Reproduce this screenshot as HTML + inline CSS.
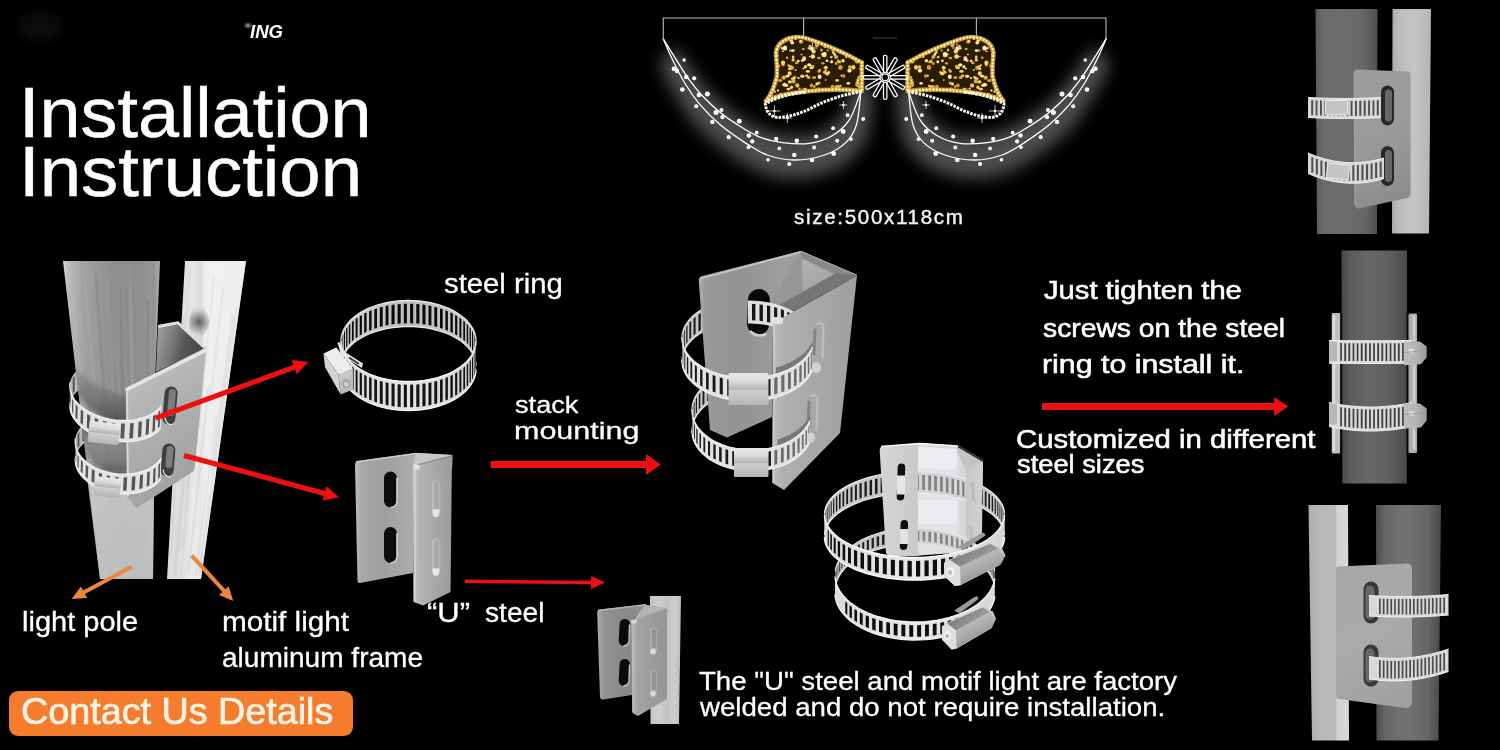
<!DOCTYPE html>
<html lang="en"><head><meta charset="utf-8"><title>Installation Instruction</title>
<style>
html,body{margin:0;padding:0;background:#000;}
#stage{position:relative;width:1500px;height:750px;background:#000;overflow:hidden;font-family:"Liberation Sans",sans-serif;}
#art{position:absolute;left:0;top:0;width:1500px;height:750px;}
.t{position:absolute;white-space:nowrap;transform-origin:0 50%;color:#fff;}
</style></head><body>
<div id="stage">
<svg id="art" width="1500" height="750" viewBox="0 0 1500 750">
<defs><linearGradient id="g1" gradientUnits="userSpaceOnUse" x1="1315" y1="0" x2="1378" y2="0"><stop offset="0" stop-color="#585858"/><stop offset="0.12" stop-color="#6a6a6a"/><stop offset="0.45" stop-color="#6d6d6d"/><stop offset="0.8" stop-color="#666"/><stop offset="1" stop-color="#4c4c4c"/></linearGradient><linearGradient id="g2" gradientUnits="userSpaceOnUse" x1="1392" y1="0" x2="1431" y2="0"><stop offset="0" stop-color="#acacac"/><stop offset="0.2" stop-color="#bebebe"/><stop offset="0.6" stop-color="#c4c4c4"/><stop offset="1" stop-color="#b4b4b4"/></linearGradient><linearGradient id="g3" gradientUnits="userSpaceOnUse" x1="1354" y1="70" x2="1410" y2="205"><stop offset="0" stop-color="#9d9d9d"/><stop offset="0.5" stop-color="#9a9a9a"/><stop offset="1" stop-color="#8a8a8a"/></linearGradient><linearGradient id="g4" gradientUnits="userSpaceOnUse" x1="1342" y1="0" x2="1406.5" y2="0"><stop offset="0" stop-color="#484848"/><stop offset="0.15" stop-color="#5e5e5e"/><stop offset="0.4" stop-color="#676767"/><stop offset="0.75" stop-color="#606060"/><stop offset="1" stop-color="#4a4a4a"/></linearGradient><linearGradient id="g5" gradientUnits="userSpaceOnUse" x1="1404" y1="0" x2="1428" y2="0"><stop offset="0" stop-color="#bebebe"/><stop offset="0.5" stop-color="#b5b5b5"/><stop offset="1" stop-color="#979797"/></linearGradient><linearGradient id="g6" gradientUnits="userSpaceOnUse" x1="1404" y1="0" x2="1428" y2="0"><stop offset="0" stop-color="#bebebe"/><stop offset="0.5" stop-color="#b5b5b5"/><stop offset="1" stop-color="#979797"/></linearGradient><linearGradient id="g7" gradientUnits="userSpaceOnUse" x1="1308" y1="0" x2="1348" y2="0"><stop offset="0" stop-color="#acacac"/><stop offset="0.3" stop-color="#b8b8b8"/><stop offset="0.7" stop-color="#bababa"/><stop offset="0.72" stop-color="#d3d3d3"/><stop offset="1" stop-color="#d7d7d7"/></linearGradient><linearGradient id="g8" gradientUnits="userSpaceOnUse" x1="1376" y1="0" x2="1441" y2="0"><stop offset="0" stop-color="#4c4c4c"/><stop offset="0.15" stop-color="#676767"/><stop offset="0.45" stop-color="#737373"/><stop offset="0.8" stop-color="#666"/><stop offset="1" stop-color="#484848"/></linearGradient><linearGradient id="g9" gradientUnits="userSpaceOnUse" x1="1336" y1="560" x2="1412" y2="705"><stop offset="0" stop-color="#a6a6a6"/><stop offset="0.5" stop-color="#aaaaaa"/><stop offset="1" stop-color="#9f9f9f"/></linearGradient><filter id="blur3" x="-20%" y="-20%" width="140%" height="140%"><feGaussianBlur stdDeviation="2"/></filter><linearGradient id="g10" gradientUnits="userSpaceOnUse" x1="175" y1="0" x2="235" y2="0"><stop offset="0" stop-color="#dcdcdc"/><stop offset="0.3" stop-color="#e6e6e6"/><stop offset="0.42" stop-color="#dadada"/><stop offset="0.5" stop-color="#eeeeee"/><stop offset="1" stop-color="#e8e8e8"/></linearGradient><linearGradient id="g11" gradientUnits="userSpaceOnUse" x1="0" y1="261" x2="0" y2="579"><stop offset="0" stop-color="#f1f1f1"/><stop offset="1" stop-color="#eaeaea"/></linearGradient><radialGradient id="g12" gradientUnits="userSpaceOnUse" cx="199" cy="322" r="15"><stop offset="0" stop-color="#4c4c4c" stop-opacity="0.9"/><stop offset="0.5" stop-color="#777" stop-opacity="0.55"/><stop offset="1" stop-color="#aaa" stop-opacity="0"/></radialGradient><linearGradient id="g13" gradientUnits="userSpaceOnUse" x1="63" y1="0" x2="160" y2="0"><stop offset="0" stop-color="#dadada"/><stop offset="0.05" stop-color="#bebebe"/><stop offset="0.2" stop-color="#a2a2a2"/><stop offset="0.5" stop-color="#909090"/><stop offset="0.8" stop-color="#8d8d8d"/><stop offset="0.95" stop-color="#9b9b9b"/><stop offset="1" stop-color="#acacac"/></linearGradient><linearGradient id="g14" gradientUnits="userSpaceOnUse" x1="0" y1="470" x2="0" y2="579"><stop offset="0" stop-color="#cfcfcf"/><stop offset="1" stop-color="#c9c9c9"/></linearGradient><linearGradient id="g15" gradientUnits="userSpaceOnUse" x1="0" y1="378" x2="0" y2="424"><stop offset="0" stop-color="#868686"/><stop offset="0.5" stop-color="#656565"/><stop offset="1" stop-color="#393939"/></linearGradient><linearGradient id="g16" gradientUnits="userSpaceOnUse" x1="0" y1="425" x2="0" y2="480"><stop offset="0" stop-color="#565656"/><stop offset="0.35" stop-color="#888"/><stop offset="0.65" stop-color="#777"/><stop offset="1" stop-color="#393939"/></linearGradient><linearGradient id="g17" gradientUnits="userSpaceOnUse" x1="158" y1="340" x2="200" y2="350"><stop offset="0" stop-color="#999"/><stop offset="0.35" stop-color="#777777"/><stop offset="0.6" stop-color="#585858"/><stop offset="1" stop-color="#484848"/></linearGradient><linearGradient id="g18" gradientUnits="userSpaceOnUse" x1="126" y1="380" x2="200" y2="480"><stop offset="0" stop-color="#bebebe"/><stop offset="0.4" stop-color="#b0b0b0"/><stop offset="1" stop-color="#a0a0a0"/></linearGradient><linearGradient id="g19" gradientUnits="userSpaceOnUse" x1="0" y1="422.5" x2="0" y2="443.5"><stop offset="0" stop-color="#e8e8e8"/><stop offset="0.25" stop-color="#dcdcdc"/><stop offset="0.5" stop-color="#b5b5b5"/><stop offset="0.55" stop-color="#cfcfcf"/><stop offset="1" stop-color="#b5b5b5"/></linearGradient><linearGradient id="g20" gradientUnits="userSpaceOnUse" x1="0" y1="477.5" x2="0" y2="496.5"><stop offset="0" stop-color="#e8e8e8"/><stop offset="0.25" stop-color="#dcdcdc"/><stop offset="0.5" stop-color="#b5b5b5"/><stop offset="0.55" stop-color="#cfcfcf"/><stop offset="1" stop-color="#b5b5b5"/></linearGradient><linearGradient id="g21" gradientUnits="userSpaceOnUse" x1="341" y1="0" x2="476" y2="0"><stop offset="0" stop-color="#d0d0d0"/><stop offset="0.5" stop-color="#bebebe"/><stop offset="1" stop-color="#cbcbcb"/></linearGradient><linearGradient id="g22" gradientUnits="userSpaceOnUse" x1="341" y1="0" x2="476" y2="0"><stop offset="0" stop-color="#d8d8d8"/><stop offset="0.5" stop-color="#e5e5e5"/><stop offset="1" stop-color="#d3d3d3"/></linearGradient><linearGradient id="g23" gradientUnits="userSpaceOnUse" x1="340" y1="372" x2="350" y2="394"><stop offset="0" stop-color="#cdcdcd"/><stop offset="1" stop-color="#b4b4b4"/></linearGradient><linearGradient id="g24" gradientUnits="userSpaceOnUse" x1="355" y1="0" x2="413" y2="0"><stop offset="0" stop-color="#bebebe"/><stop offset="0.12" stop-color="#a7a7a7"/><stop offset="0.5" stop-color="#9f9f9f"/><stop offset="1" stop-color="#acacac"/></linearGradient><linearGradient id="g25" gradientUnits="userSpaceOnUse" x1="413" y1="0" x2="452" y2="0"><stop offset="0" stop-color="#c5c5c5"/><stop offset="0.18" stop-color="#b4b4b4"/><stop offset="0.6" stop-color="#a6a6a6"/><stop offset="1" stop-color="#9c9c9c"/></linearGradient><linearGradient id="g26" gradientUnits="userSpaceOnUse" x1="699" y1="0" x2="780" y2="0"><stop offset="0" stop-color="#afafaf"/><stop offset="0.08" stop-color="#999999"/><stop offset="0.5" stop-color="#939393"/><stop offset="1" stop-color="#9d9d9d"/></linearGradient><linearGradient id="g27" gradientUnits="userSpaceOnUse" x1="802" y1="258" x2="830" y2="300"><stop offset="0" stop-color="#b2b2b2"/><stop offset="1" stop-color="#9f9f9f"/></linearGradient><linearGradient id="g28" gradientUnits="userSpaceOnUse" x1="773" y1="0" x2="857" y2="0"><stop offset="0" stop-color="#bcbcbc"/><stop offset="0.15" stop-color="#afafaf"/><stop offset="0.6" stop-color="#a6a6a6"/><stop offset="1" stop-color="#9e9e9e"/></linearGradient><linearGradient id="g29" gradientUnits="userSpaceOnUse" x1="0" y1="373" x2="0" y2="405"><stop offset="0" stop-color="#e8e8e8"/><stop offset="0.25" stop-color="#dcdcdc"/><stop offset="0.5" stop-color="#b5b5b5"/><stop offset="0.55" stop-color="#cfcfcf"/><stop offset="1" stop-color="#b5b5b5"/></linearGradient><linearGradient id="g30" gradientUnits="userSpaceOnUse" x1="0" y1="448" x2="0" y2="477"><stop offset="0" stop-color="#e8e8e8"/><stop offset="0.25" stop-color="#dcdcdc"/><stop offset="0.5" stop-color="#b5b5b5"/><stop offset="0.55" stop-color="#cfcfcf"/><stop offset="1" stop-color="#b5b5b5"/></linearGradient><linearGradient id="g31" gradientUnits="userSpaceOnUse" x1="825" y1="0" x2="1005" y2="0"><stop offset="0" stop-color="#cdcdcd"/><stop offset="0.5" stop-color="#bebebe"/><stop offset="1" stop-color="#c7c7c7"/></linearGradient><linearGradient id="g32" gradientUnits="userSpaceOnUse" x1="825" y1="0" x2="1005" y2="0"><stop offset="0" stop-color="#dadada"/><stop offset="0.5" stop-color="#e8e8e8"/><stop offset="1" stop-color="#d5d5d5"/></linearGradient><linearGradient id="g33" gradientUnits="userSpaceOnUse" x1="878" y1="0" x2="984" y2="0"><stop offset="0" stop-color="#cecece"/><stop offset="0.35" stop-color="#c9c9c9"/><stop offset="0.4" stop-color="#dcdcdc"/><stop offset="0.75" stop-color="#d6d6d6"/><stop offset="0.8" stop-color="#c3c3c3"/><stop offset="1" stop-color="#cccccc"/></linearGradient><linearGradient id="g34" gradientUnits="userSpaceOnUse" x1="880" y1="0" x2="918" y2="0"><stop offset="0" stop-color="#d5d5d5"/><stop offset="1" stop-color="#c9c9c9"/></linearGradient><linearGradient id="g35" gradientUnits="userSpaceOnUse" x1="965" y1="0" x2="984" y2="0"><stop offset="0" stop-color="#c7c7c7"/><stop offset="1" stop-color="#d2d2d2"/></linearGradient><linearGradient id="g36" gradientUnits="userSpaceOnUse" x1="960" y1="548" x2="975" y2="566"><stop offset="0" stop-color="#787878"/><stop offset="1" stop-color="#9b9b9b"/></linearGradient><linearGradient id="g37" gradientUnits="userSpaceOnUse" x1="975" y1="556" x2="985" y2="578"><stop offset="0" stop-color="#bcbcbc"/><stop offset="0.6" stop-color="#a8a8a8"/><stop offset="1" stop-color="#888888"/></linearGradient><linearGradient id="g38" gradientUnits="userSpaceOnUse" x1="650" y1="0" x2="681" y2="0"><stop offset="0" stop-color="#c6c6c6"/><stop offset="0.3" stop-color="#cfcfcf"/><stop offset="0.55" stop-color="#c3c3c3"/><stop offset="0.8" stop-color="#cdcdcd"/><stop offset="1" stop-color="#bababa"/></linearGradient><linearGradient id="g39" gradientUnits="userSpaceOnUse" x1="597" y1="0" x2="646" y2="0"><stop offset="0" stop-color="#acacac"/><stop offset="0.15" stop-color="#929292"/><stop offset="0.6" stop-color="#888888"/><stop offset="1" stop-color="#939393"/></linearGradient><linearGradient id="g40" gradientUnits="userSpaceOnUse" x1="631" y1="0" x2="667" y2="0"><stop offset="0" stop-color="#bababa"/><stop offset="0.2" stop-color="#a2a2a2"/><stop offset="1" stop-color="#959595"/></linearGradient><filter id="blur7" x="-30%" y="-30%" width="160%" height="160%"><feGaussianBlur stdDeviation="8"/></filter><filter id="blur05" x="-10%" y="-10%" width="120%" height="120%"><feGaussianBlur stdDeviation="0.6"/></filter><filter id="blur2" x="-30%" y="-30%" width="160%" height="160%"><feGaussianBlur stdDeviation="1.2"/></filter><radialGradient id="g41" gradientUnits="userSpaceOnUse" cx="0" cy="0" r="1"><stop offset="0" stop-color="#0e0e0e" stop-opacity="1"/><stop offset="0.5" stop-color="#0b0b0b" stop-opacity="0.8"/><stop offset="1" stop-color="#000" stop-opacity="0"/></radialGradient></defs>
<polygon points="1315.5,9.0 1377.5,9.0 1377.0,234.0 1317.0,234.0" fill="url(#g1)" /><polygon points="1392.5,9.0 1431.0,9.0 1429.0,233.5 1392.0,233.5" fill="url(#g2)" /><path d="M1357 69.5 L1407 71.5 Q1410.5 71.5 1410.5 75 L1410.5 194 Q1410.5 197 1407 198 L1359 208.5 Q1355 209 1355 205 L1354 73 Q1354 69.5 1357 69.5Z" fill="url(#g3)"/><path d="M1355 205 L1354 73" stroke="#a5a39f" stroke-width="1.2" fill="none"/><rect x="1381.0" y="85.5" width="13.0" height="40.0" rx="6.5" fill="#2a2826"  /><rect x="1385.0" y="89.5" width="7.0" height="32.0" rx="3.5" fill="#6a6866"  /><rect x="1381.0" y="146.0" width="13.0" height="40.0" rx="6.5" fill="#2a2826"  /><rect x="1385.0" y="150.0" width="7.0" height="32.0" rx="3.5" fill="#6a6866"  /><polygon points="1308.0,97.5 1311.0,97.7 1314.1,97.8 1317.1,97.9 1320.2,98.1 1323.2,98.2 1326.2,98.2 1329.3,98.3 1332.3,98.4 1335.4,98.4 1338.4,98.5 1341.5,98.5 1344.5,98.5 1347.5,98.5 1350.6,98.5 1353.6,98.4 1356.7,98.4 1359.7,98.3 1362.8,98.2 1365.8,98.2 1368.8,98.1 1371.9,97.9 1374.9,97.8 1378.0,97.7 1381.0,97.5 1381.0,117.5 1378.0,117.7 1374.9,117.8 1371.9,117.9 1368.8,118.1 1365.8,118.2 1362.8,118.2 1359.7,118.3 1356.7,118.4 1353.6,118.4 1350.6,118.5 1347.5,118.5 1344.5,118.5 1341.5,118.5 1338.4,118.5 1335.4,118.4 1332.3,118.4 1329.3,118.3 1326.2,118.2 1323.2,118.2 1320.2,118.1 1317.1,117.9 1314.1,117.8 1311.0,117.7 1308.0,117.5" fill="#d6d6d6" /><path d="M1311.2 100.2L1313.2 100.2L1313.2 115.2L1311.2 115.2ZM1315.6 100.4L1317.5 100.4L1317.5 115.4L1315.6 115.4ZM1320.0 100.6L1321.9 100.6L1321.9 115.6L1320.0 115.6ZM1324.3 100.7L1326.3 100.7L1326.3 115.7L1324.3 115.7ZM1328.7 100.8L1330.7 100.8L1330.7 115.8L1328.7 115.8ZM1333.1 100.9L1335.0 100.9L1335.0 115.9L1333.1 115.9ZM1337.5 101.0L1339.4 101.0L1339.4 116.0L1337.5 116.0ZM1341.8 101.0L1343.8 101.0L1343.8 116.0L1341.8 116.0ZM1346.2 101.0L1348.2 101.0L1348.2 116.0L1346.2 116.0ZM1350.6 101.0L1352.5 101.0L1352.5 116.0L1350.6 116.0ZM1355.0 100.9L1356.9 100.9L1356.9 115.9L1355.0 115.9ZM1359.3 100.8L1361.3 100.8L1361.3 115.8L1359.3 115.8ZM1363.7 100.7L1365.7 100.7L1365.7 115.7L1363.7 115.7ZM1368.1 100.5L1370.0 100.5L1370.0 115.5L1368.1 115.5ZM1372.5 100.4L1374.4 100.4L1374.4 115.4L1372.5 115.4ZM1376.8 100.2L1378.8 100.2L1378.8 115.2L1376.8 115.2Z" fill="#505050"/><polyline points="1308.0,97.5 1311.0,97.7 1314.1,97.8 1317.1,97.9 1320.2,98.1 1323.2,98.2 1326.2,98.2 1329.3,98.3 1332.3,98.4 1335.4,98.4 1338.4,98.5 1341.5,98.5 1344.5,98.5 1347.5,98.5 1350.6,98.5 1353.6,98.4 1356.7,98.4 1359.7,98.3 1362.8,98.2 1365.8,98.2 1368.8,98.1 1371.9,97.9 1374.9,97.8 1378.0,97.7 1381.0,97.5" fill="none" stroke="#f4f4f4" stroke-width="1"/><polyline points="1308.0,117.5 1311.0,117.7 1314.1,117.8 1317.1,117.9 1320.2,118.1 1323.2,118.2 1326.2,118.2 1329.3,118.3 1332.3,118.4 1335.4,118.4 1338.4,118.5 1341.5,118.5 1344.5,118.5 1347.5,118.5 1350.6,118.5 1353.6,118.4 1356.7,118.4 1359.7,118.3 1362.8,118.2 1365.8,118.2 1368.8,118.1 1371.9,117.9 1374.9,117.8 1378.0,117.7 1381.0,117.5" fill="none" stroke="#f4f4f4" stroke-width="1"/><rect x="1325.5" y="100.5" width="22.0" height="14.5" rx="1" fill="#c4c4c4" stroke="#efefef" stroke-width="1"/><polygon points="1308.0,153.0 1311.2,154.3 1314.3,155.6 1317.5,156.7 1320.7,157.7 1323.8,158.7 1327.0,159.5 1330.2,160.2 1333.3,160.9 1336.5,161.4 1339.7,161.9 1342.8,162.2 1346.0,162.5 1349.2,162.7 1352.3,162.7 1355.5,162.7 1358.7,162.6 1361.8,162.3 1365.0,162.0 1368.2,161.6 1371.3,161.1 1374.5,160.4 1377.7,159.7 1380.8,158.9 1384.0,158.0 1384.0,178.5 1380.8,179.4 1377.7,180.2 1374.5,180.9 1371.3,181.6 1368.2,182.1 1365.0,182.5 1361.8,182.8 1358.7,183.1 1355.5,183.2 1352.3,183.2 1349.2,183.2 1346.0,183.0 1342.8,182.7 1339.7,182.4 1336.5,181.9 1333.3,181.4 1330.2,180.7 1327.0,180.0 1323.8,179.2 1320.7,178.2 1317.5,177.2 1314.3,176.1 1311.2,174.8 1308.0,173.5" fill="#d6d6d6" /><path d="M1311.3 157.3L1313.3 157.3L1313.3 172.8L1311.3 172.8ZM1315.8 159.0L1317.9 159.0L1317.9 174.5L1315.8 174.5ZM1320.4 160.4L1322.4 160.4L1322.4 175.9L1320.4 175.9ZM1324.9 161.7L1327.0 161.7L1327.0 177.2L1324.9 177.2ZM1329.5 162.8L1331.6 162.8L1331.6 178.3L1329.5 178.3ZM1334.1 163.7L1336.1 163.7L1336.1 179.2L1334.1 179.2ZM1338.6 164.4L1340.7 164.4L1340.7 179.9L1338.6 179.9ZM1343.2 164.9L1345.2 164.9L1345.2 180.4L1343.2 180.4ZM1347.8 165.1L1349.8 165.1L1349.8 180.6L1347.8 180.6ZM1352.3 165.2L1354.4 165.2L1354.4 180.7L1352.3 180.7ZM1356.9 165.1L1358.9 165.1L1358.9 180.6L1356.9 180.6ZM1361.4 164.8L1363.5 164.8L1363.5 180.3L1361.4 180.3ZM1366.0 164.2L1368.1 164.2L1368.1 179.7L1366.0 179.7ZM1370.6 163.5L1372.6 163.5L1372.6 179.0L1370.6 179.0ZM1375.1 162.6L1377.2 162.6L1377.2 178.1L1375.1 178.1ZM1379.7 161.4L1381.7 161.4L1381.7 176.9L1379.7 176.9Z" fill="#505050"/><polyline points="1308.0,153.0 1311.2,154.3 1314.3,155.6 1317.5,156.7 1320.7,157.7 1323.8,158.7 1327.0,159.5 1330.2,160.2 1333.3,160.9 1336.5,161.4 1339.7,161.9 1342.8,162.2 1346.0,162.5 1349.2,162.7 1352.3,162.7 1355.5,162.7 1358.7,162.6 1361.8,162.3 1365.0,162.0 1368.2,161.6 1371.3,161.1 1374.5,160.4 1377.7,159.7 1380.8,158.9 1384.0,158.0" fill="none" stroke="#f4f4f4" stroke-width="1"/><polyline points="1308.0,173.5 1311.2,174.8 1314.3,176.1 1317.5,177.2 1320.7,178.2 1323.8,179.2 1327.0,180.0 1330.2,180.7 1333.3,181.4 1336.5,181.9 1339.7,182.4 1342.8,182.7 1346.0,183.0 1349.2,183.2 1352.3,183.2 1355.5,183.2 1358.7,183.1 1361.8,182.8 1365.0,182.5 1368.2,182.1 1371.3,181.6 1374.5,180.9 1377.7,180.2 1380.8,179.4 1384.0,178.5" fill="none" stroke="#f4f4f4" stroke-width="1"/><rect x="1327.0" y="164.0" width="22.0" height="15.0" rx="1" fill="#c4c4c4" stroke="#efefef" stroke-width="1" transform="rotate(5 1338 171)"/><polygon points="1341.5,250.5 1407.0,250.5 1406.8,483.5 1342.3,483.5" fill="url(#g4)" /><rect x="1331.7" y="313.0" width="8.6" height="140.5" rx="1.5" fill="#bdbdbd" /><rect x="1332.6" y="315.0" width="2.6" height="136.0" rx="1" fill="#dcdcdc" /><rect x="1340.3" y="313.0" width="2.0" height="140.5" rx="0" fill="#0c0c0c" /><rect x="1406.5" y="313.5" width="2.0" height="139.5" rx="0" fill="#0c0c0c" /><rect x="1408.5" y="313.5" width="8.6" height="139.5" rx="1.5" fill="#ababab" /><rect x="1412.5" y="315.0" width="3.0" height="135.0" rx="1" fill="#cbcbcb" /><polygon points="1329.0,340.5 1332.5,340.5 1335.9,340.6 1339.4,340.6 1342.8,340.7 1346.3,340.7 1349.8,340.7 1353.2,340.7 1356.7,340.8 1360.1,340.8 1363.6,340.8 1367.0,340.8 1370.5,340.8 1374.0,340.8 1377.4,340.8 1380.9,340.8 1384.3,340.8 1387.8,340.7 1391.2,340.7 1394.7,340.7 1398.2,340.7 1401.6,340.6 1405.1,340.6 1408.5,340.5 1412.0,340.5 1412.0,363.2 1408.5,363.2 1405.1,363.3 1401.6,363.3 1398.2,363.4 1394.7,363.4 1391.2,363.4 1387.8,363.4 1384.3,363.5 1380.9,363.5 1377.4,363.5 1374.0,363.5 1370.5,363.5 1367.0,363.5 1363.6,363.5 1360.1,363.5 1356.7,363.5 1353.2,363.4 1349.8,363.4 1346.3,363.4 1342.8,363.4 1339.4,363.3 1335.9,363.3 1332.5,363.2 1329.0,363.2" fill="#dadada" /><path d="M1340.2 343.1L1341.9 343.1L1341.9 360.8L1340.2 360.8ZM1344.3 343.2L1346.1 343.2L1346.1 360.9L1344.3 360.9ZM1348.4 343.2L1350.2 343.2L1350.2 360.9L1348.4 360.9ZM1352.6 343.2L1354.3 343.2L1354.3 360.9L1352.6 360.9ZM1356.7 343.3L1358.4 343.3L1358.4 361.0L1356.7 361.0ZM1360.8 343.3L1362.6 343.3L1362.6 361.0L1360.8 361.0ZM1364.9 343.3L1366.7 343.3L1366.7 361.0L1364.9 361.0ZM1369.1 343.3L1370.8 343.3L1370.8 361.0L1369.1 361.0ZM1373.2 343.3L1374.9 343.3L1374.9 361.0L1373.2 361.0ZM1377.3 343.3L1379.1 343.3L1379.1 361.0L1377.3 361.0ZM1381.4 343.3L1383.2 343.3L1383.2 361.0L1381.4 361.0ZM1385.6 343.3L1387.3 343.3L1387.3 361.0L1385.6 361.0ZM1389.7 343.2L1391.4 343.2L1391.4 360.9L1389.7 360.9ZM1393.8 343.2L1395.6 343.2L1395.6 360.9L1393.8 360.9ZM1397.9 343.2L1399.7 343.2L1399.7 360.9L1397.9 360.9ZM1402.1 343.1L1403.8 343.1L1403.8 360.8L1402.1 360.8Z" fill="#3c3c3c"/><polyline points="1329.0,340.5 1332.5,340.5 1335.9,340.6 1339.4,340.6 1342.8,340.7 1346.3,340.7 1349.8,340.7 1353.2,340.7 1356.7,340.8 1360.1,340.8 1363.6,340.8 1367.0,340.8 1370.5,340.8 1374.0,340.8 1377.4,340.8 1380.9,340.8 1384.3,340.8 1387.8,340.7 1391.2,340.7 1394.7,340.7 1398.2,340.7 1401.6,340.6 1405.1,340.6 1408.5,340.5 1412.0,340.5" fill="none" stroke="#f4f4f4" stroke-width="1"/><polyline points="1329.0,363.2 1332.5,363.2 1335.9,363.3 1339.4,363.3 1342.8,363.4 1346.3,363.4 1349.8,363.4 1353.2,363.4 1356.7,363.5 1360.1,363.5 1363.6,363.5 1367.0,363.5 1370.5,363.5 1374.0,363.5 1377.4,363.5 1380.9,363.5 1384.3,363.5 1387.8,363.4 1391.2,363.4 1394.7,363.4 1398.2,363.4 1401.6,363.3 1405.1,363.3 1408.5,363.2 1412.0,363.2" fill="none" stroke="#f4f4f4" stroke-width="1"/><path d="M1404.3 341.5 L1420 341.5 L1426.7 346.5 L1426.7 357.2 L1421 364.2 L1404.3 365.2Z" fill="url(#g5)"/><ellipse cx="1411.5" cy="350.9" rx="3.2" ry="2.2" fill="#e2e2e2"/><path d="M1404.5 352.5 L1426.5 350.5" stroke="#9a9a9a" stroke-width="1" fill="none"/><rect x="1329.0" y="341.5" width="8.0" height="19.7" rx="1" fill="#b8b8b8" /><polygon points="1329.0,402.5 1332.5,403.2 1335.9,403.9 1339.4,404.5 1342.8,405.0 1346.3,405.5 1349.8,405.9 1353.2,406.2 1356.7,406.5 1360.1,406.7 1363.6,406.9 1367.0,407.0 1370.5,407.0 1374.0,407.0 1377.4,406.9 1380.9,406.7 1384.3,406.5 1387.8,406.2 1391.2,405.9 1394.7,405.5 1398.2,405.0 1401.6,404.5 1405.1,403.9 1408.5,403.2 1412.0,402.5 1412.0,426.5 1408.5,427.2 1405.1,427.9 1401.6,428.5 1398.2,429.0 1394.7,429.5 1391.2,429.9 1387.8,430.2 1384.3,430.5 1380.9,430.7 1377.4,430.9 1374.0,431.0 1370.5,431.0 1367.0,431.0 1363.6,430.9 1360.1,430.7 1356.7,430.5 1353.2,430.2 1349.8,429.9 1346.3,429.5 1342.8,429.0 1339.4,428.5 1335.9,427.9 1332.5,427.2 1329.0,426.5" fill="#dadada" /><path d="M1340.2 407.2L1341.9 407.2L1341.9 426.2L1340.2 426.2ZM1344.3 407.8L1346.1 407.8L1346.1 426.8L1344.3 426.8ZM1348.4 408.3L1350.2 408.3L1350.2 427.3L1348.4 427.3ZM1352.6 408.7L1354.3 408.7L1354.3 427.7L1352.6 427.7ZM1356.7 409.1L1358.4 409.1L1358.4 428.1L1356.7 428.1ZM1360.8 409.3L1362.6 409.3L1362.6 428.3L1360.8 428.3ZM1364.9 409.4L1366.7 409.4L1366.7 428.4L1364.9 428.4ZM1369.1 409.5L1370.8 409.5L1370.8 428.5L1369.1 428.5ZM1373.2 409.5L1374.9 409.5L1374.9 428.5L1373.2 428.5ZM1377.3 409.3L1379.1 409.3L1379.1 428.3L1377.3 428.3ZM1381.4 409.1L1383.2 409.1L1383.2 428.1L1381.4 428.1ZM1385.6 408.8L1387.3 408.8L1387.3 427.8L1385.6 427.8ZM1389.7 408.4L1391.4 408.4L1391.4 427.4L1389.7 427.4ZM1393.8 408.0L1395.6 408.0L1395.6 427.0L1393.8 427.0ZM1397.9 407.4L1399.7 407.4L1399.7 426.4L1397.9 426.4ZM1402.1 406.8L1403.8 406.8L1403.8 425.8L1402.1 425.8Z" fill="#3c3c3c"/><polyline points="1329.0,402.5 1332.5,403.2 1335.9,403.9 1339.4,404.5 1342.8,405.0 1346.3,405.5 1349.8,405.9 1353.2,406.2 1356.7,406.5 1360.1,406.7 1363.6,406.9 1367.0,407.0 1370.5,407.0 1374.0,407.0 1377.4,406.9 1380.9,406.7 1384.3,406.5 1387.8,406.2 1391.2,405.9 1394.7,405.5 1398.2,405.0 1401.6,404.5 1405.1,403.9 1408.5,403.2 1412.0,402.5" fill="none" stroke="#f4f4f4" stroke-width="1"/><polyline points="1329.0,426.5 1332.5,427.2 1335.9,427.9 1339.4,428.5 1342.8,429.0 1346.3,429.5 1349.8,429.9 1353.2,430.2 1356.7,430.5 1360.1,430.7 1363.6,430.9 1367.0,431.0 1370.5,431.0 1374.0,431.0 1377.4,430.9 1380.9,430.7 1384.3,430.5 1387.8,430.2 1391.2,429.9 1394.7,429.5 1398.2,429.0 1401.6,428.5 1405.1,427.9 1408.5,427.2 1412.0,426.5" fill="none" stroke="#f4f4f4" stroke-width="1"/><path d="M1404.3 403.5 L1420 403.5 L1426.7 408.5 L1426.7 420.5 L1421 427.5 L1404.3 428.5Z" fill="url(#g6)"/><ellipse cx="1411.5" cy="413.5" rx="3.2" ry="2.2" fill="#e2e2e2"/><path d="M1404.5 414.5 L1426.5 412.5" stroke="#9a9a9a" stroke-width="1" fill="none"/><rect x="1329.0" y="403.5" width="8.0" height="21.0" rx="1" fill="#b8b8b8" /><polygon points="1308.5,505.0 1348.0,505.0 1349.0,740.5 1312.0,740.5" fill="url(#g7)" /><polygon points="1376.0,505.0 1441.0,505.0 1438.5,740.5 1376.5,740.5" fill="url(#g8)" /><path d="M1338 566.5 L1407 563.5 Q1412 563.5 1412 568 L1412 701 Q1412 709 1405 708 L1339 699 Q1336 698.5 1336 696 L1336 569 Q1336 566.5 1338 566.5Z" fill="url(#g9)"/><rect x="1363.5" y="581.5" width="15.0" height="42.0" rx="7.5" fill="#3a3836"  /><rect x="1365.5" y="585.5" width="9.0" height="34.0" rx="4.5" fill="#6a6866"  /><rect x="1363.5" y="644.5" width="15.0" height="42.0" rx="7.5" fill="#3a3836"  /><rect x="1365.5" y="648.5" width="9.0" height="34.0" rx="4.5" fill="#6a6866"  /><polygon points="1369.0,595.5 1372.3,595.7 1375.6,595.9 1378.9,596.0 1382.2,596.2 1385.6,596.3 1388.9,596.4 1392.2,596.4 1395.5,596.5 1398.8,596.5 1402.1,596.5 1405.4,596.5 1408.8,596.5 1412.1,596.4 1415.4,596.4 1418.7,596.3 1422.0,596.2 1425.3,596.0 1428.6,595.9 1431.9,595.7 1435.2,595.5 1438.6,595.3 1441.9,595.0 1445.2,594.8 1448.5,594.5 1448.5,615.0 1445.2,615.3 1441.9,615.5 1438.6,615.8 1435.2,616.0 1431.9,616.2 1428.6,616.4 1425.3,616.5 1422.0,616.7 1418.7,616.8 1415.4,616.9 1412.1,616.9 1408.8,617.0 1405.4,617.0 1402.1,617.0 1398.8,617.0 1395.5,617.0 1392.2,616.9 1388.9,616.9 1385.6,616.8 1382.2,616.7 1378.9,616.5 1375.6,616.4 1372.3,616.2 1369.0,616.0" fill="#d8d8d8" /><path d="M1379.0 598.6L1380.7 598.6L1380.7 614.1L1379.0 614.1ZM1382.8 598.7L1384.5 598.7L1384.5 614.2L1382.8 614.2ZM1386.6 598.8L1388.3 598.8L1388.3 614.3L1386.6 614.3ZM1390.4 598.9L1392.1 598.9L1392.1 614.4L1390.4 614.4ZM1394.2 599.0L1395.8 599.0L1395.8 614.5L1394.2 614.5ZM1397.9 599.0L1399.6 599.0L1399.6 614.5L1397.9 614.5ZM1401.7 599.0L1403.4 599.0L1403.4 614.5L1401.7 614.5ZM1405.5 599.0L1407.2 599.0L1407.2 614.5L1405.5 614.5ZM1409.3 599.0L1411.0 599.0L1411.0 614.5L1409.3 614.5ZM1413.0 598.9L1414.7 598.9L1414.7 614.4L1413.0 614.4ZM1416.8 598.8L1418.5 598.8L1418.5 614.3L1416.8 614.3ZM1420.6 598.7L1422.3 598.7L1422.3 614.2L1420.6 614.2ZM1424.4 598.5L1426.1 598.5L1426.1 614.0L1424.4 614.0ZM1428.2 598.4L1429.8 598.4L1429.8 613.9L1428.2 613.9ZM1431.9 598.1L1433.6 598.1L1433.6 613.6L1431.9 613.6ZM1435.7 597.9L1437.4 597.9L1437.4 613.4L1435.7 613.4ZM1439.5 597.7L1441.2 597.7L1441.2 613.2L1439.5 613.2ZM1443.3 597.4L1445.0 597.4L1445.0 612.9L1443.3 612.9Z" fill="#4a4a4a"/><polyline points="1369.0,595.5 1372.3,595.7 1375.6,595.9 1378.9,596.0 1382.2,596.2 1385.6,596.3 1388.9,596.4 1392.2,596.4 1395.5,596.5 1398.8,596.5 1402.1,596.5 1405.4,596.5 1408.8,596.5 1412.1,596.4 1415.4,596.4 1418.7,596.3 1422.0,596.2 1425.3,596.0 1428.6,595.9 1431.9,595.7 1435.2,595.5 1438.6,595.3 1441.9,595.0 1445.2,594.8 1448.5,594.5" fill="none" stroke="#f4f4f4" stroke-width="1"/><polyline points="1369.0,616.0 1372.3,616.2 1375.6,616.4 1378.9,616.5 1382.2,616.7 1385.6,616.8 1388.9,616.9 1392.2,616.9 1395.5,617.0 1398.8,617.0 1402.1,617.0 1405.4,617.0 1408.8,617.0 1412.1,616.9 1415.4,616.9 1418.7,616.8 1422.0,616.7 1425.3,616.5 1428.6,616.4 1431.9,616.2 1435.2,616.0 1438.6,615.8 1441.9,615.5 1445.2,615.3 1448.5,615.0" fill="none" stroke="#f4f4f4" stroke-width="1"/><polygon points="1369.0,656.5 1372.3,657.0 1375.6,657.4 1378.9,657.8 1382.2,658.0 1385.6,658.2 1388.9,658.4 1392.2,658.4 1395.5,658.4 1398.8,658.4 1402.1,658.2 1405.4,658.0 1408.8,657.8 1412.1,657.4 1415.4,657.0 1418.7,656.5 1422.0,655.9 1425.3,655.3 1428.6,654.6 1431.9,653.9 1435.2,653.0 1438.6,652.1 1441.9,651.2 1445.2,650.1 1448.5,649.0 1448.5,671.5 1445.2,672.6 1441.9,673.7 1438.6,674.6 1435.2,675.5 1431.9,676.4 1428.6,677.1 1425.3,677.8 1422.0,678.4 1418.7,679.0 1415.4,679.5 1412.1,679.9 1408.8,680.2 1405.4,680.5 1402.1,680.7 1398.8,680.9 1395.5,680.9 1392.2,680.9 1388.9,680.9 1385.6,680.7 1382.2,680.5 1378.9,680.2 1375.6,679.9 1372.3,679.5 1369.0,679.0" fill="#d8d8d8" /><path d="M1379.0 660.3L1380.7 660.3L1380.7 677.8L1379.0 677.8ZM1382.8 660.6L1384.5 660.6L1384.5 678.1L1382.8 678.1ZM1386.6 660.8L1388.3 660.8L1388.3 678.3L1386.6 678.3ZM1390.4 660.9L1392.1 660.9L1392.1 678.4L1390.4 678.4ZM1394.2 660.9L1395.8 660.9L1395.8 678.4L1394.2 678.4ZM1397.9 660.9L1399.6 660.9L1399.6 678.4L1397.9 678.4ZM1401.7 660.7L1403.4 660.7L1403.4 678.2L1401.7 678.2ZM1405.5 660.5L1407.2 660.5L1407.2 678.0L1405.5 678.0ZM1409.3 660.1L1411.0 660.1L1411.0 677.6L1409.3 677.6ZM1413.0 659.7L1414.7 659.7L1414.7 677.2L1413.0 677.2ZM1416.8 659.2L1418.5 659.2L1418.5 676.7L1416.8 676.7ZM1420.6 658.5L1422.3 658.5L1422.3 676.0L1420.6 676.0ZM1424.4 657.8L1426.1 657.8L1426.1 675.3L1424.4 675.3ZM1428.2 657.0L1429.8 657.0L1429.8 674.5L1428.2 674.5ZM1431.9 656.2L1433.6 656.2L1433.6 673.7L1431.9 673.7ZM1435.7 655.2L1437.4 655.2L1437.4 672.7L1435.7 672.7ZM1439.5 654.1L1441.2 654.1L1441.2 671.6L1439.5 671.6ZM1443.3 653.0L1445.0 653.0L1445.0 670.5L1443.3 670.5Z" fill="#4a4a4a"/><polyline points="1369.0,656.5 1372.3,657.0 1375.6,657.4 1378.9,657.8 1382.2,658.0 1385.6,658.2 1388.9,658.4 1392.2,658.4 1395.5,658.4 1398.8,658.4 1402.1,658.2 1405.4,658.0 1408.8,657.8 1412.1,657.4 1415.4,657.0 1418.7,656.5 1422.0,655.9 1425.3,655.3 1428.6,654.6 1431.9,653.9 1435.2,653.0 1438.6,652.1 1441.9,651.2 1445.2,650.1 1448.5,649.0" fill="none" stroke="#f4f4f4" stroke-width="1"/><polyline points="1369.0,679.0 1372.3,679.5 1375.6,679.9 1378.9,680.2 1382.2,680.5 1385.6,680.7 1388.9,680.9 1392.2,680.9 1395.5,680.9 1398.8,680.9 1402.1,680.7 1405.4,680.5 1408.8,680.2 1412.1,679.9 1415.4,679.5 1418.7,679.0 1422.0,678.4 1425.3,677.8 1428.6,677.1 1431.9,676.4 1435.2,675.5 1438.6,674.6 1441.9,673.7 1445.2,672.6 1448.5,671.5" fill="none" stroke="#f4f4f4" stroke-width="1"/><polygon points="74.2,399.1 73.3,397.7 72.5,396.2 71.8,394.8 71.2,393.4 70.7,391.9 70.3,390.4 70.0,389.0 69.8,387.5 69.8,386.1 69.8,384.6 70.0,383.2 70.3,381.8 70.6,380.4 71.1,379.0 71.7,377.7 72.4,376.3 73.2,375.0 74.1,373.8 75.1,372.6 76.2,371.4 77.4,370.3 78.7,369.2 80.0,368.1 81.5,367.1 83.0,366.2 84.7,365.3 86.4,364.5 88.1,363.7 90.0,363.0 91.9,362.4 93.8,361.8 95.9,361.3 97.9,360.8 100.0,360.4 102.2,360.1 104.4,359.9 106.6,359.7 108.8,359.6 111.1,359.6 113.4,359.6 113.4,380.6 111.1,380.6 108.8,380.6 106.6,380.7 104.4,380.9 102.2,381.1 100.0,381.4 97.9,381.8 95.9,382.3 93.8,382.8 91.9,383.4 90.0,384.0 88.1,384.7 86.4,385.5 84.7,386.3 83.0,387.2 81.5,388.1 80.0,389.1 78.7,390.2 77.4,391.3 76.2,392.4 75.1,393.6 74.1,394.8 73.2,396.0 72.4,397.3 71.7,398.7 71.1,400.0 70.6,401.4 70.3,402.8 70.0,404.2 69.8,405.6 69.8,407.1 69.8,408.5 70.0,410.0 70.3,411.4 70.7,412.9 71.2,414.4 71.8,415.8 72.5,417.2 73.3,418.7 74.2,420.1" fill="#b9b9b9" /><path d="M73.0 400.1 L71.4 396.9 L71.4 411.9 L73.0 415.1ZM70.2 392.9 L69.8 389.6 L69.8 404.6 L70.2 407.9ZM70.1 385.7 L70.9 382.5 L70.9 397.5 L70.1 400.7ZM72.7 378.8 L74.7 376.0 L74.7 391.0 L72.7 393.8ZM77.8 372.8 L80.9 370.5 L80.9 385.5 L77.8 387.8ZM85.3 368.0 L89.3 366.3 L89.3 381.3 L85.3 383.0ZM94.6 364.6 L99.2 363.6 L99.2 378.6 L94.6 379.6ZM105.2 362.8 L110.2 362.6 L110.2 377.6 L105.2 377.8Z" fill="#555"/><polygon points="79.7,454.8 78.8,453.5 78.0,452.1 77.3,450.7 76.7,449.3 76.2,447.8 75.8,446.4 75.4,444.9 75.2,443.5 75.1,442.0 75.2,440.6 75.3,439.2 75.5,437.7 75.8,436.3 76.2,434.9 76.7,433.6 77.3,432.2 78.0,430.9 78.9,429.6 79.8,428.3 80.8,427.1 81.9,425.9 83.0,424.8 84.3,423.7 85.6,422.7 87.1,421.7 88.6,420.7 90.1,419.8 91.8,419.0 93.5,418.2 95.2,417.5 97.1,416.8 98.9,416.2 100.9,415.7 102.8,415.2 104.8,414.8 106.9,414.5 109.0,414.2 111.1,414.0 113.2,413.9 115.3,413.8 115.3,433.3 113.2,433.4 111.1,433.5 109.0,433.7 106.9,434.0 104.8,434.3 102.8,434.7 100.9,435.2 98.9,435.7 97.1,436.3 95.2,437.0 93.5,437.7 91.8,438.5 90.1,439.3 88.6,440.2 87.1,441.2 85.6,442.2 84.3,443.2 83.0,444.3 81.9,445.4 80.8,446.6 79.8,447.8 78.9,449.1 78.0,450.4 77.3,451.7 76.7,453.1 76.2,454.4 75.8,455.8 75.5,457.2 75.3,458.7 75.2,460.1 75.1,461.5 75.2,463.0 75.4,464.4 75.8,465.9 76.2,467.3 76.7,468.8 77.3,470.2 78.0,471.6 78.8,473.0 79.7,474.3" fill="#b9b9b9" /><path d="M78.5 456.0 L76.9 452.8 L76.9 466.3 L78.5 469.5ZM75.6 448.8 L75.2 445.6 L75.2 459.1 L75.6 462.3ZM75.3 441.6 L76.0 438.5 L76.0 452.0 L75.3 455.1ZM77.6 434.7 L79.4 431.8 L79.4 445.3 L77.6 448.2ZM82.3 428.5 L85.1 426.0 L85.1 439.5 L82.3 442.0ZM89.1 423.4 L92.8 421.5 L92.8 435.0 L89.1 436.9ZM97.8 419.6 L102.1 418.4 L102.1 431.9 L97.8 433.1ZM107.7 417.4 L112.4 416.9 L112.4 430.4 L107.7 430.9Z" fill="#555"/><polygon points="185.0,261.0 246.0,261.0 201.0,579.0 167.0,579.0" fill="url(#g10)" /><polygon points="210.0,261.0 246.0,261.0 201.0,579.0 186.0,579.0" fill="url(#g11)" opacity="0.75"/><g fill="none" stroke-linecap="round"><path d="M208.7 387.6L188.4 572.5" stroke="#000" stroke-width="2.4" opacity="0.05"/><path d="M179.7 411.1L171.1 552.7" stroke="#000" stroke-width="1.7" opacity="0.02"/><path d="M205.4 347.9L188.6 520.4" stroke="#fff" stroke-width="1.2" opacity="0.02"/><path d="M193.1 383.0L184.1 493.8" stroke="#000" stroke-width="2.8" opacity="0.02"/><path d="M222.1 262.3L190.7 549.6" stroke="#fff" stroke-width="0.9" opacity="0.02"/><path d="M236.5 307.7L199.8 571.2" stroke="#000" stroke-width="2.7" opacity="0.04"/><path d="M190.5 371.1L175.2 574.3" stroke="#000" stroke-width="2.9" opacity="0.03"/><path d="M205.6 285.0L196.1 392.7" stroke="#fff" stroke-width="1.0" opacity="0.04"/><path d="M184.2 315.4L175.6 462.2" stroke="#000" stroke-width="2.2" opacity="0.03"/><path d="M195.7 373.3L187.1 474.4" stroke="#000" stroke-width="1.8" opacity="0.02"/><path d="M229.3 264.9L197.2 531.7" stroke="#fff" stroke-width="2.6" opacity="0.04"/><path d="M186.0 290.6L169.4 569.4" stroke="#fff" stroke-width="0.7" opacity="0.04"/><path d="M232.5 316.4L211.7 470.4" stroke="#000" stroke-width="2.9" opacity="0.04"/><path d="M184.8 388.0L172.9 564.6" stroke="#fff" stroke-width="2.4" opacity="0.05"/><path d="M186.0 358.5L172.1 567.8" stroke="#fff" stroke-width="1.4" opacity="0.05"/><path d="M212.9 312.1L199.9 437.2" stroke="#fff" stroke-width="1.3" opacity="0.02"/><path d="M223.3 287.5L211.3 391.8" stroke="#000" stroke-width="3.0" opacity="0.03"/><path d="M201.5 355.8L183.1 555.9" stroke="#fff" stroke-width="1.2" opacity="0.03"/><path d="M190.0 267.2L177.3 468.6" stroke="#000" stroke-width="2.8" opacity="0.02"/><path d="M216.8 361.6L194.2 552.2" stroke="#fff" stroke-width="2.9" opacity="0.03"/><path d="M192.3 308.6L180.0 482.5" stroke="#000" stroke-width="2.6" opacity="0.04"/><path d="M231.8 339.1L204.0 539.0" stroke="#fff" stroke-width="1.7" opacity="0.03"/><path d="M204.6 321.6L181.2 576.1" stroke="#000" stroke-width="1.0" opacity="0.04"/><path d="M214.1 276.1L199.0 427.3" stroke="#000" stroke-width="1.4" opacity="0.05"/><path d="M196.8 384.4L182.4 547.8" stroke="#000" stroke-width="2.5" opacity="0.04"/><path d="M203.8 306.4L187.9 487.1" stroke="#000" stroke-width="2.3" opacity="0.04"/><path d="M195.3 364.7L181.8 528.3" stroke="#fff" stroke-width="2.9" opacity="0.03"/><path d="M195.6 335.1L178.5 550.9" stroke="#000" stroke-width="2.2" opacity="0.04"/><path d="M196.7 378.6L180.9 560.0" stroke="#fff" stroke-width="2.1" opacity="0.04"/><path d="M216.4 416.2L195.7 575.1" stroke="#000" stroke-width="2.3" opacity="0.03"/></g><ellipse cx="199" cy="322" rx="10" ry="15" fill="url(#g12)"/><polygon points="63.0,261.0 160.0,261.0 155.5,370.0 154.0,500.0 153.0,579.0 100.0,579.0" fill="url(#g13)" /><g fill="none" stroke-linecap="round"><path d="M114.9 408.0L121.7 537.8" stroke="#000" stroke-width="1.9" opacity="0.04"/><path d="M91.4 361.5L108.2 552.8" stroke="#fff" stroke-width="1.8" opacity="0.03"/><path d="M85.1 371.6L95.0 471.0" stroke="#000" stroke-width="2.5" opacity="0.06"/><path d="M126.2 286.9L128.8 384.6" stroke="#000" stroke-width="2.1" opacity="0.02"/><path d="M83.7 266.8L100.6 462.0" stroke="#fff" stroke-width="1.2" opacity="0.05"/><path d="M116.7 341.0L125.1 530.0" stroke="#fff" stroke-width="2.1" opacity="0.03"/><path d="M154.6 394.8L151.8 552.2" stroke="#fff" stroke-width="3.0" opacity="0.03"/><path d="M101.2 383.1L111.2 518.0" stroke="#000" stroke-width="0.8" opacity="0.04"/><path d="M153.3 262.1L151.5 403.3" stroke="#000" stroke-width="2.6" opacity="0.04"/><path d="M155.1 273.5L151.7 500.3" stroke="#000" stroke-width="1.6" opacity="0.03"/><path d="M89.1 414.3L103.8 561.3" stroke="#fff" stroke-width="1.4" opacity="0.03"/><path d="M87.5 387.9L98.5 499.7" stroke="#000" stroke-width="0.7" opacity="0.04"/><path d="M85.1 282.7L104.5 506.6" stroke="#fff" stroke-width="2.4" opacity="0.04"/><path d="M98.2 415.4L110.7 564.7" stroke="#fff" stroke-width="1.2" opacity="0.06"/><path d="M96.5 397.0L109.1 547.1" stroke="#fff" stroke-width="1.5" opacity="0.06"/><path d="M95.6 384.1L106.2 511.5" stroke="#fff" stroke-width="1.2" opacity="0.02"/><path d="M77.9 300.4L98.3 505.1" stroke="#fff" stroke-width="2.0" opacity="0.04"/><path d="M152.2 352.8L149.6 560.6" stroke="#fff" stroke-width="1.8" opacity="0.03"/><path d="M148.5 301.4L147.7 430.7" stroke="#000" stroke-width="2.6" opacity="0.06"/><path d="M95.8 401.4L108.2 545.6" stroke="#fff" stroke-width="2.9" opacity="0.02"/><path d="M73.4 299.7L97.2 523.8" stroke="#fff" stroke-width="2.9" opacity="0.05"/><path d="M121.2 289.7L129.3 523.9" stroke="#fff" stroke-width="1.3" opacity="0.03"/><path d="M120.7 359.1L125.8 488.6" stroke="#000" stroke-width="2.6" opacity="0.03"/><path d="M75.1 332.4L86.4 436.3" stroke="#fff" stroke-width="1.2" opacity="0.03"/><path d="M120.2 319.2L129.2 560.1" stroke="#000" stroke-width="0.9" opacity="0.05"/><path d="M129.4 284.2L131.7 386.0" stroke="#fff" stroke-width="2.0" opacity="0.06"/><path d="M129.9 265.4L134.7 498.7" stroke="#fff" stroke-width="2.9" opacity="0.05"/><path d="M95.8 273.9L110.5 483.0" stroke="#000" stroke-width="3.0" opacity="0.06"/><path d="M135.1 387.3L138.1 569.9" stroke="#fff" stroke-width="2.3" opacity="0.05"/><path d="M147.7 327.9L146.6 545.5" stroke="#000" stroke-width="2.7" opacity="0.04"/><path d="M125.7 354.1L131.0 527.5" stroke="#fff" stroke-width="1.5" opacity="0.05"/><path d="M154.5 377.1L152.2 513.1" stroke="#000" stroke-width="2.7" opacity="0.04"/><path d="M106.8 275.2L120.4 526.1" stroke="#fff" stroke-width="2.6" opacity="0.04"/><path d="M115.2 372.3L122.6 522.3" stroke="#000" stroke-width="1.2" opacity="0.06"/><path d="M93.0 309.6L109.6 522.1" stroke="#fff" stroke-width="0.6" opacity="0.03"/><path d="M148.1 331.8L146.8 561.6" stroke="#fff" stroke-width="2.2" opacity="0.05"/><path d="M94.9 389.3L110.4 569.9" stroke="#000" stroke-width="1.6" opacity="0.04"/><path d="M119.9 283.5L126.8 477.5" stroke="#000" stroke-width="1.4" opacity="0.05"/><path d="M131.6 305.7L134.0 430.5" stroke="#fff" stroke-width="2.9" opacity="0.03"/><path d="M93.7 360.9L106.7 516.1" stroke="#fff" stroke-width="1.6" opacity="0.05"/></g><polygon points="86.0,470.0 154.0,470.0 153.0,579.0 100.0,579.0" fill="url(#g14)" opacity="0.8"/><clipPath id="poleclip"><polygon points="63,261 160,261 155.5,370 154,500 153,579 100,579"/></clipPath><g clip-path="url(#poleclip)"><path d="M74 388 Q92 420 128 426 L128 396 Q100 392 72 366Z" fill="url(#g15)" opacity="0.7" filter="url(#blur3)"/><path d="M78 420 L128 436 L128 480 Q100 476 82 448Z" fill="url(#g16)" opacity="0.8" filter="url(#blur3)"/></g><polygon points="158.0,325.0 178.0,321.5 206.0,347.5 190.0,356.0 156.0,372.0" fill="url(#g17)" /><polyline points="158.5,326.5 178,322.8 205,348" fill="none" stroke="#dedede" stroke-width="3" stroke-linejoin="round"/><path d="M127.5 387 Q126 388 126 390 L127.5 497 L136 508 L154 497 L193 471.5 Q194.5 470 194.8 467 L206 351 Q206 347.5 203 349Z" fill="url(#g18)"/><path d="M127 389.5 L205.5 350.5" stroke="#e6e6e6" stroke-width="3.6" fill="none" stroke-linecap="round"/><path d="M127 392 L128 496" stroke="#dad8d5" stroke-width="2" fill="none"/><rect x="163.5" y="386.5" width="13.0" height="38.0" rx="6.5" fill="#3e3e3e" transform="rotate(5 170 405.5)" /><rect x="168.0" y="389.0" width="7.0" height="27.0" rx="3.5" fill="#7c7c7c" transform="rotate(5 171.5 402.5)" /><path d="M165 417.5 Q166 425.5 173 424.5" stroke="#e0e0e0" stroke-width="1.4" fill="none"/><rect x="161.5" y="443.5" width="13.0" height="33.0" rx="6.5" fill="#3e3e3e" transform="rotate(5 168 460)" /><rect x="166.0" y="446.0" width="7.0" height="22.0" rx="3.5" fill="#7c7c7c" transform="rotate(5 169.5 457)" /><path d="M163 469.5 Q164 477.5 171 476.5" stroke="#e0e0e0" stroke-width="1.4" fill="none"/><polygon points="161.4,405.5 160.0,407.4 158.3,409.1 156.4,410.8 154.4,412.3 152.1,413.7 149.7,415.0 147.1,416.2 144.3,417.2 141.4,418.1 138.4,418.9 135.3,419.5 132.1,420.0 128.8,420.3 125.4,420.4 122.1,420.4 118.6,420.3 115.2,420.0 111.8,419.5 108.5,418.9 105.1,418.1 101.9,417.2 98.7,416.1 95.6,415.0 92.6,413.6 89.8,412.2 87.1,410.7 84.5,409.0 82.1,407.3 79.9,405.4 77.9,403.5 76.1,401.5 74.5,399.5 73.2,397.4 72.0,395.2 71.1,393.1 70.4,390.9 70.0,388.7 69.8,386.6 69.8,384.4 70.1,382.3 70.4,401.6 70.1,403.8 69.9,405.9 70.1,408.1 70.4,410.3 71.0,412.5 71.9,414.7 72.9,416.8 74.2,419.0 75.8,421.1 77.5,423.1 79.4,425.1 81.6,427.0 83.9,428.8 86.4,430.6 89.0,432.2 91.8,433.8 94.7,435.2 97.8,436.5 100.9,437.6 104.2,438.6 107.5,439.5 110.8,440.3 114.2,440.9 117.6,441.3 121.0,441.6 124.4,441.7 127.7,441.7 131.0,441.5 134.2,441.1 137.4,440.6 140.4,440.0 143.3,439.2 146.1,438.2 148.8,437.1 151.3,435.9 153.6,434.6 155.7,433.1 157.6,431.5 159.3,429.8 160.8,428.1" fill="#e2e2e2" /><polyline points="161.4,405.5 160.0,407.4 158.3,409.1 156.4,410.8 154.4,412.3 152.1,413.7 149.7,415.0 147.1,416.2 144.3,417.2 141.4,418.1 138.4,418.9 135.3,419.5 132.1,420.0 128.8,420.3 125.4,420.4 122.1,420.4 118.6,420.3 115.2,420.0 111.8,419.5 108.5,418.9 105.1,418.1 101.9,417.2 98.7,416.1 95.6,415.0 92.6,413.6 89.8,412.2 87.1,410.7 84.5,409.0 82.1,407.3 79.9,405.4 77.9,403.5 76.1,401.5 74.5,399.5 73.2,397.4 72.0,395.2 71.1,393.1 70.4,390.9 70.0,388.7 69.8,386.6 69.8,384.4 70.1,382.3" fill="none" stroke="#f6f6f6" stroke-width="1.2"/><polyline points="160.8,428.1 159.3,429.8 157.6,431.5 155.7,433.1 153.6,434.6 151.3,435.9 148.8,437.1 146.1,438.2 143.3,439.2 140.4,440.0 137.4,440.6 134.2,441.1 131.0,441.5 127.7,441.7 124.4,441.7 121.0,441.6 117.6,441.3 114.2,440.9 110.8,440.3 107.5,439.5 104.2,438.6 100.9,437.6 97.8,436.5 94.7,435.2 91.8,433.8 89.0,432.2 86.4,430.6 83.9,428.8 81.6,427.0 79.4,425.1 77.5,423.1 75.8,421.1 74.2,419.0 72.9,416.8 71.9,414.7 71.0,412.5 70.4,410.3 70.1,408.1 69.9,405.9 70.1,403.8 70.4,401.6" fill="none" stroke="#f6f6f6" stroke-width="1.2"/><path d="M160.2 410.2 L158.4 412.1 L157.9 428.2 L159.8 426.2ZM155.4 414.6 L153.0 416.3 L152.4 432.2 L154.9 430.6ZM149.3 418.4 L146.3 419.6 L145.6 435.3 L148.6 434.1ZM141.9 421.2 L138.6 422.0 L137.9 437.4 L141.2 436.6ZM133.7 422.9 L130.1 423.3 L129.3 438.4 L133.0 438.1ZM124.9 423.6 L121.1 423.6 L120.4 438.3 L124.2 438.5ZM115.8 423.2 L112.0 422.7 L111.3 437.2 L115.1 437.8ZM106.8 421.7 L103.1 420.8 L102.5 434.9 L106.2 436.0ZM98.2 419.2 L94.8 417.8 L94.2 431.7 L97.6 433.1ZM90.3 415.7 L87.2 414.0 L86.8 427.6 L89.8 429.4ZM83.4 411.4 L80.8 409.4 L80.4 422.8 L82.9 424.9ZM77.7 406.5 L75.7 404.2 L75.4 417.4 L77.4 419.7ZM73.4 401.1 L72.1 398.7 L72.0 411.7 L73.2 414.1ZM70.8 395.3 L70.2 392.9 L70.2 405.8 L70.7 408.3ZM69.8 389.5 L69.9 387.1 L70.1 400.1 L69.9 402.5Z" fill="#555"/><polygon points="161.3,458.2 159.9,460.0 158.4,461.8 156.6,463.5 154.7,465.1 152.6,466.6 150.3,467.9 147.9,469.2 145.3,470.3 142.6,471.3 139.8,472.1 136.9,472.9 133.9,473.4 130.9,473.8 127.7,474.1 124.6,474.2 121.4,474.2 118.2,474.0 115.0,473.6 111.9,473.1 108.8,472.5 105.7,471.7 102.7,470.8 99.8,469.7 97.0,468.5 94.3,467.2 91.8,465.8 89.4,464.2 87.1,462.6 85.0,460.8 83.1,459.0 81.4,457.1 79.9,455.1 78.6,453.1 77.4,451.0 76.5,448.9 75.9,446.8 75.4,444.7 75.2,442.5 75.2,440.4 75.4,438.3 75.6,456.2 75.3,458.3 75.2,460.5 75.4,462.6 75.8,464.8 76.4,466.9 77.2,469.1 78.3,471.2 79.5,473.2 81.0,475.3 82.6,477.2 84.5,479.1 86.5,480.9 88.7,482.6 91.0,484.3 93.5,485.8 96.2,487.2 98.9,488.5 101.8,489.6 104.7,490.7 107.8,491.6 110.9,492.3 114.0,492.9 117.2,493.4 120.3,493.7 123.5,493.8 126.7,493.8 129.8,493.7 132.9,493.4 135.9,492.9 138.8,492.3 141.7,491.6 144.4,490.7 147.0,489.6 149.5,488.5 151.8,487.2 154.0,485.8 155.9,484.3 157.7,482.6 159.4,480.9 160.8,479.1" fill="#e2e2e2" /><polyline points="161.3,458.2 159.9,460.0 158.4,461.8 156.6,463.5 154.7,465.1 152.6,466.6 150.3,467.9 147.9,469.2 145.3,470.3 142.6,471.3 139.8,472.1 136.9,472.9 133.9,473.4 130.9,473.8 127.7,474.1 124.6,474.2 121.4,474.2 118.2,474.0 115.0,473.6 111.9,473.1 108.8,472.5 105.7,471.7 102.7,470.8 99.8,469.7 97.0,468.5 94.3,467.2 91.8,465.8 89.4,464.2 87.1,462.6 85.0,460.8 83.1,459.0 81.4,457.1 79.9,455.1 78.6,453.1 77.4,451.0 76.5,448.9 75.9,446.8 75.4,444.7 75.2,442.5 75.2,440.4 75.4,438.3" fill="none" stroke="#f6f6f6" stroke-width="1.2"/><polyline points="160.8,479.1 159.4,480.9 157.7,482.6 155.9,484.3 154.0,485.8 151.8,487.2 149.5,488.5 147.0,489.6 144.4,490.7 141.7,491.6 138.8,492.3 135.9,492.9 132.9,493.4 129.8,493.7 126.7,493.8 123.5,493.8 120.3,493.7 117.2,493.4 114.0,492.9 110.9,492.3 107.8,491.6 104.7,490.7 101.8,489.6 98.9,488.5 96.2,487.2 93.5,485.8 91.0,484.3 88.7,482.6 86.5,480.9 84.5,479.1 82.6,477.2 81.0,475.3 79.5,473.2 78.3,471.2 77.2,469.1 76.4,466.9 75.8,464.8 75.4,462.6 75.2,460.5 75.3,458.3 75.6,456.2" fill="none" stroke="#f6f6f6" stroke-width="1.2"/><path d="M160.2 462.8 L158.5 464.8 L158.0 479.3 L159.8 477.3ZM155.7 467.4 L153.4 469.1 L152.9 483.4 L155.2 481.7ZM149.9 471.3 L147.2 472.6 L146.6 486.7 L149.4 485.4ZM143.1 474.3 L140.0 475.2 L139.3 489.1 L142.5 488.2ZM135.5 476.3 L132.1 476.8 L131.3 490.4 L134.8 489.9ZM127.2 477.3 L123.7 477.4 L123.0 490.6 L126.5 490.7ZM118.8 477.2 L115.2 476.8 L114.5 489.8 L118.1 490.3ZM110.3 476.1 L106.9 475.2 L106.2 487.9 L109.7 488.8ZM102.2 473.9 L99.0 472.6 L98.4 485.0 L101.6 486.3ZM94.8 470.7 L91.9 469.1 L91.4 481.3 L94.3 482.9ZM88.3 466.7 L85.8 464.8 L85.5 476.7 L87.8 478.7ZM82.9 462.0 L81.0 459.9 L80.7 471.6 L82.5 473.8ZM78.8 456.8 L77.5 454.5 L77.4 466.1 L78.6 468.4ZM76.2 451.2 L75.6 448.8 L75.6 460.4 L76.1 462.8ZM75.2 445.5 L75.2 443.1 L75.3 454.6 L75.2 457.0Z" fill="#555"/><rect x="88.5" y="422.5" width="31.0" height="21.0" rx="1.5" fill="url(#g19)" transform="rotate(6 104.0 433.0)"/><rect x="94.5" y="477.5" width="26.0" height="19.0" rx="1.5" fill="url(#g20)" transform="rotate(6 107.5 487.0)"/><polygon points="341.0,341.0 341.2,337.8 341.8,334.7 342.9,331.5 344.3,328.5 346.1,325.5 348.4,322.6 350.9,319.8 353.9,317.2 357.2,314.7 360.8,312.4 364.7,310.2 368.8,308.2 373.2,306.5 377.9,304.9 382.7,303.6 387.6,302.5 392.7,301.6 397.9,301.0 403.2,300.6 408.5,300.5 413.8,300.6 419.1,301.0 424.3,301.6 429.4,302.5 434.3,303.6 439.1,304.9 443.8,306.5 448.2,308.2 452.3,310.2 456.2,312.4 459.8,314.7 463.1,317.2 466.1,319.8 468.6,322.6 470.9,325.5 472.7,328.5 474.1,331.5 475.2,334.7 475.8,337.8 476.0,341.0 476.0,366.0 475.8,362.9 475.2,359.8 474.1,356.8 472.7,353.8 470.9,350.9 468.6,348.1 466.1,345.4 463.1,342.8 459.8,340.3 456.2,338.1 452.3,336.0 448.2,334.0 443.8,332.3 439.1,330.8 434.3,329.5 429.4,328.4 424.3,327.6 419.1,327.0 413.8,326.6 408.5,326.5 403.2,326.6 397.9,327.0 392.7,327.6 387.6,328.4 382.7,329.5 377.9,330.8 373.2,332.3 368.8,334.0 364.7,336.0 360.8,338.1 357.2,340.3 353.9,342.8 350.9,345.4 348.4,348.1 346.1,350.9 344.3,353.8 342.9,356.8 341.8,359.8 341.2,362.9 341.0,366.0" fill="url(#g21)" /><polyline points="341.0,341.0 341.2,337.8 341.8,334.7 342.9,331.5 344.3,328.5 346.1,325.5 348.4,322.6 350.9,319.8 353.9,317.2 357.2,314.7 360.8,312.4 364.7,310.2 368.8,308.2 373.2,306.5 377.9,304.9 382.7,303.6 387.6,302.5 392.7,301.6 397.9,301.0 403.2,300.6 408.5,300.5 413.8,300.6 419.1,301.0 424.3,301.6 429.4,302.5 434.3,303.6 439.1,304.9 443.8,306.5 448.2,308.2 452.3,310.2 456.2,312.4 459.8,314.7 463.1,317.2 466.1,319.8 468.6,322.6 470.9,325.5 472.7,328.5 474.1,331.5 475.2,334.7 475.8,337.8 476.0,341.0" fill="none" stroke="#e9e9e9" stroke-width="1.3"/><polyline points="341.0,366.0 341.2,362.9 341.8,359.8 342.9,356.8 344.3,353.8 346.1,350.9 348.4,348.1 350.9,345.4 353.9,342.8 357.2,340.3 360.8,338.1 364.7,336.0 368.8,334.0 373.2,332.3 377.9,330.8 382.7,329.5 387.6,328.4 392.7,327.6 397.9,327.0 403.2,326.6 408.5,326.5 413.8,326.6 419.1,327.0 424.3,327.6 429.4,328.4 434.3,329.5 439.1,330.8 443.8,332.3 448.2,334.0 452.3,336.0 456.2,338.1 459.8,340.3 463.1,342.8 466.1,345.4 468.6,348.1 470.9,350.9 472.7,353.8 474.1,356.8 475.2,359.8 475.8,362.9 476.0,366.0" fill="none" stroke="#e9e9e9" stroke-width="1.3"/><path d="M341.0 343.3 L341.2 341.4 L341.2 360.1 L341.0 361.9ZM341.4 339.5 L341.9 337.7 L341.9 356.4 L341.4 358.2ZM342.5 335.8 L343.2 334.0 L343.2 352.9 L342.5 354.6ZM344.0 332.2 L345.0 330.5 L345.0 349.4 L344.0 351.1ZM346.1 328.7 L347.4 327.0 L347.4 346.0 L346.1 347.7ZM348.8 325.3 L350.3 323.7 L350.3 342.8 L348.8 344.4ZM351.9 322.1 L353.7 320.6 L353.7 339.7 L351.9 341.2ZM355.6 319.1 L357.6 317.6 L357.6 336.9 L355.6 338.3ZM359.7 316.2 L361.9 314.9 L361.9 334.2 L359.7 335.5ZM364.2 313.6 L366.6 312.5 L366.6 331.8 L364.2 333.0ZM369.1 311.3 L371.6 310.3 L371.6 329.7 L369.1 330.7ZM374.3 309.3 L377.0 308.4 L377.0 327.9 L374.3 328.7ZM379.8 307.5 L382.7 306.8 L382.7 326.3 L379.8 327.0ZM385.6 306.1 L388.5 305.5 L388.5 325.1 L385.6 325.6ZM391.5 305.0 L394.6 304.6 L394.6 324.1 L391.5 324.6ZM397.6 304.2 L400.7 304.0 L400.7 323.6 L397.6 323.8ZM403.8 303.8 L406.9 303.7 L406.9 323.3 L403.8 323.4ZM410.1 303.7 L413.2 303.8 L413.2 323.4 L410.1 323.3ZM416.3 304.0 L419.4 304.2 L419.4 323.8 L416.3 323.6ZM422.4 304.6 L425.5 305.0 L425.5 324.6 L422.4 324.2ZM428.5 305.5 L431.4 306.1 L431.4 325.6 L428.5 325.1ZM434.3 306.8 L437.2 307.5 L437.2 327.0 L434.3 326.3ZM440.0 308.4 L442.7 309.3 L442.7 328.7 L440.0 327.9ZM445.4 310.3 L447.9 311.3 L447.9 330.7 L445.4 329.7ZM450.4 312.5 L452.8 313.6 L452.8 333.0 L450.4 331.8ZM455.1 314.9 L457.3 316.2 L457.3 335.5 L455.1 334.2ZM459.4 317.6 L461.4 319.0 L461.4 338.3 L459.4 336.9ZM463.3 320.5 L465.1 322.1 L465.1 341.2 L463.3 339.7ZM466.7 323.7 L468.2 325.3 L468.2 344.4 L466.7 342.8ZM469.6 327.0 L470.9 328.7 L470.9 347.7 L469.6 346.0ZM472.0 330.4 L473.0 332.2 L473.0 351.1 L472.0 349.4ZM473.8 334.0 L474.5 335.8 L474.5 354.7 L473.8 352.9ZM475.1 337.7 L475.6 339.5 L475.6 358.3 L475.1 356.4ZM475.8 341.4 L476.0 343.3 L476.0 361.9 L475.8 360.1Z" fill="#0a0a0a"/><polygon points="476.0,341.0 475.8,344.2 475.2,347.3 474.1,350.5 472.7,353.5 470.9,356.5 468.6,359.4 466.1,362.2 463.1,364.8 459.8,367.3 456.2,369.6 452.3,371.8 448.2,373.8 443.8,375.5 439.1,377.1 434.3,378.4 429.4,379.5 424.3,380.4 419.1,381.0 413.8,381.4 408.5,381.5 403.2,381.4 397.9,381.0 392.7,380.4 387.6,379.5 382.7,378.4 377.9,377.1 373.2,375.5 368.8,373.8 364.7,371.8 360.8,369.6 357.2,367.3 353.9,364.8 350.9,362.2 348.4,359.4 346.1,356.5 344.3,353.5 342.9,350.5 341.8,347.3 341.2,344.2 341.0,341.0 341.0,369.0 341.2,372.3 341.8,375.5 342.9,378.7 344.3,381.8 346.1,384.9 348.4,387.8 350.9,390.7 353.9,393.4 357.2,396.0 360.8,398.3 364.7,400.6 368.8,402.6 373.2,404.4 377.9,406.0 382.7,407.3 387.6,408.5 392.7,409.4 397.9,410.0 403.2,410.4 408.5,410.5 413.8,410.4 419.1,410.0 424.3,409.4 429.4,408.5 434.3,407.3 439.1,406.0 443.8,404.4 448.2,402.6 452.3,400.6 456.2,398.3 459.8,396.0 463.1,393.4 466.1,390.7 468.6,387.8 470.9,384.9 472.7,381.8 474.1,378.7 475.2,375.5 475.8,372.3 476.0,369.0" fill="url(#g22)" /><polyline points="476.0,341.0 475.8,344.2 475.2,347.3 474.1,350.5 472.7,353.5 470.9,356.5 468.6,359.4 466.1,362.2 463.1,364.8 459.8,367.3 456.2,369.6 452.3,371.8 448.2,373.8 443.8,375.5 439.1,377.1 434.3,378.4 429.4,379.5 424.3,380.4 419.1,381.0 413.8,381.4 408.5,381.5 403.2,381.4 397.9,381.0 392.7,380.4 387.6,379.5 382.7,378.4 377.9,377.1 373.2,375.5 368.8,373.8 364.7,371.8 360.8,369.6 357.2,367.3 353.9,364.8 350.9,362.2 348.4,359.4 346.1,356.5 344.3,353.5 342.9,350.5 341.8,347.3 341.2,344.2 341.0,341.0" fill="none" stroke="#f6f6f6" stroke-width="1.4"/><polyline points="476.0,369.0 475.8,372.3 475.2,375.5 474.1,378.7 472.7,381.8 470.9,384.9 468.6,387.8 466.1,390.7 463.1,393.4 459.8,396.0 456.2,398.3 452.3,400.6 448.2,402.6 443.8,404.4 439.1,406.0 434.3,407.3 429.4,408.5 424.3,409.4 419.1,410.0 413.8,410.4 408.5,410.5 403.2,410.4 397.9,410.0 392.7,409.4 387.6,408.5 382.7,407.3 377.9,406.0 373.2,404.4 368.8,402.6 364.7,400.6 360.8,398.3 357.2,396.0 353.9,393.4 350.9,390.7 348.4,387.8 346.1,384.9 344.3,381.8 342.9,378.7 341.8,375.5 341.2,372.3 341.0,369.0" fill="none" stroke="#f6f6f6" stroke-width="1.4"/><path d="M476.0 345.1 L475.8 347.0 L475.8 368.7 L476.0 366.8ZM475.6 348.9 L475.1 350.7 L475.1 372.5 L475.6 370.6ZM474.5 352.6 L473.8 354.4 L473.8 376.2 L474.5 374.4ZM473.0 356.2 L472.0 358.0 L472.0 379.9 L473.0 378.1ZM470.9 359.7 L469.6 361.4 L469.6 383.4 L470.9 381.7ZM468.2 363.1 L466.7 364.7 L466.7 386.8 L468.2 385.2ZM465.1 366.3 L463.3 367.9 L463.3 390.0 L465.1 388.5ZM461.4 369.3 L459.4 370.8 L459.4 393.0 L461.4 391.6ZM457.3 372.2 L455.1 373.5 L455.1 395.8 L457.3 394.5ZM452.8 374.8 L450.4 376.0 L450.4 398.3 L452.8 397.1ZM447.9 377.1 L445.4 378.1 L445.4 400.6 L447.9 399.5ZM442.7 379.1 L440.0 380.0 L440.0 402.5 L442.7 401.6ZM437.2 380.9 L434.3 381.6 L434.3 404.1 L437.2 403.4ZM431.4 382.3 L428.5 382.9 L428.5 405.4 L431.4 404.8ZM425.5 383.4 L422.4 383.8 L422.4 406.4 L425.5 406.0ZM419.4 384.2 L416.3 384.4 L416.3 407.0 L419.4 406.8ZM413.2 384.6 L410.1 384.7 L410.1 407.3 L413.2 407.2ZM406.9 384.7 L403.8 384.6 L403.8 407.2 L406.9 407.3ZM400.7 384.4 L397.6 384.2 L397.6 406.8 L400.7 407.0ZM394.6 383.8 L391.5 383.4 L391.5 406.0 L394.6 406.4ZM388.5 382.9 L385.6 382.3 L385.6 404.8 L388.5 405.4ZM382.7 381.6 L379.8 380.9 L379.8 403.4 L382.7 404.1ZM377.0 380.0 L374.3 379.1 L374.3 401.6 L377.0 402.5ZM371.6 378.1 L369.1 377.1 L369.1 399.5 L371.6 400.6ZM366.6 375.9 L364.2 374.7 L364.2 397.1 L366.6 398.3ZM361.9 373.5 L359.7 372.2 L359.7 394.5 L361.9 395.8ZM357.6 370.8 L355.6 369.3 L355.6 391.6 L357.6 393.0ZM353.7 367.9 L351.9 366.3 L351.9 388.5 L353.7 390.0ZM350.3 364.7 L348.8 363.1 L348.8 385.2 L350.3 386.8ZM347.4 361.4 L346.1 359.7 L346.1 381.7 L347.4 383.4ZM345.0 358.0 L344.0 356.2 L344.0 378.1 L345.0 379.9ZM343.2 354.4 L342.5 352.6 L342.5 374.4 L343.2 376.2ZM341.9 350.7 L341.4 348.9 L341.4 370.6 L341.9 372.5ZM341.2 347.0 L341.0 345.1 L341.0 366.8 L341.2 368.7Z" fill="#141414"/><polygon points="323.5,353.5 336.3,347.6 352.8,368.4 338.5,374.8" fill="#ededed" /><polygon points="323.5,353.5 338.5,374.8 340.6,394.5 325.0,367.0" fill="#d4d4d4" /><polygon points="338.5,374.8 352.8,368.4 353.2,389.5 340.6,394.5" fill="url(#g23)" /><ellipse cx="346" cy="383.6" rx="4.2" ry="4.6" fill="#a9a9a9"/><ellipse cx="346.2" cy="384.2" rx="2.2" ry="2.4" fill="#d2d2d2"/><path d="M337.5 342.5 L339.5 342 L343.5 351 L363 363.5 L362 368 L341 355 Z" fill="#e6e6e6"/><path d="M349 357.5 L359 364" stroke="#333" stroke-width="1.8" fill="none"/><polygon points="414.0,453.0 452.5,455.0 452.0,470.0 412.0,470.0" fill="#c7c7c7" /><path d="M357 461 Q355 462 355 465 L357.5 581 Q358 583.5 360 583 L413 573 L413 466 L416 453 Z" fill="url(#g24)"/><path d="M356 462 L416 453.5 L452 455.8" stroke="#cbcbcb" stroke-width="1.6" fill="none"/><rect x="384.0" y="471.5" width="13.0" height="36.0" rx="6.5" fill="#0c0c0c"  /><path d="M397 477.5 L397 501.5 Q396.5 507.0 390.5 507.5" stroke="#d4d4d4" stroke-width="1.6" fill="none"/><rect x="384.0" y="527.0" width="13.0" height="36.0" rx="6.5" fill="#0c0c0c"  /><path d="M397 533 L397 557 Q396.5 562.5 390.5 563" stroke="#d4d4d4" stroke-width="1.6" fill="none"/><path d="M413 468 L416 465 L452 455.5 L450.5 592 L423 605.5 L413.5 602 Z" fill="url(#g25)"/><path d="M414.5 468 L415 601" stroke="#cfcfcf" stroke-width="2.4" fill="none"/><path d="M417 465 L452 455.8" stroke="#858585" stroke-width="1.2" fill="none"/><rect x="413.0" y="464.5" width="7.0" height="5.0" rx="1.5" fill="#e1e1e1" /><rect x="431.8" y="479.5" width="8.5" height="38.0" rx="4.2" fill="#bcbcbc"  /><rect x="434.3" y="480.5" width="5.0" height="29.0" rx="2.5" fill="#a9a9a9"  /><path d="M432.5 509.5 L439.5 509.5 Q439 517.0 435.5 517.0 Q432.5 516.5 432.5 509.5Z" fill="#e9e9e9"/><rect x="431.8" y="538.5" width="8.5" height="38.0" rx="4.2" fill="#bcbcbc"  /><rect x="434.3" y="539.5" width="5.0" height="29.0" rx="2.5" fill="#a9a9a9"  /><path d="M432.5 568.5 L439.5 568.5 Q439 576.0 435.5 576.0 Q432.5 575.5 432.5 568.5Z" fill="#e9e9e9"/><polygon points="682.0,339.4 682.0,338.3 682.0,337.2 682.1,336.2 682.2,335.1 682.3,334.0 682.5,332.9 682.8,331.8 683.1,330.8 683.4,329.7 683.8,328.7 684.3,327.6 684.8,326.6 685.3,325.5 685.9,324.5 686.5,323.5 687.2,322.5 687.9,321.5 688.6,320.5 689.4,319.6 690.3,318.6 691.2,317.7 692.1,316.7 693.1,315.8 694.1,314.9 695.1,314.1 696.2,313.2 697.3,312.4 698.5,311.5 699.7,310.7 700.9,310.0 702.2,309.2 703.5,308.5 704.8,307.7 706.2,307.0 707.6,306.4 709.0,305.7 710.5,305.1 712.0,304.5 713.5,303.9 715.0,303.4 715.0,326.4 713.5,326.9 712.0,327.5 710.5,328.1 709.0,328.7 707.6,329.4 706.2,330.0 704.8,330.7 703.5,331.5 702.2,332.2 700.9,333.0 699.7,333.7 698.5,334.5 697.3,335.4 696.2,336.2 695.1,337.1 694.1,337.9 693.1,338.8 692.1,339.7 691.2,340.7 690.3,341.6 689.4,342.6 688.6,343.5 687.9,344.5 687.2,345.5 686.5,346.5 685.9,347.5 685.3,348.5 684.8,349.6 684.3,350.6 683.8,351.7 683.4,352.7 683.1,353.8 682.8,354.8 682.5,355.9 682.3,357.0 682.2,358.1 682.1,359.2 682.0,360.2 682.0,361.3 682.0,362.4" fill="#c6c6c6" /><polyline points="682.0,339.4 682.0,338.3 682.0,337.2 682.1,336.2 682.2,335.1 682.3,334.0 682.5,332.9 682.8,331.8 683.1,330.8 683.4,329.7 683.8,328.7 684.3,327.6 684.8,326.6 685.3,325.5 685.9,324.5 686.5,323.5 687.2,322.5 687.9,321.5 688.6,320.5 689.4,319.6 690.3,318.6 691.2,317.7 692.1,316.7 693.1,315.8 694.1,314.9 695.1,314.1 696.2,313.2 697.3,312.4 698.5,311.5 699.7,310.7 700.9,310.0 702.2,309.2 703.5,308.5 704.8,307.7 706.2,307.0 707.6,306.4 709.0,305.7 710.5,305.1 712.0,304.5 713.5,303.9 715.0,303.4" fill="none" stroke="#e5e5e5" stroke-width="1.2"/><polyline points="682.0,362.4 682.0,361.3 682.0,360.2 682.1,359.2 682.2,358.1 682.3,357.0 682.5,355.9 682.8,354.8 683.1,353.8 683.4,352.7 683.8,351.7 684.3,350.6 684.8,349.6 685.3,348.5 685.9,347.5 686.5,346.5 687.2,345.5 687.9,344.5 688.6,343.5 689.4,342.6 690.3,341.6 691.2,340.7 692.1,339.7 693.1,338.8 694.1,337.9 695.1,337.1 696.2,336.2 697.3,335.4 698.5,334.5 699.7,333.7 700.9,333.0 702.2,332.2 703.5,331.5 704.8,330.7 706.2,330.0 707.6,329.4 709.0,328.7 710.5,328.1 712.0,327.5 713.5,326.9 715.0,326.4" fill="none" stroke="#e5e5e5" stroke-width="1.2"/><path d="M682.0 341.1 L682.1 338.9 L682.1 355.9 L682.0 358.1ZM682.5 336.3 L683.0 334.1 L683.0 351.1 L682.5 353.3ZM683.9 331.5 L684.8 329.5 L684.8 346.5 L683.9 348.5ZM686.2 327.0 L687.5 324.9 L687.5 341.9 L686.2 344.0ZM689.4 322.6 L691.2 320.7 L691.2 337.7 L689.4 339.6ZM693.5 318.4 L695.6 316.7 L695.6 333.7 L693.5 335.4ZM698.4 314.6 L700.8 313.0 L700.8 330.0 L698.4 331.6ZM703.9 311.2 L706.7 309.8 L706.7 326.8 L703.9 328.2ZM710.1 308.2 L713.1 307.0 L713.1 324.0 L710.1 325.2Z" fill="#1b1b1b"/><polygon points="692.0,411.4 692.0,410.3 692.0,409.2 692.1,408.2 692.2,407.1 692.3,406.0 692.5,404.9 692.7,403.8 693.0,402.8 693.3,401.7 693.7,400.7 694.1,399.6 694.5,398.6 695.0,397.5 695.5,396.5 696.1,395.5 696.7,394.5 697.3,393.5 698.0,392.5 698.8,391.6 699.5,390.6 700.3,389.7 701.2,388.7 702.1,387.8 703.0,386.9 703.9,386.1 704.9,385.2 705.9,384.4 707.0,383.5 708.1,382.7 709.2,382.0 710.4,381.2 711.5,380.5 712.8,379.7 714.0,379.0 715.3,378.4 716.6,377.7 717.9,377.1 719.2,376.5 720.6,375.9 722.0,375.4 722.0,396.4 720.6,396.9 719.2,397.5 717.9,398.1 716.6,398.7 715.3,399.4 714.0,400.0 712.8,400.7 711.5,401.5 710.4,402.2 709.2,403.0 708.1,403.7 707.0,404.5 705.9,405.4 704.9,406.2 703.9,407.1 703.0,407.9 702.1,408.8 701.2,409.7 700.3,410.7 699.5,411.6 698.8,412.6 698.0,413.5 697.3,414.5 696.7,415.5 696.1,416.5 695.5,417.5 695.0,418.5 694.5,419.6 694.1,420.6 693.7,421.7 693.3,422.7 693.0,423.8 692.7,424.8 692.5,425.9 692.3,427.0 692.2,428.1 692.1,429.2 692.0,430.2 692.0,431.3 692.0,432.4" fill="#c6c6c6" /><polyline points="692.0,411.4 692.0,410.3 692.0,409.2 692.1,408.2 692.2,407.1 692.3,406.0 692.5,404.9 692.7,403.8 693.0,402.8 693.3,401.7 693.7,400.7 694.1,399.6 694.5,398.6 695.0,397.5 695.5,396.5 696.1,395.5 696.7,394.5 697.3,393.5 698.0,392.5 698.8,391.6 699.5,390.6 700.3,389.7 701.2,388.7 702.1,387.8 703.0,386.9 703.9,386.1 704.9,385.2 705.9,384.4 707.0,383.5 708.1,382.7 709.2,382.0 710.4,381.2 711.5,380.5 712.8,379.7 714.0,379.0 715.3,378.4 716.6,377.7 717.9,377.1 719.2,376.5 720.6,375.9 722.0,375.4" fill="none" stroke="#e5e5e5" stroke-width="1.2"/><polyline points="692.0,432.4 692.0,431.3 692.0,430.2 692.1,429.2 692.2,428.1 692.3,427.0 692.5,425.9 692.7,424.8 693.0,423.8 693.3,422.7 693.7,421.7 694.1,420.6 694.5,419.6 695.0,418.5 695.5,417.5 696.1,416.5 696.7,415.5 697.3,414.5 698.0,413.5 698.8,412.6 699.5,411.6 700.3,410.7 701.2,409.7 702.1,408.8 703.0,407.9 703.9,407.1 704.9,406.2 705.9,405.4 707.0,404.5 708.1,403.7 709.2,403.0 710.4,402.2 711.5,401.5 712.8,400.7 714.0,400.0 715.3,399.4 716.6,398.7 717.9,398.1 719.2,397.5 720.6,396.9 722.0,396.4" fill="none" stroke="#e5e5e5" stroke-width="1.2"/><path d="M692.0 413.1 L692.1 410.9 L692.1 425.9 L692.0 428.1ZM692.4 408.3 L692.9 406.1 L692.9 421.1 L692.4 423.3ZM693.7 403.5 L694.6 401.5 L694.6 416.5 L693.7 418.5ZM695.8 399.0 L697.0 396.9 L697.0 411.9 L695.8 414.0ZM698.8 394.6 L700.3 392.7 L700.3 407.7 L698.8 409.6ZM702.5 390.4 L704.4 388.7 L704.4 403.7 L702.5 405.4ZM706.9 386.6 L709.1 385.0 L709.1 400.0 L706.9 401.6ZM711.9 383.2 L714.4 381.8 L714.4 396.8 L711.9 398.2ZM717.6 380.2 L720.3 379.0 L720.3 394.0 L717.6 395.2Z" fill="#1b1b1b"/><path d="M702 276 Q698.5 277.5 698.8 281 L710 430 L727 437.5 L772 417 L773 322 L801 251 Z" fill="url(#g26)"/><path d="M700.5 278.5 L801 252" stroke="#c0c0c0" stroke-width="2" fill="none"/><polygon points="801.0,251.0 857.0,275.0 773.0,322.5 773.0,300.0" fill="#979797" /><polygon points="802.0,258.0 839.0,274.0 803.0,300.0" fill="url(#g27)" /><polygon points="801.0,251.0 857.0,275.0 848.0,280.5 802.0,258.5" fill="#898989" /><polygon points="857.0,275.0 773.0,322.5 769.0,311.0 836.0,273.0" fill="#767676" /><path d="M801 251.3 L857 275.2" stroke="#acacac" stroke-width="1" fill="none"/><clipPath id="cbslot"><path d="M748 290 L805 262 L805 340 L748 340Z"/></clipPath><rect x="747.5" y="289.0" width="22.0" height="46.0" rx="11.0" fill="#090909" transform="rotate(2 758.5 312)" /><g clip-path="url(#cbslot)"><polygon points="742.2,301.2 743.8,301.1 745.3,301.0 746.8,301.0 748.3,301.0 749.9,301.0 751.4,301.1 752.9,301.1 754.4,301.2 756.0,301.3 757.5,301.4 759.0,301.6 760.5,301.7 762.0,301.9 763.5,302.1 764.9,302.3 766.4,302.6 767.9,302.9 769.3,303.1 770.8,303.5 772.2,303.8 773.6,304.1 775.0,304.5 776.4,304.9 777.8,305.3 779.1,305.7 780.4,306.2 781.8,306.6 783.1,307.1 784.4,307.6 785.6,308.1 786.9,308.7 788.1,309.2 789.3,309.8 790.5,310.4 791.6,311.0 792.8,311.6 793.9,312.2 795.0,312.9 796.0,313.6 797.0,314.2 797.0,336.2 796.0,335.6 795.0,334.9 793.9,334.2 792.8,333.6 791.6,333.0 790.5,332.4 789.3,331.8 788.1,331.2 786.9,330.7 785.6,330.1 784.4,329.6 783.1,329.1 781.8,328.6 780.4,328.2 779.1,327.7 777.8,327.3 776.4,326.9 775.0,326.5 773.6,326.1 772.2,325.8 770.8,325.5 769.3,325.1 767.9,324.9 766.4,324.6 764.9,324.3 763.5,324.1 762.0,323.9 760.5,323.7 759.0,323.6 757.5,323.4 756.0,323.3 754.4,323.2 752.9,323.1 751.4,323.1 749.9,323.0 748.3,323.0 746.8,323.0 745.3,323.0 743.8,323.1 742.2,323.2" fill="#dfdfdf" /><polyline points="742.2,301.2 743.8,301.1 745.3,301.0 746.8,301.0 748.3,301.0 749.9,301.0 751.4,301.1 752.9,301.1 754.4,301.2 756.0,301.3 757.5,301.4 759.0,301.6 760.5,301.7 762.0,301.9 763.5,302.1 764.9,302.3 766.4,302.6 767.9,302.9 769.3,303.1 770.8,303.5 772.2,303.8 773.6,304.1 775.0,304.5 776.4,304.9 777.8,305.3 779.1,305.7 780.4,306.2 781.8,306.6 783.1,307.1 784.4,307.6 785.6,308.1 786.9,308.7 788.1,309.2 789.3,309.8 790.5,310.4 791.6,311.0 792.8,311.6 793.9,312.2 795.0,312.9 796.0,313.6 797.0,314.2" fill="none" stroke="#ececec" stroke-width="1"/><polyline points="742.2,323.2 743.8,323.1 745.3,323.0 746.8,323.0 748.3,323.0 749.9,323.0 751.4,323.1 752.9,323.1 754.4,323.2 756.0,323.3 757.5,323.4 759.0,323.6 760.5,323.7 762.0,323.9 763.5,324.1 764.9,324.3 766.4,324.6 767.9,324.9 769.3,325.1 770.8,325.5 772.2,325.8 773.6,326.1 775.0,326.5 776.4,326.9 777.8,327.3 779.1,327.7 780.4,328.2 781.8,328.6 783.1,329.1 784.4,329.6 785.6,330.1 786.9,330.7 788.1,331.2 789.3,331.8 790.5,332.4 791.6,333.0 792.8,333.6 793.9,334.2 795.0,334.9 796.0,335.6 797.0,336.2" fill="none" stroke="#ececec" stroke-width="1"/><path d="M744.3 303.9 L747.8 303.8 L747.8 320.2 L744.3 320.3ZM752.0 303.9 L755.4 304.1 L755.4 320.5 L752.0 320.3ZM759.5 304.4 L762.9 304.8 L762.9 321.2 L759.5 320.8ZM767.0 305.5 L770.2 306.1 L770.2 322.5 L767.0 321.9ZM774.1 307.1 L777.2 307.9 L777.2 324.3 L774.1 323.5ZM780.9 309.1 L783.9 310.2 L783.9 326.6 L780.9 325.5ZM787.3 311.7 L790.0 313.0 L790.0 329.4 L787.3 328.1ZM793.2 314.6 L795.6 316.1 L795.6 332.5 L793.2 331.0Z" fill="#151515"/></g><path d="M750 331 Q757 338 766 334" stroke="#cfcfcf" stroke-width="2.5" fill="none"/><path d="M773 323 L857 275.5 L840 433 L784 490 L772.5 483 Z" fill="url(#g28)"/><path d="M774 324 L773.5 483" stroke="#cacaca" stroke-width="2.2" fill="none"/><rect x="772.0" y="317.0" width="11.0" height="7.0" rx="2.5" fill="#e2e2e2" /><path d="M817 324 Q822 321 823.5 327 L822.5 358" stroke="#bcbcbc" stroke-width="2.4" fill="none" stroke-linecap="round"/><path d="M815 330 L814 354" stroke="#858585" stroke-width="3" fill="none" stroke-linecap="round"/><path d="M811 396 Q816 393 817.5 399 L816.5 430" stroke="#bcbcbc" stroke-width="2.4" fill="none" stroke-linecap="round"/><path d="M809 402 L808 426" stroke="#858585" stroke-width="3" fill="none" stroke-linecap="round"/><polygon points="812.8,341.4 812.4,342.2 811.9,343.1 811.5,343.9 811.0,344.7 810.5,345.6 809.9,346.4 809.3,347.2 808.7,348.0 808.1,348.8 807.4,349.6 806.7,350.4 806.0,351.2 805.2,351.9 804.4,352.7 803.6,353.4 802.8,354.2 801.9,354.9 801.0,355.6 800.1,356.3 799.2,357.0 798.2,357.6 797.2,358.3 796.2,358.9 795.2,359.6 794.1,360.2 793.0,360.8 791.9,361.4 790.8,362.0 789.7,362.5 788.5,363.1 787.3,363.6 786.1,364.1 784.9,364.6 783.6,365.1 782.4,365.5 781.1,366.0 779.8,366.4 778.5,366.8 777.2,367.2 775.8,367.5 775.8,379.5 777.2,379.2 778.5,378.8 779.8,378.4 781.1,378.0 782.4,377.5 783.6,377.1 784.9,376.6 786.1,376.1 787.3,375.6 788.5,375.1 789.7,374.5 790.8,374.0 791.9,373.4 793.0,372.8 794.1,372.2 795.2,371.6 796.2,370.9 797.2,370.3 798.2,369.6 799.2,369.0 800.1,368.3 801.0,367.6 801.9,366.9 802.8,366.2 803.6,365.4 804.4,364.7 805.2,363.9 806.0,363.2 806.7,362.4 807.4,361.6 808.1,360.8 808.7,360.0 809.3,359.2 809.9,358.4 810.5,357.6 811.0,356.7 811.5,355.9 811.9,355.1 812.4,354.2 812.8,353.4" fill="#787878" /><polygon points="810.4,414.7 810.0,415.5 809.6,416.3 809.1,417.1 808.7,417.9 808.2,418.7 807.7,419.5 807.1,420.3 806.6,421.0 806.0,421.8 805.3,422.5 804.7,423.3 804.0,424.0 803.4,424.7 802.7,425.5 801.9,426.2 801.2,426.8 800.4,427.5 799.6,428.2 798.8,428.9 797.9,429.5 797.1,430.1 796.2,430.8 795.3,431.4 794.4,432.0 793.4,432.5 792.5,433.1 791.5,433.7 790.5,434.2 789.5,434.7 788.5,435.3 787.4,435.8 786.4,436.2 785.3,436.7 784.2,437.2 783.1,437.6 782.0,438.0 780.9,438.4 779.7,438.8 778.6,439.2 777.4,439.5 777.4,451.5 778.6,451.2 779.7,450.8 780.9,450.4 782.0,450.0 783.1,449.6 784.2,449.2 785.3,448.7 786.4,448.2 787.4,447.8 788.5,447.3 789.5,446.7 790.5,446.2 791.5,445.7 792.5,445.1 793.4,444.5 794.4,444.0 795.3,443.4 796.2,442.8 797.1,442.1 797.9,441.5 798.8,440.9 799.6,440.2 800.4,439.5 801.2,438.8 801.9,438.2 802.7,437.5 803.4,436.7 804.0,436.0 804.7,435.3 805.3,434.5 806.0,433.8 806.6,433.0 807.1,432.3 807.7,431.5 808.2,430.7 808.7,429.9 809.1,429.1 809.6,428.3 810.0,427.5 810.4,426.7" fill="#787878" /><polygon points="812.3,347.0 811.9,347.9 811.5,348.9 811.1,349.8 810.6,350.7 810.0,351.6 809.5,352.5 808.9,353.4 808.2,354.3 807.6,355.2 806.9,356.1 806.1,356.9 805.4,357.8 804.6,358.6 803.7,359.4 802.8,360.3 801.9,361.1 801.0,361.8 800.0,362.6 799.0,363.4 798.0,364.1 796.9,364.8 795.9,365.5 794.7,366.2 793.6,366.9 792.4,367.6 791.2,368.2 790.0,368.8 788.8,369.5 787.5,370.0 786.2,370.6 784.9,371.2 783.6,371.7 782.2,372.2 780.8,372.7 779.4,373.2 778.0,373.6 776.6,374.1 775.1,374.5 773.7,374.9 772.2,375.2 772.2,398.2 773.7,397.9 775.1,397.5 776.6,397.1 778.0,396.6 779.4,396.2 780.8,395.7 782.2,395.2 783.6,394.7 784.9,394.2 786.2,393.6 787.5,393.0 788.8,392.5 790.0,391.8 791.2,391.2 792.4,390.6 793.6,389.9 794.7,389.2 795.9,388.5 796.9,387.8 798.0,387.1 799.0,386.4 800.0,385.6 801.0,384.8 801.9,384.1 802.8,383.3 803.7,382.4 804.6,381.6 805.4,380.8 806.1,379.9 806.9,379.1 807.6,378.2 808.2,377.3 808.9,376.4 809.5,375.5 810.0,374.6 810.6,373.7 811.1,372.8 811.5,371.9 811.9,370.9 812.3,370.0" fill="#dfdfdf" /><polyline points="812.3,347.0 811.9,347.9 811.5,348.9 811.1,349.8 810.6,350.7 810.0,351.6 809.5,352.5 808.9,353.4 808.2,354.3 807.6,355.2 806.9,356.1 806.1,356.9 805.4,357.8 804.6,358.6 803.7,359.4 802.8,360.3 801.9,361.1 801.0,361.8 800.0,362.6 799.0,363.4 798.0,364.1 796.9,364.8 795.9,365.5 794.7,366.2 793.6,366.9 792.4,367.6 791.2,368.2 790.0,368.8 788.8,369.5 787.5,370.0 786.2,370.6 784.9,371.2 783.6,371.7 782.2,372.2 780.8,372.7 779.4,373.2 778.0,373.6 776.6,374.1 775.1,374.5 773.7,374.9 772.2,375.2" fill="none" stroke="#f2f2f2" stroke-width="1.3"/><polyline points="812.3,370.0 811.9,370.9 811.5,371.9 811.1,372.8 810.6,373.7 810.0,374.6 809.5,375.5 808.9,376.4 808.2,377.3 807.6,378.2 806.9,379.1 806.1,379.9 805.4,380.8 804.6,381.6 803.7,382.4 802.8,383.3 801.9,384.1 801.0,384.8 800.0,385.6 799.0,386.4 798.0,387.1 796.9,387.8 795.9,388.5 794.7,389.2 793.6,389.9 792.4,390.6 791.2,391.2 790.0,391.8 788.8,392.5 787.5,393.0 786.2,393.6 784.9,394.2 783.6,394.7 782.2,395.2 780.8,395.7 779.4,396.2 778.0,396.6 776.6,397.1 775.1,397.5 773.7,397.9 772.2,398.2" fill="none" stroke="#f2f2f2" stroke-width="1.3"/><path d="M811.8 351.5 L810.8 353.6 L810.8 370.2 L811.8 368.1ZM809.3 356.1 L807.8 358.1 L807.8 374.7 L809.3 372.7ZM805.8 360.5 L804.0 362.3 L804.0 378.9 L805.8 377.1ZM801.6 364.6 L799.4 366.3 L799.4 382.9 L801.6 381.2ZM796.5 368.3 L794.0 369.9 L794.0 386.5 L796.5 384.9ZM790.8 371.7 L788.0 373.0 L788.0 389.6 L790.8 388.3ZM784.4 374.6 L781.3 375.7 L781.3 392.3 L784.4 391.2ZM777.5 377.0 L774.2 377.9 L774.2 394.5 L777.5 393.6Z" fill="#6a6a6a"/><polygon points="772.7,375.1 769.7,375.8 766.6,376.4 763.4,376.9 760.3,377.3 757.0,377.6 753.8,377.8 750.6,378.0 747.3,378.0 744.1,377.9 740.8,377.8 737.6,377.5 734.4,377.1 731.2,376.7 728.1,376.1 725.0,375.5 722.0,374.8 719.0,373.9 716.2,373.0 713.3,372.0 710.6,371.0 708.0,369.8 705.4,368.6 703.0,367.3 700.7,365.9 698.5,364.4 696.4,362.9 694.4,361.4 692.6,359.7 690.9,358.0 689.3,356.3 687.9,354.5 686.6,352.7 685.5,350.9 684.5,349.0 683.7,347.1 683.1,345.2 682.6,343.2 682.2,341.2 682.0,339.3 682.0,337.3 682.0,360.3 682.0,362.3 682.2,364.2 682.6,366.2 683.1,368.2 683.7,370.1 684.5,372.0 685.5,373.9 686.6,375.7 687.9,377.5 689.3,379.3 690.9,381.0 692.6,382.7 694.4,384.4 696.4,385.9 698.5,387.4 700.7,388.9 703.0,390.3 705.4,391.6 708.0,392.8 710.6,394.0 713.3,395.0 716.2,396.0 719.0,396.9 722.0,397.8 725.0,398.5 728.1,399.1 731.2,399.7 734.4,400.1 737.6,400.5 740.8,400.8 744.1,400.9 747.3,401.0 750.6,401.0 753.8,400.8 757.0,400.6 760.3,400.3 763.4,399.9 766.6,399.4 769.7,398.8 772.7,398.1" fill="#e3e3e3" /><polyline points="772.7,375.1 769.7,375.8 766.6,376.4 763.4,376.9 760.3,377.3 757.0,377.6 753.8,377.8 750.6,378.0 747.3,378.0 744.1,377.9 740.8,377.8 737.6,377.5 734.4,377.1 731.2,376.7 728.1,376.1 725.0,375.5 722.0,374.8 719.0,373.9 716.2,373.0 713.3,372.0 710.6,371.0 708.0,369.8 705.4,368.6 703.0,367.3 700.7,365.9 698.5,364.4 696.4,362.9 694.4,361.4 692.6,359.7 690.9,358.0 689.3,356.3 687.9,354.5 686.6,352.7 685.5,350.9 684.5,349.0 683.7,347.1 683.1,345.2 682.6,343.2 682.2,341.2 682.0,339.3 682.0,337.3" fill="none" stroke="#f2f2f2" stroke-width="1.3"/><polyline points="772.7,398.1 769.7,398.8 766.6,399.4 763.4,399.9 760.3,400.3 757.0,400.6 753.8,400.8 750.6,401.0 747.3,401.0 744.1,400.9 740.8,400.8 737.6,400.5 734.4,400.1 731.2,399.7 728.1,399.1 725.0,398.5 722.0,397.8 719.0,396.9 716.2,396.0 713.3,395.0 710.6,394.0 708.0,392.8 705.4,391.6 703.0,390.3 700.7,388.9 698.5,387.4 696.4,385.9 694.4,384.4 692.6,382.7 690.9,381.0 689.3,379.3 687.9,377.5 686.6,375.7 685.5,373.9 684.5,372.0 683.7,370.1 683.1,368.2 682.6,366.2 682.2,364.2 682.0,362.3 682.0,360.3" fill="none" stroke="#f2f2f2" stroke-width="1.3"/><path d="M770.5 378.8 L767.3 379.5 L767.3 396.1 L770.5 395.4ZM762.7 380.2 L759.4 380.6 L759.4 397.2 L762.7 396.8ZM754.7 381.0 L751.3 381.2 L751.3 397.8 L754.7 397.6ZM746.6 381.2 L743.2 381.1 L743.2 397.7 L746.6 397.8ZM738.5 380.8 L735.1 380.4 L735.1 397.0 L738.5 397.4ZM730.5 379.8 L727.2 379.2 L727.2 395.8 L730.5 396.4ZM722.8 378.2 L719.7 377.3 L719.7 393.9 L722.8 394.8ZM715.5 376.0 L712.6 375.0 L712.6 391.6 L715.5 392.6ZM708.7 373.3 L706.0 372.1 L706.0 388.7 L708.7 389.9ZM702.5 370.2 L700.1 368.7 L700.1 385.3 L702.5 386.8ZM696.9 366.5 L694.9 364.9 L694.9 381.5 L696.9 383.1ZM692.2 362.6 L690.4 360.8 L690.4 377.4 L692.2 379.2ZM688.3 358.2 L686.9 356.3 L686.9 372.9 L688.3 374.8ZM685.3 353.7 L684.3 351.7 L684.3 368.3 L685.3 370.3ZM683.2 348.9 L682.7 346.8 L682.7 363.4 L683.2 365.5ZM682.2 344.0 L682.0 341.9 L682.0 358.5 L682.2 360.6Z" fill="#1b1b1b"/><polygon points="810.0,420.4 809.6,421.3 809.1,422.2 808.7,423.1 808.2,424.0 807.7,424.9 807.1,425.8 806.5,426.7 805.9,427.5 805.3,428.4 804.6,429.2 803.9,430.1 803.2,430.9 802.4,431.7 801.6,432.5 800.8,433.3 799.9,434.1 799.0,434.8 798.1,435.6 797.2,436.3 796.2,437.0 795.3,437.7 794.2,438.4 793.2,439.1 792.1,439.7 791.1,440.4 790.0,441.0 788.8,441.6 787.7,442.2 786.5,442.7 785.3,443.3 784.1,443.8 782.9,444.3 781.7,444.8 780.4,445.2 779.1,445.7 777.8,446.1 776.5,446.5 775.2,446.9 773.9,447.2 772.5,447.6 772.5,468.6 773.9,468.2 775.2,467.9 776.5,467.5 777.8,467.1 779.1,466.7 780.4,466.2 781.7,465.8 782.9,465.3 784.1,464.8 785.3,464.3 786.5,463.7 787.7,463.2 788.8,462.6 790.0,462.0 791.1,461.4 792.1,460.7 793.2,460.1 794.2,459.4 795.3,458.7 796.2,458.0 797.2,457.3 798.1,456.6 799.0,455.8 799.9,455.1 800.8,454.3 801.6,453.5 802.4,452.7 803.2,451.9 803.9,451.1 804.6,450.2 805.3,449.4 805.9,448.5 806.5,447.7 807.1,446.8 807.7,445.9 808.2,445.0 808.7,444.1 809.1,443.2 809.6,442.3 810.0,441.4" fill="#dfdfdf" /><polyline points="810.0,420.4 809.6,421.3 809.1,422.2 808.7,423.1 808.2,424.0 807.7,424.9 807.1,425.8 806.5,426.7 805.9,427.5 805.3,428.4 804.6,429.2 803.9,430.1 803.2,430.9 802.4,431.7 801.6,432.5 800.8,433.3 799.9,434.1 799.0,434.8 798.1,435.6 797.2,436.3 796.2,437.0 795.3,437.7 794.2,438.4 793.2,439.1 792.1,439.7 791.1,440.4 790.0,441.0 788.8,441.6 787.7,442.2 786.5,442.7 785.3,443.3 784.1,443.8 782.9,444.3 781.7,444.8 780.4,445.2 779.1,445.7 777.8,446.1 776.5,446.5 775.2,446.9 773.9,447.2 772.5,447.6" fill="none" stroke="#f2f2f2" stroke-width="1.3"/><polyline points="810.0,441.4 809.6,442.3 809.1,443.2 808.7,444.1 808.2,445.0 807.7,445.9 807.1,446.8 806.5,447.7 805.9,448.5 805.3,449.4 804.6,450.2 803.9,451.1 803.2,451.9 802.4,452.7 801.6,453.5 800.8,454.3 799.9,455.1 799.0,455.8 798.1,456.6 797.2,457.3 796.2,458.0 795.3,458.7 794.2,459.4 793.2,460.1 792.1,460.7 791.1,461.4 790.0,462.0 788.8,462.6 787.7,463.2 786.5,463.7 785.3,464.3 784.1,464.8 782.9,465.3 781.7,465.8 780.4,466.2 779.1,466.7 777.8,467.1 776.5,467.5 775.2,467.9 773.9,468.2 772.5,468.6" fill="none" stroke="#f2f2f2" stroke-width="1.3"/><path d="M809.4 424.8 L808.4 426.9 L808.4 441.5 L809.4 439.4ZM806.9 429.3 L805.5 431.3 L805.5 445.9 L806.9 443.9ZM803.6 433.6 L801.9 435.4 L801.9 450.0 L803.6 448.2ZM799.6 437.6 L797.5 439.2 L797.5 453.8 L799.6 452.2ZM794.9 441.2 L792.5 442.7 L792.5 457.3 L794.9 455.8ZM789.5 444.4 L787.0 445.7 L787.0 460.3 L789.5 459.0ZM783.7 447.2 L780.9 448.3 L780.9 462.9 L783.7 461.8ZM777.3 449.5 L774.4 450.3 L774.4 464.9 L777.3 464.1Z" fill="#6a6a6a"/><polygon points="773.0,447.5 770.3,448.1 767.5,448.7 764.6,449.1 761.7,449.5 758.9,449.7 756.0,449.9 753.0,450.0 750.1,450.0 747.2,449.9 744.3,449.7 741.4,449.4 738.6,449.0 735.7,448.5 732.9,447.9 730.2,447.3 727.5,446.5 724.9,445.7 722.3,444.8 719.8,443.7 717.4,442.7 715.0,441.5 712.8,440.3 710.6,439.0 708.5,437.6 706.6,436.1 704.7,434.6 703.0,433.1 701.4,431.5 699.9,429.8 698.5,428.1 697.2,426.3 696.1,424.5 695.1,422.7 694.2,420.8 693.5,419.0 692.9,417.0 692.5,415.1 692.2,413.2 692.0,411.2 692.0,409.3 692.0,430.3 692.0,432.2 692.2,434.2 692.5,436.1 692.9,438.0 693.5,440.0 694.2,441.8 695.1,443.7 696.1,445.5 697.2,447.3 698.5,449.1 699.9,450.8 701.4,452.5 703.0,454.1 704.7,455.6 706.6,457.1 708.5,458.6 710.6,460.0 712.8,461.3 715.0,462.5 717.4,463.7 719.8,464.7 722.3,465.8 724.9,466.7 727.5,467.5 730.2,468.3 732.9,468.9 735.7,469.5 738.6,470.0 741.4,470.4 744.3,470.7 747.2,470.9 750.1,471.0 753.0,471.0 756.0,470.9 758.9,470.7 761.7,470.5 764.6,470.1 767.5,469.7 770.3,469.1 773.0,468.5" fill="#e3e3e3" /><polyline points="773.0,447.5 770.3,448.1 767.5,448.7 764.6,449.1 761.7,449.5 758.9,449.7 756.0,449.9 753.0,450.0 750.1,450.0 747.2,449.9 744.3,449.7 741.4,449.4 738.6,449.0 735.7,448.5 732.9,447.9 730.2,447.3 727.5,446.5 724.9,445.7 722.3,444.8 719.8,443.7 717.4,442.7 715.0,441.5 712.8,440.3 710.6,439.0 708.5,437.6 706.6,436.1 704.7,434.6 703.0,433.1 701.4,431.5 699.9,429.8 698.5,428.1 697.2,426.3 696.1,424.5 695.1,422.7 694.2,420.8 693.5,419.0 692.9,417.0 692.5,415.1 692.2,413.2 692.0,411.2 692.0,409.3" fill="none" stroke="#f2f2f2" stroke-width="1.3"/><polyline points="773.0,468.5 770.3,469.1 767.5,469.7 764.6,470.1 761.7,470.5 758.9,470.7 756.0,470.9 753.0,471.0 750.1,471.0 747.2,470.9 744.3,470.7 741.4,470.4 738.6,470.0 735.7,469.5 732.9,468.9 730.2,468.3 727.5,467.5 724.9,466.7 722.3,465.8 719.8,464.7 717.4,463.7 715.0,462.5 712.8,461.3 710.6,460.0 708.5,458.6 706.6,457.1 704.7,455.6 703.0,454.1 701.4,452.5 699.9,450.8 698.5,449.1 697.2,447.3 696.1,445.5 695.1,443.7 694.2,441.8 693.5,440.0 692.9,438.0 692.5,436.1 692.2,434.2 692.0,432.2 692.0,430.3" fill="none" stroke="#f2f2f2" stroke-width="1.3"/><path d="M771.0 451.1 L768.1 451.7 L768.1 466.3 L771.0 465.7ZM764.0 452.4 L761.0 452.8 L761.0 467.4 L764.0 467.0ZM756.8 453.1 L753.7 453.2 L753.7 467.8 L756.8 467.7ZM749.5 453.2 L746.4 453.0 L746.4 467.6 L749.5 467.8ZM742.2 452.7 L739.2 452.3 L739.2 466.9 L742.2 467.3ZM735.1 451.6 L732.2 451.0 L732.2 465.6 L735.1 466.2ZM728.2 449.9 L725.5 449.1 L725.5 463.7 L728.2 464.5ZM721.7 447.7 L719.1 446.7 L719.1 461.3 L721.7 462.3ZM715.7 445.0 L713.3 443.8 L713.3 458.4 L715.7 459.6ZM710.1 441.9 L708.0 440.4 L708.0 455.0 L710.1 456.5ZM705.2 438.3 L703.4 436.6 L703.4 451.2 L705.2 452.9ZM701.0 434.3 L699.5 432.5 L699.5 447.1 L701.0 448.9ZM697.6 430.0 L696.3 428.1 L696.3 442.7 L697.6 444.6ZM694.9 425.5 L694.0 423.5 L694.0 438.1 L694.9 440.1ZM693.1 420.8 L692.6 418.8 L692.6 433.4 L693.1 435.4ZM692.1 416.0 L692.0 413.9 L692.0 428.5 L692.1 430.6Z" fill="#1b1b1b"/><ellipse cx="816.5" cy="367.5" rx="4.5" ry="5.5" fill="#d3d3d3"/><ellipse cx="811" cy="437.5" rx="4" ry="5" fill="#d3d3d3"/><rect x="728.5" y="373.0" width="40.0" height="32.0" rx="1.5" fill="url(#g29)" /><rect x="734.0" y="448.0" width="34.5" height="29.0" rx="1.5" fill="url(#g30)" /><path d="M881 446 L920 443 L958 446 L983 461 L982 535 L960 548 L957 553 L889 557 L886 553 Z" fill="url(#g33)"/><polygon points="918.0,447.0 957.0,449.0 957.0,545.0 918.0,545.0" fill="#dcdfe3" /><polygon points="918.0,447.0 957.0,449.0 956.0,470.0 918.0,468.0" fill="#f1f2f4" /><polygon points="918.0,500.0 957.0,500.0 957.0,524.0 918.0,524.0" fill="#eceef1" /><polygon points="835.3,570.9 836.0,567.4 837.2,564.0 838.8,560.7 840.8,557.4 843.3,554.2 846.1,551.1 849.3,548.2 852.8,545.4 856.7,542.8 861.0,540.3 865.5,538.1 870.3,536.0 875.3,534.2 880.6,532.6 886.0,531.2 891.6,530.1 897.3,529.2 903.2,528.5 909.1,528.1 915.0,528.0 920.9,528.1 926.8,528.5 932.7,529.2 938.4,530.1 944.0,531.2 949.4,532.6 954.7,534.2 959.7,536.0 964.5,538.1 969.0,540.3 973.3,542.8 977.2,545.4 980.7,548.2 983.9,551.1 986.7,554.2 989.2,557.4 991.2,560.7 992.8,564.0 994.0,567.4 994.7,570.9 994.7,586.9 994.0,583.4 992.8,580.0 991.2,576.7 989.2,573.4 986.7,570.2 983.9,567.1 980.7,564.2 977.2,561.4 973.3,558.8 969.0,556.3 964.5,554.1 959.7,552.0 954.7,550.2 949.4,548.6 944.0,547.2 938.4,546.1 932.7,545.2 926.8,544.5 920.9,544.1 915.0,544.0 909.1,544.1 903.2,544.5 897.3,545.2 891.6,546.1 886.0,547.2 880.6,548.6 875.3,550.2 870.3,552.0 865.5,554.1 861.0,556.3 856.7,558.8 852.8,561.4 849.3,564.2 846.1,567.1 843.3,570.2 840.8,573.4 838.8,576.7 837.2,580.0 836.0,583.4 835.3,586.9" fill="url(#g31)" /><polyline points="835.3,570.9 836.0,567.4 837.2,564.0 838.8,560.7 840.8,557.4 843.3,554.2 846.1,551.1 849.3,548.2 852.8,545.4 856.7,542.8 861.0,540.3 865.5,538.1 870.3,536.0 875.3,534.2 880.6,532.6 886.0,531.2 891.6,530.1 897.3,529.2 903.2,528.5 909.1,528.1 915.0,528.0 920.9,528.1 926.8,528.5 932.7,529.2 938.4,530.1 944.0,531.2 949.4,532.6 954.7,534.2 959.7,536.0 964.5,538.1 969.0,540.3 973.3,542.8 977.2,545.4 980.7,548.2 983.9,551.1 986.7,554.2 989.2,557.4 991.2,560.7 992.8,564.0 994.0,567.4 994.7,570.9" fill="none" stroke="#e6e6e6" stroke-width="1.2"/><polyline points="835.3,586.9 836.0,583.4 837.2,580.0 838.8,576.7 840.8,573.4 843.3,570.2 846.1,567.1 849.3,564.2 852.8,561.4 856.7,558.8 861.0,556.3 865.5,554.1 870.3,552.0 875.3,550.2 880.6,548.6 886.0,547.2 891.6,546.1 897.3,545.2 903.2,544.5 909.1,544.1 915.0,544.0 920.9,544.1 926.8,544.5 932.7,545.2 938.4,546.1 944.0,547.2 949.4,548.6 954.7,550.2 959.7,552.0 964.5,554.1 969.0,556.3 973.3,558.8 977.2,561.4 980.7,564.2 983.9,567.1 986.7,570.2 989.2,573.4 991.2,576.7 992.8,580.0 994.0,583.4 994.7,586.9" fill="none" stroke="#e6e6e6" stroke-width="1.2"/><path d="M835.5 572.9 L835.8 571.4 L835.8 581.4 L835.5 582.9ZM836.3 569.5 L836.8 568.0 L836.8 578.0 L836.3 579.5ZM837.6 566.1 L838.3 564.6 L838.3 574.6 L837.6 576.1ZM839.3 562.8 L840.2 561.3 L840.2 571.3 L839.3 572.8ZM841.5 559.5 L842.5 558.1 L842.5 568.1 L841.5 569.5ZM844.0 556.4 L845.3 555.0 L845.3 565.0 L844.0 566.4ZM846.9 553.3 L848.4 552.0 L848.4 562.0 L846.9 563.3ZM850.2 550.4 L851.8 549.2 L851.8 559.2 L850.2 560.4ZM853.9 547.7 L855.6 546.5 L855.6 556.5 L853.9 557.7ZM857.9 545.1 L859.8 544.0 L859.8 554.0 L857.9 555.1ZM862.2 542.7 L864.2 541.7 L864.2 551.7 L862.2 552.7ZM866.8 540.5 L868.9 539.6 L868.9 549.6 L866.8 550.5ZM871.6 538.5 L873.9 537.7 L873.9 547.7 L871.6 548.5ZM876.7 536.7 L879.1 536.0 L879.1 546.0 L876.7 546.7ZM882.0 535.2 L884.5 534.6 L884.5 544.6 L882.0 545.2ZM887.5 533.9 L890.1 533.3 L890.1 543.3 L887.5 543.9ZM893.2 532.8 L895.8 532.4 L895.8 542.4 L893.2 542.8ZM898.9 532.0 L901.6 531.7 L901.6 541.7 L898.9 542.0ZM904.8 531.4 L907.4 531.2 L907.4 541.2 L904.8 541.4ZM910.7 531.1 L913.4 531.0 L913.4 541.0 L910.7 541.1ZM916.6 531.0 L919.3 531.1 L919.3 541.1 L916.6 541.0ZM922.6 531.2 L925.2 531.4 L925.2 541.4 L922.6 541.2ZM928.4 531.7 L931.1 532.0 L931.1 542.0 L928.4 541.7ZM934.2 532.4 L936.8 532.8 L936.8 542.8 L934.2 542.4ZM939.9 533.3 L942.5 533.9 L942.5 543.9 L939.9 543.3ZM945.5 534.6 L948.0 535.2 L948.0 545.2 L945.5 544.6ZM950.9 536.0 L953.3 536.7 L953.3 546.7 L950.9 546.0ZM956.1 537.7 L958.4 538.5 L958.4 548.5 L956.1 547.7ZM961.1 539.6 L963.2 540.5 L963.2 550.5 L961.1 549.6ZM965.8 541.7 L967.8 542.7 L967.8 552.7 L965.8 551.7ZM970.2 544.0 L972.1 545.1 L972.1 555.1 L970.2 554.0ZM974.4 546.5 L976.1 547.7 L976.1 557.7 L974.4 556.5ZM978.2 549.2 L979.8 550.4 L979.8 560.4 L978.2 559.2ZM981.6 552.0 L983.1 553.3 L983.1 563.3 L981.6 562.0ZM984.7 555.0 L986.0 556.4 L986.0 566.4 L984.7 565.0ZM987.5 558.1 L988.5 559.5 L988.5 569.5 L987.5 568.1ZM989.8 561.3 L990.7 562.8 L990.7 572.8 L989.8 571.3ZM991.7 564.6 L992.4 566.1 L992.4 576.1 L991.7 574.6ZM993.2 568.0 L993.7 569.5 L993.7 579.5 L993.2 578.0ZM994.2 571.4 L994.5 572.9 L994.5 582.9 L994.2 581.4Z" fill="#202020"/><polygon points="824.5,513.7 824.9,510.4 825.8,507.1 827.3,503.8 829.3,500.6 831.8,497.5 834.8,494.5 838.3,491.6 842.2,488.9 846.6,486.3 851.4,483.8 856.6,481.6 862.1,479.5 867.9,477.7 874.1,476.1 880.4,474.7 887.0,473.6 893.7,472.7 900.6,472.0 907.5,471.6 914.5,471.5 921.5,471.6 928.4,472.0 935.3,472.7 942.0,473.6 948.6,474.7 954.9,476.1 961.1,477.7 966.9,479.5 972.4,481.6 977.6,483.8 982.4,486.3 986.8,488.9 990.7,491.6 994.2,494.5 997.2,497.5 999.7,500.6 1001.7,503.8 1003.2,507.1 1004.1,510.4 1004.5,513.7 1004.5,535.2 1004.1,531.9 1003.2,528.6 1001.7,525.3 999.7,522.1 997.2,519.0 994.2,516.0 990.7,513.1 986.8,510.4 982.4,507.8 977.6,505.3 972.4,503.1 966.9,501.0 961.1,499.2 954.9,497.6 948.6,496.2 942.0,495.1 935.3,494.2 928.4,493.5 921.5,493.1 914.5,493.0 907.5,493.1 900.6,493.5 893.7,494.2 887.0,495.1 880.4,496.2 874.1,497.6 867.9,499.2 862.1,501.0 856.6,503.1 851.4,505.3 846.6,507.8 842.2,510.4 838.3,513.1 834.8,516.0 831.8,519.0 829.3,522.1 827.3,525.3 825.8,528.6 824.9,531.9 824.5,535.2" fill="url(#g31)" /><polyline points="824.5,513.7 824.9,510.4 825.8,507.1 827.3,503.8 829.3,500.6 831.8,497.5 834.8,494.5 838.3,491.6 842.2,488.9 846.6,486.3 851.4,483.8 856.6,481.6 862.1,479.5 867.9,477.7 874.1,476.1 880.4,474.7 887.0,473.6 893.7,472.7 900.6,472.0 907.5,471.6 914.5,471.5 921.5,471.6 928.4,472.0 935.3,472.7 942.0,473.6 948.6,474.7 954.9,476.1 961.1,477.7 966.9,479.5 972.4,481.6 977.6,483.8 982.4,486.3 986.8,488.9 990.7,491.6 994.2,494.5 997.2,497.5 999.7,500.6 1001.7,503.8 1003.2,507.1 1004.1,510.4 1004.5,513.7" fill="none" stroke="#ebebeb" stroke-width="1.3"/><polyline points="824.5,535.2 824.9,531.9 825.8,528.6 827.3,525.3 829.3,522.1 831.8,519.0 834.8,516.0 838.3,513.1 842.2,510.4 846.6,507.8 851.4,505.3 856.6,503.1 862.1,501.0 867.9,499.2 874.1,497.6 880.4,496.2 887.0,495.1 893.7,494.2 900.6,493.5 907.5,493.1 914.5,493.0 921.5,493.1 928.4,493.5 935.3,494.2 942.0,495.1 948.6,496.2 954.9,497.6 961.1,499.2 966.9,501.0 972.4,503.1 977.6,505.3 982.4,507.8 986.8,510.4 990.7,513.1 994.2,516.0 997.2,519.0 999.7,522.1 1001.7,525.3 1003.2,528.6 1004.1,531.9 1004.5,535.2" fill="none" stroke="#ebebeb" stroke-width="1.3"/><path d="M824.6 516.2 L824.7 514.8 L824.7 529.9 L824.6 531.3ZM825.0 513.3 L825.3 512.0 L825.3 527.1 L825.0 528.4ZM825.8 510.4 L826.3 509.1 L826.3 524.2 L825.8 525.5ZM827.1 507.5 L827.7 506.3 L827.7 521.4 L827.1 522.6ZM828.7 504.7 L829.5 503.5 L829.5 518.6 L828.7 519.8ZM830.7 502.0 L831.7 500.8 L831.7 515.9 L830.7 517.1ZM833.1 499.3 L834.3 498.2 L834.3 513.3 L833.1 514.4ZM835.9 496.8 L837.3 495.6 L837.3 510.7 L835.9 511.9ZM839.0 494.3 L840.6 493.2 L840.6 508.3 L839.0 509.4ZM842.5 491.9 L844.2 490.9 L844.2 506.0 L842.5 507.0ZM846.3 489.6 L848.1 488.6 L848.1 503.7 L846.3 504.7ZM850.5 487.5 L852.4 486.6 L852.4 501.7 L850.5 502.6ZM854.9 485.5 L856.9 484.6 L856.9 499.7 L854.9 500.6ZM859.5 483.6 L861.7 482.9 L861.7 498.0 L859.5 498.7ZM864.5 482.0 L866.8 481.2 L866.8 496.3 L864.5 497.1ZM869.6 480.4 L872.0 479.8 L872.0 494.9 L869.6 495.5ZM875.0 479.1 L877.5 478.5 L877.5 493.6 L875.0 494.2ZM880.6 477.9 L883.1 477.4 L883.1 492.5 L880.6 493.0ZM886.3 476.9 L888.9 476.5 L888.9 491.6 L886.3 492.0ZM892.1 476.1 L894.8 475.7 L894.8 490.8 L892.1 491.2ZM898.0 475.4 L900.7 475.2 L900.7 490.3 L898.0 490.5ZM904.0 475.0 L906.8 474.9 L906.8 490.0 L904.0 490.1ZM910.1 474.8 L912.8 474.7 L912.8 489.8 L910.1 489.9ZM916.2 474.7 L918.9 474.8 L918.9 489.9 L916.2 489.8ZM922.2 474.9 L925.0 475.0 L925.0 490.1 L922.2 490.0ZM928.3 475.2 L931.0 475.4 L931.0 490.5 L928.3 490.3ZM934.2 475.7 L936.9 476.1 L936.9 491.2 L934.2 490.8ZM940.1 476.5 L942.7 476.9 L942.7 492.0 L940.1 491.6ZM945.9 477.4 L948.4 477.9 L948.4 493.0 L945.9 492.5ZM951.5 478.5 L954.0 479.1 L954.0 494.2 L951.5 493.6ZM957.0 479.8 L959.4 480.4 L959.4 495.5 L957.0 494.9ZM962.2 481.2 L964.5 482.0 L964.5 497.1 L962.2 496.3ZM967.3 482.9 L969.5 483.6 L969.5 498.7 L967.3 498.0ZM972.1 484.6 L974.1 485.5 L974.1 500.6 L972.1 499.7ZM976.6 486.6 L978.5 487.5 L978.5 502.6 L976.6 501.7ZM980.9 488.6 L982.7 489.6 L982.7 504.7 L980.9 503.7ZM984.8 490.9 L986.5 491.9 L986.5 507.0 L984.8 506.0ZM988.4 493.2 L990.0 494.3 L990.0 509.4 L988.4 508.3ZM991.7 495.6 L993.1 496.8 L993.1 511.9 L991.7 510.7ZM994.7 498.2 L995.9 499.3 L995.9 514.4 L994.7 513.3ZM997.3 500.8 L998.3 502.0 L998.3 517.1 L997.3 515.9ZM999.5 503.5 L1000.3 504.7 L1000.3 519.8 L999.5 518.6ZM1001.3 506.3 L1001.9 507.5 L1001.9 522.6 L1001.3 521.4ZM1002.7 509.1 L1003.2 510.4 L1003.2 525.5 L1002.7 524.2ZM1003.7 512.0 L1004.0 513.3 L1004.0 528.4 L1003.7 527.1ZM1004.3 514.8 L1004.4 516.2 L1004.4 531.3 L1004.3 529.9Z" fill="#1a1a1a"/><polygon points="918.0,447.0 966.0,449.0 966.0,550.0 918.0,556.0" fill="#e6e8eb" opacity="0.5"/><path d="M881 447 Q879.5 448 879.7 451 L886 552 L889 556.5 L918 556 L918 446 Z" fill="url(#g34)"/><path d="M966 470 L983 461.5 L981 536 L968 546 Z" fill="url(#g35)"/><polygon points="957.0,447.0 983.0,461.5 966.0,470.0 957.0,452.0" fill="#c2c4c7" /><path d="M958 446 L983.5 461" stroke="#333" stroke-width="2.5" fill="none"/><path d="M881 446.5 L920 443.5 L958 446" stroke="#f4f5f6" stroke-width="1.6" fill="none"/><rect x="897.2" y="463.5" width="7.5" height="37.0" rx="3.8" fill="#101010" transform="rotate(2 901 482)" /><rect x="900.2" y="520.0" width="7.5" height="30.0" rx="3.8" fill="#101010" transform="rotate(2 904 535)" /><rect x="897.0" y="475.5" width="8.0" height="19.0" rx="0" fill="#e4e6e9" /><rect x="900.0" y="529.0" width="8.0" height="15.0" rx="0" fill="#dfe1e4" /><rect x="971.5" y="482.0" width="3.0" height="20.0" rx="1.5" fill="#b9bbbe" transform="rotate(-3 973 492)" /><rect x="969.5" y="526.0" width="3.0" height="14.0" rx="1.5" fill="#b9bbbe" transform="rotate(-3 971 533)" /><polygon points="994.8,578.3 994.2,581.8 993.0,585.3 991.5,588.8 989.5,592.1 987.1,595.4 984.2,598.6 981.0,601.6 977.3,604.5 973.4,607.1 969.0,609.7 964.4,612.0 959.5,614.1 954.3,615.9 948.9,617.6 943.3,619.0 937.6,620.1 931.7,621.0 925.7,621.6 919.7,621.9 913.6,622.0 907.5,621.8 901.5,621.3 895.6,620.6 889.7,619.6 884.1,618.3 878.6,616.8 873.3,615.1 868.2,613.1 863.4,610.9 858.9,608.5 854.8,605.9 850.9,603.2 847.5,600.2 844.4,597.1 841.8,593.9 839.5,590.6 837.7,587.2 836.4,583.7 835.5,580.2 835.0,576.6 835.0,594.6 835.5,598.2 836.4,601.7 837.7,605.2 839.5,608.6 841.8,611.9 844.4,615.1 847.5,618.2 850.9,621.2 854.8,623.9 858.9,626.5 863.4,628.9 868.2,631.1 873.3,633.1 878.6,634.8 884.1,636.3 889.7,637.6 895.6,638.6 901.5,639.3 907.5,639.8 913.6,640.0 919.7,639.9 925.7,639.6 931.7,639.0 937.6,638.1 943.3,637.0 948.9,635.6 954.3,633.9 959.5,632.1 964.4,630.0 969.0,627.7 973.4,625.1 977.3,622.5 981.0,619.6 984.2,616.6 987.1,613.4 989.5,610.1 991.5,606.8 993.0,603.3 994.2,599.8 994.8,596.3" fill="url(#g32)" /><polyline points="994.8,578.3 994.2,581.8 993.0,585.3 991.5,588.8 989.5,592.1 987.1,595.4 984.2,598.6 981.0,601.6 977.3,604.5 973.4,607.1 969.0,609.7 964.4,612.0 959.5,614.1 954.3,615.9 948.9,617.6 943.3,619.0 937.6,620.1 931.7,621.0 925.7,621.6 919.7,621.9 913.6,622.0 907.5,621.8 901.5,621.3 895.6,620.6 889.7,619.6 884.1,618.3 878.6,616.8 873.3,615.1 868.2,613.1 863.4,610.9 858.9,608.5 854.8,605.9 850.9,603.2 847.5,600.2 844.4,597.1 841.8,593.9 839.5,590.6 837.7,587.2 836.4,583.7 835.5,580.2 835.0,576.6" fill="none" stroke="#f6f6f6" stroke-width="1.4"/><polyline points="994.8,596.3 994.2,599.8 993.0,603.3 991.5,606.8 989.5,610.1 987.1,613.4 984.2,616.6 981.0,619.6 977.3,622.5 973.4,625.1 969.0,627.7 964.4,630.0 959.5,632.1 954.3,633.9 948.9,635.6 943.3,637.0 937.6,638.1 931.7,639.0 925.7,639.6 919.7,639.9 913.6,640.0 907.5,639.8 901.5,639.3 895.6,638.6 889.7,637.6 884.1,636.3 878.6,634.8 873.3,633.1 868.2,631.1 863.4,628.9 858.9,626.5 854.8,623.9 850.9,621.2 847.5,618.2 844.4,615.1 841.8,611.9 839.5,608.6 837.7,605.2 836.4,601.7 835.5,598.2 835.0,594.6" fill="none" stroke="#f6f6f6" stroke-width="1.4"/><path d="M958.1 617.8 L954.7 619.0 L954.7 630.6 L958.1 629.4ZM951.2 620.1 L947.7 621.1 L947.7 632.7 L951.2 631.7ZM944.1 622.0 L940.3 622.8 L940.3 634.4 L944.1 633.6ZM936.6 623.5 L932.8 624.0 L932.8 635.6 L936.6 635.1ZM928.9 624.5 L925.0 624.8 L925.0 636.4 L928.9 636.1ZM921.1 625.1 L917.1 625.2 L917.1 636.8 L921.1 636.7ZM913.2 625.2 L909.3 625.1 L909.3 636.7 L913.2 636.8ZM905.3 624.9 L901.4 624.5 L901.4 636.1 L905.3 636.5ZM897.6 624.1 L893.7 623.5 L893.7 635.1 L897.6 635.7ZM890.0 622.8 L886.3 622.1 L886.3 633.7 L890.0 634.4ZM882.6 621.2 L879.0 620.2 L879.0 631.8 L882.6 632.8ZM875.6 619.1 L872.2 617.9 L872.2 629.5 L875.6 630.7ZM868.9 616.6 L865.7 615.2 L865.7 626.8 L868.9 628.2ZM862.7 613.8 L859.8 612.2 L859.8 623.8 L862.7 625.4ZM857.0 610.6 L854.4 608.9 L854.4 620.5 L857.0 622.2ZM851.9 607.1 L849.5 605.2 L849.5 616.8 L851.9 618.7ZM847.3 603.3 L845.3 601.3 L845.3 612.9 L847.3 614.9Z" fill="#0e0e0e"/><polygon points="1004.5,514.5 1004.2,517.9 1003.4,521.2 1002.0,524.5 1000.1,527.8 997.6,531.0 994.7,534.0 991.2,537.0 987.3,539.8 982.9,542.4 978.1,544.9 973.0,547.2 967.4,549.3 961.5,551.2 955.4,552.8 948.9,554.2 942.3,555.4 935.5,556.3 928.6,557.0 921.6,557.4 914.5,557.5 907.4,557.4 900.4,557.0 893.5,556.3 886.7,555.4 880.1,554.2 873.6,552.8 867.5,551.2 861.6,549.3 856.0,547.2 850.9,544.9 846.1,542.4 841.7,539.8 837.8,537.0 834.3,534.0 831.4,531.0 828.9,527.8 827.0,524.5 825.6,521.2 824.8,517.9 824.5,514.5 824.5,537.0 824.8,540.4 825.6,543.7 827.0,547.0 828.9,550.3 831.4,553.5 834.3,556.5 837.8,559.5 841.7,562.3 846.1,564.9 850.9,567.4 856.0,569.7 861.6,571.8 867.5,573.7 873.6,575.3 880.1,576.7 886.7,577.9 893.5,578.8 900.4,579.5 907.4,579.9 914.5,580.0 921.6,579.9 928.6,579.5 935.5,578.8 942.3,577.9 948.9,576.7 955.4,575.3 961.5,573.7 967.4,571.8 973.0,569.7 978.1,567.4 982.9,564.9 987.3,562.3 991.2,559.5 994.7,556.5 997.6,553.5 1000.1,550.3 1002.0,547.0 1003.4,543.7 1004.2,540.4 1004.5,537.0" fill="url(#g32)" /><polyline points="1004.5,514.5 1004.2,517.9 1003.4,521.2 1002.0,524.5 1000.1,527.8 997.6,531.0 994.7,534.0 991.2,537.0 987.3,539.8 982.9,542.4 978.1,544.9 973.0,547.2 967.4,549.3 961.5,551.2 955.4,552.8 948.9,554.2 942.3,555.4 935.5,556.3 928.6,557.0 921.6,557.4 914.5,557.5 907.4,557.4 900.4,557.0 893.5,556.3 886.7,555.4 880.1,554.2 873.6,552.8 867.5,551.2 861.6,549.3 856.0,547.2 850.9,544.9 846.1,542.4 841.7,539.8 837.8,537.0 834.3,534.0 831.4,531.0 828.9,527.8 827.0,524.5 825.6,521.2 824.8,517.9 824.5,514.5" fill="none" stroke="#fbfbfb" stroke-width="1.5"/><polyline points="1004.5,537.0 1004.2,540.4 1003.4,543.7 1002.0,547.0 1000.1,550.3 997.6,553.5 994.7,556.5 991.2,559.5 987.3,562.3 982.9,564.9 978.1,567.4 973.0,569.7 967.4,571.8 961.5,573.7 955.4,575.3 948.9,576.7 942.3,577.9 935.5,578.8 928.6,579.5 921.6,579.9 914.5,580.0 907.4,579.9 900.4,579.5 893.5,578.8 886.7,577.9 880.1,576.7 873.6,575.3 867.5,573.7 861.6,571.8 856.0,569.7 850.9,567.4 846.1,564.9 841.7,562.3 837.8,559.5 834.3,556.5 831.4,553.5 828.9,550.3 827.0,547.0 825.6,543.7 824.8,540.4 824.5,537.0" fill="none" stroke="#fbfbfb" stroke-width="1.5"/><path d="M960.4 554.9 L956.7 555.9 L956.7 571.6 L960.4 570.6ZM952.9 556.8 L949.0 557.6 L949.0 573.3 L952.9 572.5ZM945.1 558.3 L941.0 559.0 L941.0 574.7 L945.1 574.0ZM937.0 559.5 L932.8 560.0 L932.8 575.7 L937.0 575.2ZM928.7 560.4 L924.5 560.6 L924.5 576.3 L928.7 576.1ZM920.2 560.8 L916.0 560.9 L916.0 576.6 L920.2 576.5ZM911.8 560.9 L907.5 560.8 L907.5 576.5 L911.8 576.6ZM903.3 560.6 L899.1 560.3 L899.1 576.0 L903.3 576.3ZM894.9 559.9 L890.8 559.4 L890.8 575.1 L894.9 575.6ZM886.8 558.8 L882.8 558.1 L882.8 573.8 L886.8 574.5ZM878.8 557.4 L875.0 556.5 L875.0 572.2 L878.8 573.1ZM871.2 555.6 L867.5 554.6 L867.5 570.3 L871.2 571.3ZM864.0 553.5 L860.5 552.3 L860.5 568.0 L864.0 569.2ZM857.2 551.1 L854.0 549.7 L854.0 565.4 L857.2 566.8ZM850.9 548.3 L848.0 546.9 L848.0 562.6 L850.9 564.0ZM845.2 545.3 L842.6 543.7 L842.6 559.4 L845.2 561.0ZM840.1 542.1 L837.8 540.4 L837.8 556.1 L840.1 557.8ZM835.7 538.6 L833.7 536.9 L833.7 552.6 L835.7 554.3ZM831.9 535.0 L830.3 533.1 L830.3 548.8 L831.9 550.7ZM828.9 531.2 L827.7 529.3 L827.7 545.0 L828.9 546.9Z" fill="#0e0e0e"/><polygon points="958.0,547.0 980.0,534.0 984.0,532.5 985.5,535.5 964.0,550.0" fill="#9a9a9a" /><polygon points="944.0,563.0 948.0,560.0 990.0,543.5 1002.0,548.0 1005.5,555.5 1000.0,565.0 960.0,585.5 955.0,586.0 944.0,576.0" fill="#c9c9c9" /><polygon points="950.0,560.0 990.5,544.0 998.5,548.5 960.0,567.0" fill="url(#g36)" /><polygon points="960.0,567.0 998.5,548.5 1004.5,556.0 1001.0,564.0 960.5,584.5" fill="url(#g37)" /><polygon points="944.0,563.0 950.0,560.0 960.0,567.0 960.5,584.5 955.0,586.0 944.0,576.0" fill="#dedede" /><ellipse cx="950.5" cy="572" rx="4" ry="5" fill="#f2f2f2"/><ellipse cx="950" cy="572.5" rx="1.8" ry="2.2" fill="#b0b0b0"/><g transform="translate(111.2 63.5) scale(0.88 1)"><polygon points="958.0,547.0 980.0,534.0 984.0,532.5 985.5,535.5 964.0,550.0" fill="#9a9a9a" /><polygon points="944.0,563.0 948.0,560.0 990.0,543.5 1002.0,548.0 1005.5,555.5 1000.0,565.0 960.0,585.5 955.0,586.0 944.0,576.0" fill="#c9c9c9" /><polygon points="950.0,560.0 990.5,544.0 998.5,548.5 960.0,567.0" fill="url(#g36)" /><polygon points="960.0,567.0 998.5,548.5 1004.5,556.0 1001.0,564.0 960.5,584.5" fill="url(#g37)" /><polygon points="944.0,563.0 950.0,560.0 960.0,567.0 960.5,584.5 955.0,586.0 944.0,576.0" fill="#dedede" /><ellipse cx="950.5" cy="572" rx="4" ry="5" fill="#f2f2f2"/><ellipse cx="950" cy="572.5" rx="1.8" ry="2.2" fill="#b0b0b0"/></g><polygon points="650.0,596.0 681.0,596.0 679.0,724.0 650.5,724.0" fill="url(#g38)" /><polygon points="644.0,604.5 667.5,608.0 667.0,622.0 631.0,624.0" fill="#b4b4b4" /><path d="M599 609.5 Q597 610 597.2 613 L600 697 Q600.5 700 603 699.5 L632 695 L632 621 L646 604.5 Z" fill="url(#g39)"/><path d="M598 610.5 L646 604.8" stroke="#b7b7b7" stroke-width="1.4" fill="none"/><rect x="619.2" y="619.0" width="10.5" height="27.0" rx="5.2" fill="#0a0a0a" transform="rotate(3 624.5 632.5)" /><path d="M629.5 624.5 L629 641.5 Q628 645.5 623.5 646.0" stroke="#c2c2c2" stroke-width="1.4" fill="none"/><rect x="619.2" y="659.0" width="10.5" height="27.0" rx="5.2" fill="#0a0a0a" transform="rotate(3 624.5 672.5)" /><path d="M629.5 664.5 L629 681.5 Q628 685.5 623.5 686.0" stroke="#c2c2c2" stroke-width="1.4" fill="none"/><path d="M631.5 622 L634 619.5 L667 608.5 L667 699 L638 716 L632.5 713 Z" fill="url(#g40)"/><path d="M632.8 622 L633.3 712" stroke="#bbbbbb" stroke-width="2" fill="none"/><rect x="631.0" y="619.5" width="6.0" height="4.0" rx="1.5" fill="#d4d4d4" /><rect x="650.0" y="627.5" width="7.0" height="27.0" rx="3.5" fill="#aaaaaa"  /><rect x="652.0" y="629.0" width="4.0" height="19.0" rx="2.0" fill="#959595"  /><ellipse cx="653" cy="651.5" rx="2.8" ry="3" fill="#d9d9d9"/><rect x="650.0" y="669.5" width="7.0" height="27.0" rx="3.5" fill="#aaaaaa"  /><rect x="652.0" y="671.0" width="4.0" height="19.0" rx="2.0" fill="#959595"  /><ellipse cx="653" cy="693.5" rx="2.8" ry="3" fill="#d9d9d9"/><g><g filter="url(#blur7)" opacity="0.3"><path d="M908.6 91.7 C910.5 96.4 915.1 112.3 919.9 119.6 C924.6 127.0 930.7 131.9 937.3 135.8 C943.9 139.8 951.4 142.2 959.7 143.3 C968.0 144.4 978.8 143.6 987.1 142.6 C995.5 141.5 1002.1 140.1 1009.6 137.1 C1017.1 134.1 1025.4 128.8 1032.0 124.6 C1038.7 120.5 1043.6 116.9 1049.5 112.2 C1055.3 107.4 1061.5 101.8 1066.9 96.0 C1072.3 90.1 1077.3 83.6 1081.9 77.3 C1086.4 70.9 1092.2 61.1 1094.3 57.8" stroke="#fff" stroke-width="16" fill="none" stroke-linecap="round"/><path d="M908.6 92.7 C909.3 98.0 910.4 116.3 912.9 124.6 C915.4 132.9 918.3 137.5 923.6 142.6 C928.9 147.6 936.3 152.1 944.8 155.0 C953.3 157.9 965.1 160.0 974.7 160.0 C984.2 160.0 993.8 157.9 1002.1 155.0 C1010.4 152.1 1016.6 147.6 1024.5 142.6 C1032.4 137.5 1042.0 130.9 1049.5 124.6 C1056.9 118.3 1063.6 111.5 1069.4 104.7 C1075.2 97.8 1079.8 91.0 1084.4 83.5 C1088.9 76.0 1094.7 63.8 1096.8 59.8" stroke="#fff" stroke-width="24" fill="none" stroke-linecap="round" transform="translate(0 5)"/><path d="M912.9 124.6 C914.7 127.6 918.3 137.5 923.6 142.6 C928.9 147.6 936.3 152.1 944.8 155.0 C953.3 157.9 965.1 160.0 974.7 160.0 C984.2 160.0 993.8 157.9 1002.1 155.0 C1010.4 152.1 1016.6 147.6 1024.5 142.6 C1032.4 137.5 1042.0 130.9 1049.5 124.6 C1056.9 118.3 1066.1 108.0 1069.4 104.7" stroke="#fff" stroke-width="22" fill="none" stroke-linecap="round" transform="translate(2 9)" opacity="0.5"/></g><path d="M908.6 91.7 C910.5 96.4 915.1 112.3 919.9 119.6 C924.6 127.0 930.7 131.9 937.3 135.8 C943.9 139.8 951.4 142.2 959.7 143.3 C968.0 144.4 978.8 143.6 987.1 142.6 C995.5 141.5 1002.1 140.1 1009.6 137.1 C1017.1 134.1 1025.4 128.8 1032.0 124.6 C1038.7 120.5 1043.6 116.9 1049.5 112.2 C1055.3 107.4 1061.5 101.8 1066.9 96.0 C1072.3 90.1 1077.3 83.6 1081.9 77.3 C1086.4 70.9 1090.3 64.3 1094.3 57.8 C1098.4 51.4 1104.3 41.8 1106.3 38.6" stroke="#fff" stroke-width="1.3" fill="none"/><path d="M908.6 92.7 C909.3 98.0 910.4 116.3 912.9 124.6 C915.4 132.9 918.3 137.5 923.6 142.6 C928.9 147.6 936.3 152.1 944.8 155.0 C953.3 157.9 965.1 160.0 974.7 160.0 C984.2 160.0 993.8 157.9 1002.1 155.0 C1010.4 152.1 1016.6 147.6 1024.5 142.6 C1032.4 137.5 1042.0 130.9 1049.5 124.6 C1056.9 118.3 1063.6 111.5 1069.4 104.7 C1075.2 97.8 1079.8 91.0 1084.4 83.5 C1088.9 76.0 1093.2 67.3 1096.8 59.8 C1100.5 52.3 1104.7 42.2 1106.3 38.6" stroke="#fff" stroke-width="1.3" fill="none"/><g fill="#fff"><circle cx="921.8" cy="115.2" r="1.9"/><circle cx="936.3" cy="128.2" r="1.9"/><circle cx="953.2" cy="136.5" r="2.1"/><circle cx="972.6" cy="140.7" r="2.2"/><circle cx="993.2" cy="138.9" r="2.1"/><circle cx="1012.7" cy="132.7" r="1.9"/><circle cx="1030.1" cy="121.2" r="2.4"/><circle cx="1047.9" cy="110.1" r="2.0"/><circle cx="1062.0" cy="94.0" r="2.5"/><circle cx="1075.2" cy="78.3" r="2.1"/><circle cx="1085.3" cy="60.1" r="1.8"/><circle cx="906.2" cy="119.0" r="2.0"/><circle cx="918.4" cy="139.1" r="1.9"/><circle cx="935.7" cy="153.6" r="2.4"/><circle cx="957.3" cy="160.0" r="2.2"/><circle cx="980.1" cy="164.0" r="2.1"/><circle cx="1001.4" cy="159.7" r="1.8"/><circle cx="1020.9" cy="147.2" r="1.9"/><circle cx="1040.7" cy="137.2" r="2.1"/><circle cx="1057.0" cy="121.9" r="2.2"/><circle cx="1073.2" cy="106.3" r="2.0"/><circle cx="1087.0" cy="89.5" r="2.3"/><circle cx="1095.6" cy="68.7" r="2.2"/><circle cx="926.2" cy="131.5" r="2.4"/><circle cx="955.3" cy="147.4" r="2.0"/><circle cx="990.1" cy="148.4" r="1.9"/><circle cx="1020.5" cy="135.5" r="2.3"/><circle cx="1047.0" cy="117.2" r="2.1"/><circle cx="1070.5" cy="94.9" r="2.3"/><circle cx="1092.4" cy="71.0" r="2.2"/><circle cx="932.2" cy="140.7" r="2.0"/><circle cx="975.1" cy="154.9" r="2.2"/><circle cx="1017.1" cy="141.4" r="2.1"/><circle cx="1053.4" cy="112.5" r="2.5"/><circle cx="1083.1" cy="77.0" r="2.3"/></g><clipPath id="loopclip"><path d="M907.5 62.5 Q935 47 962 38.6 Q972 35.5 981 38.5 Q993 43 993.5 54 Q992 66 992.5 76 Q996 92 1003.5 101 Q990 94 964 91.5 Q935 88 907.5 91 Z"/></clipPath><path d="M907.5 62.5 Q935 47 962 38.6 Q972 35.5 981 38.5 Q993 43 993.5 54 Q992 66 992.5 76 Q996 92 1003.5 101 Q990 94 964 91.5 Q935 88 907.5 91 Z" fill="#2a1c06"/><g clip-path="url(#loopclip)"><g filter="url(#blur05)"><ellipse cx="911.9" cy="82.3" rx="1.8" ry="1.4" fill="#ffcf50"/><ellipse cx="943.8" cy="80.1" rx="0.9" ry="0.8" fill="#ffcf50"/><ellipse cx="965.9" cy="68.6" rx="1.2" ry="0.8" fill="#fff3c4"/><ellipse cx="930.3" cy="61.8" rx="2.1" ry="1.5" fill="#f2c040"/><ellipse cx="945.4" cy="54.3" rx="1.1" ry="1.2" fill="#d9a020"/><ellipse cx="933.3" cy="63.4" rx="1.4" ry="1.6" fill="#d9a020"/><ellipse cx="920.8" cy="47.6" rx="1.2" ry="0.7" fill="#e0b030"/><ellipse cx="987.4" cy="48.0" rx="1.3" ry="1.1" fill="#ffe9a0"/><ellipse cx="942.2" cy="73.4" rx="2.2" ry="2.0" fill="#ffd75a"/><ellipse cx="991.4" cy="98.8" rx="1.9" ry="1.6" fill="#d9a020"/><ellipse cx="944.6" cy="67.8" rx="1.5" ry="0.9" fill="#e0b030"/><ellipse cx="926.5" cy="46.7" rx="1.4" ry="0.9" fill="#ffd75a"/><ellipse cx="961.5" cy="71.4" rx="2.2" ry="1.4" fill="#ffd75a"/><ellipse cx="926.4" cy="60.8" rx="1.8" ry="1.7" fill="#ffe080"/><ellipse cx="952.5" cy="43.6" rx="1.6" ry="1.4" fill="#ffcf50"/><ellipse cx="936.6" cy="45.5" rx="1.9" ry="1.7" fill="#fff3c4"/><ellipse cx="973.8" cy="70.1" rx="1.2" ry="0.8" fill="#ffe080"/><ellipse cx="959.2" cy="37.8" rx="1.6" ry="1.7" fill="#f2c040"/><ellipse cx="931.6" cy="60.2" rx="1.1" ry="1.0" fill="#e0b030"/><ellipse cx="982.3" cy="57.8" rx="1.2" ry="1.3" fill="#e0b030"/><ellipse cx="986.2" cy="84.8" rx="1.2" ry="1.0" fill="#ffcf50"/><ellipse cx="908.8" cy="37.8" rx="1.3" ry="0.9" fill="#fff3c4"/><ellipse cx="965.3" cy="58.7" rx="2.0" ry="2.4" fill="#ffe080"/><ellipse cx="941.7" cy="50.6" rx="1.2" ry="1.0" fill="#e0b030"/><ellipse cx="953.3" cy="101.0" rx="1.8" ry="1.6" fill="#ffd75a"/><ellipse cx="970.0" cy="88.8" rx="1.0" ry="1.2" fill="#f2c040"/><ellipse cx="982.7" cy="85.5" rx="1.6" ry="1.4" fill="#ffe9a0"/><ellipse cx="968.3" cy="41.7" rx="2.2" ry="2.0" fill="#d9a020"/><ellipse cx="978.8" cy="41.6" rx="1.1" ry="0.7" fill="#ffe9a0"/><ellipse cx="963.9" cy="66.7" rx="1.8" ry="1.8" fill="#ffcf50"/><ellipse cx="940.3" cy="72.2" rx="1.1" ry="1.2" fill="#ffd75a"/><ellipse cx="977.2" cy="42.8" rx="1.9" ry="1.7" fill="#ffe9a0"/><ellipse cx="991.4" cy="90.5" rx="1.2" ry="0.9" fill="#fff3c4"/><ellipse cx="955.1" cy="86.4" rx="1.4" ry="1.5" fill="#d9a020"/><ellipse cx="912.0" cy="84.8" rx="2.2" ry="2.4" fill="#d9a020"/><ellipse cx="992.1" cy="44.6" rx="1.1" ry="1.3" fill="#ffd75a"/><ellipse cx="982.1" cy="76.2" rx="2.0" ry="1.4" fill="#ffe9a0"/><ellipse cx="952.4" cy="83.9" rx="1.7" ry="1.7" fill="#ffe080"/><ellipse cx="958.0" cy="67.8" rx="2.0" ry="1.5" fill="#ffd75a"/><ellipse cx="933.1" cy="87.0" rx="1.6" ry="1.7" fill="#ffd75a"/><ellipse cx="995.4" cy="65.3" rx="1.8" ry="1.8" fill="#e0b030"/><ellipse cx="950.3" cy="71.2" rx="1.6" ry="1.6" fill="#e0b030"/><ellipse cx="991.9" cy="98.2" rx="1.3" ry="1.4" fill="#e0b030"/><ellipse cx="919.4" cy="44.0" rx="1.5" ry="1.5" fill="#f2c040"/><ellipse cx="948.0" cy="50.0" rx="1.3" ry="1.5" fill="#f2c040"/><ellipse cx="921.1" cy="83.3" rx="1.8" ry="1.4" fill="#ffe9a0"/><ellipse cx="919.5" cy="66.9" rx="1.9" ry="1.6" fill="#f2c040"/><ellipse cx="953.8" cy="101.3" rx="2.1" ry="2.1" fill="#ffe9a0"/><ellipse cx="1003.4" cy="62.7" rx="1.5" ry="1.2" fill="#ffe080"/><ellipse cx="976.8" cy="37.3" rx="1.7" ry="1.7" fill="#ffcf50"/><ellipse cx="943.7" cy="70.2" rx="1.3" ry="0.9" fill="#f2c040"/><ellipse cx="996.0" cy="51.1" rx="2.1" ry="1.6" fill="#f2c040"/><ellipse cx="909.9" cy="87.4" rx="1.3" ry="1.4" fill="#ffe9a0"/><ellipse cx="989.3" cy="80.6" rx="2.2" ry="1.5" fill="#d9a020"/><ellipse cx="996.1" cy="73.7" rx="1.9" ry="1.4" fill="#f2c040"/><ellipse cx="984.4" cy="48.1" rx="2.2" ry="2.5" fill="#fff3c4"/><ellipse cx="968.2" cy="88.9" rx="1.0" ry="0.7" fill="#e0b030"/><ellipse cx="990.6" cy="65.9" rx="1.4" ry="1.6" fill="#d9a020"/><ellipse cx="932.3" cy="44.5" rx="1.6" ry="1.9" fill="#e0b030"/><ellipse cx="1001.0" cy="53.3" rx="1.2" ry="1.1" fill="#fff3c4"/><ellipse cx="958.0" cy="49.6" rx="1.5" ry="1.2" fill="#ffe9a0"/><ellipse cx="984.8" cy="101.6" rx="1.0" ry="1.0" fill="#ffd75a"/><ellipse cx="960.0" cy="48.5" rx="1.6" ry="1.0" fill="#ffcf50"/><ellipse cx="986.3" cy="64.5" rx="1.6" ry="1.9" fill="#d9a020"/><ellipse cx="936.2" cy="50.2" rx="1.2" ry="1.3" fill="#e0b030"/><ellipse cx="975.3" cy="78.0" rx="1.5" ry="1.7" fill="#ffe080"/><ellipse cx="988.0" cy="36.9" rx="1.8" ry="1.5" fill="#fff3c4"/><ellipse cx="911.4" cy="79.9" rx="1.4" ry="1.4" fill="#fff3c4"/><ellipse cx="973.9" cy="39.0" rx="1.2" ry="1.0" fill="#fff3c4"/><ellipse cx="931.8" cy="99.5" rx="2.3" ry="1.7" fill="#ffe080"/><ellipse cx="1000.6" cy="56.4" rx="1.4" ry="1.1" fill="#ffd75a"/><ellipse cx="914.2" cy="54.4" rx="1.8" ry="1.6" fill="#e0b030"/><ellipse cx="906.5" cy="53.4" rx="1.0" ry="1.0" fill="#d9a020"/><ellipse cx="944.6" cy="55.8" rx="1.8" ry="1.7" fill="#f2c040"/><ellipse cx="957.9" cy="85.5" rx="1.8" ry="1.9" fill="#d9a020"/><ellipse cx="976.6" cy="68.6" rx="1.3" ry="0.8" fill="#ffe9a0"/><ellipse cx="987.9" cy="94.9" rx="1.8" ry="2.0" fill="#ffe9a0"/><ellipse cx="979.8" cy="73.5" rx="2.0" ry="2.2" fill="#ffd75a"/><ellipse cx="963.2" cy="94.9" rx="1.9" ry="1.2" fill="#e0b030"/><ellipse cx="910.1" cy="78.0" rx="2.2" ry="2.5" fill="#d9a020"/><ellipse cx="960.7" cy="77.4" rx="1.8" ry="1.6" fill="#e0b030"/><ellipse cx="906.3" cy="88.6" rx="1.9" ry="1.9" fill="#f2c040"/><ellipse cx="912.5" cy="84.6" rx="1.3" ry="1.4" fill="#f2c040"/><ellipse cx="929.0" cy="85.9" rx="1.2" ry="1.1" fill="#ffcf50"/><ellipse cx="943.5" cy="67.6" rx="1.9" ry="1.8" fill="#ffd75a"/><ellipse cx="969.0" cy="41.1" rx="1.1" ry="1.1" fill="#fff3c4"/><ellipse cx="973.9" cy="77.0" rx="1.1" ry="0.7" fill="#ffcf50"/><ellipse cx="932.3" cy="80.4" rx="1.9" ry="1.4" fill="#ffcf50"/><ellipse cx="956.6" cy="66.7" rx="1.6" ry="1.9" fill="#f2c040"/><ellipse cx="959.8" cy="56.6" rx="1.0" ry="0.6" fill="#ffcf50"/><ellipse cx="951.0" cy="90.1" rx="2.3" ry="2.7" fill="#ffcf50"/><ellipse cx="943.9" cy="96.5" rx="2.2" ry="2.1" fill="#f2c040"/><ellipse cx="919.9" cy="70.6" rx="2.2" ry="2.1" fill="#ffe9a0"/><ellipse cx="967.9" cy="54.5" rx="1.1" ry="0.8" fill="#ffe080"/><ellipse cx="994.0" cy="68.1" rx="0.9" ry="1.1" fill="#ffd75a"/><ellipse cx="972.8" cy="62.8" rx="1.9" ry="1.5" fill="#d9a020"/><ellipse cx="937.0" cy="91.5" rx="0.9" ry="1.0" fill="#ffe080"/><ellipse cx="917.8" cy="97.1" rx="1.9" ry="1.4" fill="#fff3c4"/><ellipse cx="912.4" cy="61.8" rx="2.1" ry="1.7" fill="#f2c040"/><ellipse cx="947.9" cy="54.2" rx="1.0" ry="0.6" fill="#f2c040"/><ellipse cx="970.9" cy="77.9" rx="1.1" ry="1.0" fill="#fff3c4"/><ellipse cx="936.9" cy="87.0" rx="2.0" ry="2.3" fill="#d9a020"/><ellipse cx="985.6" cy="77.6" rx="2.2" ry="2.2" fill="#e0b030"/><ellipse cx="910.8" cy="84.3" rx="1.5" ry="1.5" fill="#ffe9a0"/><ellipse cx="934.0" cy="39.2" rx="2.2" ry="1.5" fill="#ffe9a0"/><ellipse cx="946.7" cy="54.6" rx="1.3" ry="1.1" fill="#fff3c4"/><ellipse cx="929.4" cy="67.9" rx="1.8" ry="1.3" fill="#f2c040"/><ellipse cx="921.8" cy="49.7" rx="2.2" ry="2.0" fill="#ffcf50"/><ellipse cx="950.4" cy="58.0" rx="2.0" ry="1.3" fill="#d9a020"/><ellipse cx="924.9" cy="42.0" rx="1.4" ry="1.1" fill="#f2c040"/><ellipse cx="942.1" cy="89.4" rx="1.2" ry="1.2" fill="#ffd75a"/><ellipse cx="946.5" cy="63.3" rx="1.6" ry="1.2" fill="#d9a020"/><ellipse cx="979.7" cy="68.9" rx="1.7" ry="1.2" fill="#ffe080"/><ellipse cx="955.3" cy="77.6" rx="2.1" ry="1.4" fill="#e0b030"/><ellipse cx="993.9" cy="61.4" rx="1.8" ry="2.1" fill="#d9a020"/><ellipse cx="989.2" cy="93.6" rx="0.9" ry="0.8" fill="#ffd75a"/><ellipse cx="980.8" cy="89.1" rx="2.3" ry="1.4" fill="#ffcf50"/><ellipse cx="944.4" cy="97.2" rx="2.1" ry="2.4" fill="#ffcf50"/><ellipse cx="930.3" cy="43.2" rx="1.1" ry="1.3" fill="#f2c040"/><ellipse cx="976.7" cy="78.7" rx="2.0" ry="1.3" fill="#ffcf50"/><ellipse cx="982.1" cy="36.1" rx="1.1" ry="1.1" fill="#ffd75a"/><ellipse cx="935.8" cy="44.4" rx="1.3" ry="1.3" fill="#d9a020"/><ellipse cx="917.0" cy="40.6" rx="1.6" ry="1.4" fill="#e0b030"/><ellipse cx="927.9" cy="75.7" rx="0.9" ry="1.1" fill="#fff3c4"/><ellipse cx="933.3" cy="56.9" rx="2.1" ry="1.8" fill="#e0b030"/><ellipse cx="929.0" cy="52.3" rx="2.2" ry="1.4" fill="#fff3c4"/><ellipse cx="925.0" cy="94.4" rx="1.8" ry="1.4" fill="#f2c040"/><ellipse cx="971.4" cy="97.1" rx="1.2" ry="1.2" fill="#ffd75a"/><ellipse cx="976.4" cy="59.9" rx="1.5" ry="1.6" fill="#ffd75a"/><ellipse cx="978.4" cy="69.3" rx="1.2" ry="0.9" fill="#e0b030"/><ellipse cx="986.4" cy="51.2" rx="1.2" ry="0.8" fill="#fff3c4"/><ellipse cx="967.1" cy="76.3" rx="2.2" ry="1.8" fill="#ffcf50"/><ellipse cx="971.2" cy="98.6" rx="1.1" ry="0.7" fill="#d9a020"/><ellipse cx="908.3" cy="75.3" rx="1.5" ry="1.1" fill="#ffd75a"/><ellipse cx="950.1" cy="83.0" rx="1.3" ry="1.6" fill="#f2c040"/><ellipse cx="997.3" cy="57.7" rx="1.2" ry="0.7" fill="#ffcf50"/><ellipse cx="971.1" cy="61.0" rx="1.4" ry="1.2" fill="#ffe080"/><ellipse cx="916.7" cy="41.2" rx="1.0" ry="1.2" fill="#d9a020"/><ellipse cx="918.1" cy="99.6" rx="1.2" ry="1.3" fill="#ffe080"/><ellipse cx="936.3" cy="89.1" rx="1.0" ry="0.7" fill="#ffcf50"/><ellipse cx="959.1" cy="65.5" rx="1.4" ry="0.8" fill="#ffcf50"/><ellipse cx="946.3" cy="89.6" rx="2.0" ry="1.6" fill="#ffd75a"/><ellipse cx="951.5" cy="89.0" rx="1.0" ry="1.0" fill="#e0b030"/><ellipse cx="994.1" cy="58.4" rx="1.3" ry="1.0" fill="#ffd75a"/><ellipse cx="976.2" cy="56.9" rx="1.3" ry="1.3" fill="#ffd75a"/><ellipse cx="964.4" cy="89.2" rx="2.2" ry="1.4" fill="#f2c040"/><ellipse cx="928.9" cy="67.4" rx="2.2" ry="2.4" fill="#d9a020"/><ellipse cx="995.5" cy="89.8" rx="1.1" ry="0.8" fill="#ffcf50"/><ellipse cx="984.7" cy="84.7" rx="2.1" ry="2.0" fill="#ffe9a0"/><ellipse cx="938.1" cy="57.1" rx="1.4" ry="1.3" fill="#f2c040"/><ellipse cx="944.4" cy="46.6" rx="1.5" ry="1.3" fill="#ffd75a"/><ellipse cx="959.4" cy="46.6" rx="1.5" ry="1.8" fill="#f2c040"/><ellipse cx="932.0" cy="41.5" rx="1.0" ry="1.2" fill="#ffcf50"/><ellipse cx="1001.3" cy="47.4" rx="1.1" ry="1.1" fill="#ffcf50"/><ellipse cx="972.1" cy="85.4" rx="2.1" ry="2.2" fill="#f2c040"/><ellipse cx="934.8" cy="54.4" rx="1.3" ry="1.3" fill="#fff3c4"/><ellipse cx="925.5" cy="52.3" rx="1.2" ry="1.0" fill="#ffe9a0"/><ellipse cx="994.9" cy="48.4" rx="1.0" ry="1.2" fill="#fff3c4"/><ellipse cx="955.7" cy="51.3" rx="2.0" ry="2.4" fill="#ffcf50"/><ellipse cx="916.0" cy="67.3" rx="2.0" ry="2.4" fill="#ffcf50"/><ellipse cx="910.0" cy="55.4" rx="1.1" ry="1.0" fill="#e0b030"/><ellipse cx="987.1" cy="48.8" rx="1.0" ry="0.9" fill="#ffe9a0"/><ellipse cx="931.5" cy="87.3" rx="2.2" ry="2.2" fill="#f2c040"/><ellipse cx="975.6" cy="59.1" rx="1.0" ry="0.7" fill="#ffe080"/><ellipse cx="926.0" cy="52.8" rx="1.7" ry="1.9" fill="#e0b030"/><ellipse cx="986.2" cy="63.0" rx="1.4" ry="0.9" fill="#fff3c4"/><ellipse cx="909.1" cy="68.7" rx="1.6" ry="1.0" fill="#d9a020"/><ellipse cx="944.7" cy="72.3" rx="1.8" ry="1.8" fill="#f2c040"/><ellipse cx="945.0" cy="53.9" rx="2.3" ry="1.9" fill="#fff3c4"/><ellipse cx="911.0" cy="85.2" rx="2.1" ry="1.8" fill="#d9a020"/><ellipse cx="990.7" cy="101.8" rx="1.4" ry="1.2" fill="#e0b030"/><ellipse cx="945.7" cy="98.2" rx="1.5" ry="1.3" fill="#ffe9a0"/><ellipse cx="986.4" cy="62.8" rx="2.1" ry="2.3" fill="#ffcf50"/><ellipse cx="918.7" cy="39.4" rx="1.1" ry="0.7" fill="#d9a020"/><ellipse cx="967.0" cy="60.5" rx="1.6" ry="1.3" fill="#ffe9a0"/><ellipse cx="921.9" cy="47.3" rx="1.0" ry="0.9" fill="#d9a020"/><ellipse cx="984.9" cy="99.8" rx="1.2" ry="1.3" fill="#ffe9a0"/><ellipse cx="910.3" cy="96.2" rx="1.3" ry="0.9" fill="#d9a020"/><ellipse cx="975.8" cy="81.4" rx="2.1" ry="2.1" fill="#e0b030"/><ellipse cx="966.2" cy="48.9" rx="1.6" ry="1.0" fill="#e0b030"/><ellipse cx="998.0" cy="46.3" rx="1.4" ry="1.0" fill="#ffe9a0"/><ellipse cx="977.0" cy="95.2" rx="1.0" ry="1.0" fill="#ffd75a"/><ellipse cx="937.8" cy="61.7" rx="1.5" ry="1.5" fill="#fff3c4"/><ellipse cx="936.2" cy="52.5" rx="1.4" ry="1.3" fill="#ffe080"/><ellipse cx="949.0" cy="37.5" rx="1.8" ry="1.6" fill="#ffcf50"/><ellipse cx="949.8" cy="76.8" rx="2.0" ry="2.2" fill="#ffe9a0"/><ellipse cx="945.2" cy="40.4" rx="1.4" ry="0.9" fill="#ffe080"/><ellipse cx="949.3" cy="69.7" rx="1.0" ry="0.6" fill="#ffe9a0"/><ellipse cx="977.9" cy="87.3" rx="1.6" ry="1.7" fill="#ffd75a"/><ellipse cx="993.7" cy="79.1" rx="2.0" ry="2.2" fill="#ffd75a"/><ellipse cx="1003.6" cy="84.3" rx="2.0" ry="1.4" fill="#e0b030"/><ellipse cx="992.8" cy="55.0" rx="2.0" ry="2.1" fill="#ffe9a0"/><ellipse cx="976.7" cy="50.6" rx="2.1" ry="1.4" fill="#fff3c4"/><ellipse cx="993.9" cy="54.1" rx="2.0" ry="1.5" fill="#ffe9a0"/><ellipse cx="1000.5" cy="67.7" rx="1.7" ry="1.4" fill="#e0b030"/><ellipse cx="909.6" cy="48.0" rx="1.1" ry="1.1" fill="#fff3c4"/><ellipse cx="993.8" cy="47.1" rx="2.0" ry="2.1" fill="#f2c040"/><ellipse cx="910.8" cy="92.6" rx="2.3" ry="2.1" fill="#ffcf50"/><ellipse cx="962.8" cy="94.2" rx="1.0" ry="1.1" fill="#d9a020"/><ellipse cx="942.4" cy="60.8" rx="1.4" ry="1.2" fill="#ffe9a0"/><ellipse cx="980.9" cy="65.2" rx="1.1" ry="0.9" fill="#ffd75a"/><ellipse cx="956.6" cy="56.5" rx="2.3" ry="2.3" fill="#ffe080"/><ellipse cx="979.2" cy="50.6" rx="1.3" ry="1.1" fill="#d9a020"/><ellipse cx="941.7" cy="39.2" rx="1.6" ry="1.0" fill="#ffd75a"/><ellipse cx="906.3" cy="59.4" rx="1.0" ry="1.0" fill="#ffe080"/><ellipse cx="946.5" cy="55.9" rx="1.1" ry="1.1" fill="#ffe080"/><ellipse cx="952.5" cy="44.9" rx="2.2" ry="2.3" fill="#e0b030"/><ellipse cx="950.2" cy="40.2" rx="1.1" ry="0.9" fill="#fff3c4"/><ellipse cx="931.9" cy="36.8" rx="1.8" ry="1.7" fill="#ffe080"/><ellipse cx="962.7" cy="75.7" rx="1.6" ry="1.2" fill="#ffcf50"/><ellipse cx="994.5" cy="38.9" rx="1.6" ry="1.2" fill="#d9a020"/><ellipse cx="921.6" cy="96.2" rx="1.0" ry="0.7" fill="#e0b030"/><ellipse cx="925.6" cy="76.1" rx="1.6" ry="1.8" fill="#d9a020"/><ellipse cx="923.1" cy="56.4" rx="1.3" ry="1.6" fill="#ffd75a"/><ellipse cx="977.0" cy="67.5" rx="1.7" ry="1.8" fill="#d9a020"/><ellipse cx="979.0" cy="66.7" rx="1.9" ry="1.4" fill="#ffcf50"/><ellipse cx="1003.7" cy="53.3" rx="1.8" ry="1.4" fill="#f2c040"/><ellipse cx="979.5" cy="81.9" rx="2.1" ry="1.6" fill="#ffd75a"/><ellipse cx="960.3" cy="64.8" rx="2.0" ry="1.6" fill="#fff3c4"/><ellipse cx="997.0" cy="95.0" rx="1.0" ry="0.7" fill="#ffd75a"/><ellipse cx="994.7" cy="91.6" rx="1.2" ry="1.2" fill="#ffe9a0"/><ellipse cx="938.0" cy="94.1" rx="1.4" ry="1.1" fill="#e0b030"/><ellipse cx="989.5" cy="96.8" rx="2.3" ry="2.0" fill="#ffcf50"/><ellipse cx="958.0" cy="36.4" rx="0.9" ry="0.9" fill="#e0b030"/><ellipse cx="936.2" cy="50.0" rx="1.8" ry="1.7" fill="#f2c040"/><ellipse cx="922.8" cy="38.2" rx="1.1" ry="0.9" fill="#ffe9a0"/><ellipse cx="919.9" cy="37.9" rx="1.0" ry="1.0" fill="#ffd75a"/><ellipse cx="978.2" cy="40.3" rx="1.7" ry="1.2" fill="#ffe080"/><ellipse cx="999.5" cy="71.2" rx="1.8" ry="1.2" fill="#d9a020"/><ellipse cx="926.2" cy="43.4" rx="0.9" ry="1.0" fill="#f2c040"/></g></g><path d="M907.5 62.5 Q935 47 962 38.6 Q972 35.5 981 38.5 Q993 43 993.5 54 Q992 66 992.5 76 Q996 92 1003.5 101 Q990 94 964 91.5 Q935 88 907.5 91 Z" fill="none" stroke="#d9a632" stroke-width="4.6" stroke-linejoin="round" opacity="0.85" filter="url(#blur05)"/><path d="M907.5 62.5 Q935 47 962 38.6 Q972 35.5 981 38.5 Q993 43 993.5 54 Q992 66 992.5 76 Q996 92 1003.5 101 Q990 94 964 91.5 Q935 88 907.5 91 Z" fill="none" stroke="#fff0b4" stroke-width="2.6" stroke-dasharray="0.1 3.3" stroke-linecap="round"/><path d="M907.5 91.5 Q935 96 956 107 Q975 117 992 117.5 Q1003 116 1004 104 Q990 95 964 92" fill="none" stroke="#fffbe8" stroke-width="3" stroke-dasharray="2.6 1.1" /><path d="M952 48 L962 48 M957 43 L957 53" stroke="#fff" stroke-width="0.8" opacity="0.9"/><circle cx="957" cy="48" r="1.3" fill="#fff"/><path d="M989 111 L1001 111 M995 105 L995 117" stroke="#fff" stroke-width="0.8" opacity="0.9"/><circle cx="995" cy="111" r="1.3" fill="#fff"/><path d="M922 105 L930 105 M926 101 L926 109" stroke="#fff" stroke-width="0.8" opacity="0.9"/><circle cx="926" cy="105" r="1.3" fill="#fff"/><path d="M977 118 L987 118 M982 113 L982 123" stroke="#fff" stroke-width="0.8" opacity="0.9"/><circle cx="982" cy="118" r="1.3" fill="#fff"/></g><g transform="translate(1769.4 0) scale(-1 1)"><g filter="url(#blur7)" opacity="0.3"><path d="M908.6 91.7 C910.5 96.4 915.1 112.3 919.9 119.6 C924.6 127.0 930.7 131.9 937.3 135.8 C943.9 139.8 951.4 142.2 959.7 143.3 C968.0 144.4 978.8 143.6 987.1 142.6 C995.5 141.5 1002.1 140.1 1009.6 137.1 C1017.1 134.1 1025.4 128.8 1032.0 124.6 C1038.7 120.5 1043.6 116.9 1049.5 112.2 C1055.3 107.4 1061.5 101.8 1066.9 96.0 C1072.3 90.1 1077.3 83.6 1081.9 77.3 C1086.4 70.9 1092.2 61.1 1094.3 57.8" stroke="#fff" stroke-width="16" fill="none" stroke-linecap="round"/><path d="M908.6 92.7 C909.3 98.0 910.4 116.3 912.9 124.6 C915.4 132.9 918.3 137.5 923.6 142.6 C928.9 147.6 936.3 152.1 944.8 155.0 C953.3 157.9 965.1 160.0 974.7 160.0 C984.2 160.0 993.8 157.9 1002.1 155.0 C1010.4 152.1 1016.6 147.6 1024.5 142.6 C1032.4 137.5 1042.0 130.9 1049.5 124.6 C1056.9 118.3 1063.6 111.5 1069.4 104.7 C1075.2 97.8 1079.8 91.0 1084.4 83.5 C1088.9 76.0 1094.7 63.8 1096.8 59.8" stroke="#fff" stroke-width="24" fill="none" stroke-linecap="round" transform="translate(0 5)"/><path d="M912.9 124.6 C914.7 127.6 918.3 137.5 923.6 142.6 C928.9 147.6 936.3 152.1 944.8 155.0 C953.3 157.9 965.1 160.0 974.7 160.0 C984.2 160.0 993.8 157.9 1002.1 155.0 C1010.4 152.1 1016.6 147.6 1024.5 142.6 C1032.4 137.5 1042.0 130.9 1049.5 124.6 C1056.9 118.3 1066.1 108.0 1069.4 104.7" stroke="#fff" stroke-width="22" fill="none" stroke-linecap="round" transform="translate(2 9)" opacity="0.5"/></g><path d="M908.6 91.7 C910.5 96.4 915.1 112.3 919.9 119.6 C924.6 127.0 930.7 131.9 937.3 135.8 C943.9 139.8 951.4 142.2 959.7 143.3 C968.0 144.4 978.8 143.6 987.1 142.6 C995.5 141.5 1002.1 140.1 1009.6 137.1 C1017.1 134.1 1025.4 128.8 1032.0 124.6 C1038.7 120.5 1043.6 116.9 1049.5 112.2 C1055.3 107.4 1061.5 101.8 1066.9 96.0 C1072.3 90.1 1077.3 83.6 1081.9 77.3 C1086.4 70.9 1090.3 64.3 1094.3 57.8 C1098.4 51.4 1104.3 41.8 1106.3 38.6" stroke="#fff" stroke-width="1.3" fill="none"/><path d="M908.6 92.7 C909.3 98.0 910.4 116.3 912.9 124.6 C915.4 132.9 918.3 137.5 923.6 142.6 C928.9 147.6 936.3 152.1 944.8 155.0 C953.3 157.9 965.1 160.0 974.7 160.0 C984.2 160.0 993.8 157.9 1002.1 155.0 C1010.4 152.1 1016.6 147.6 1024.5 142.6 C1032.4 137.5 1042.0 130.9 1049.5 124.6 C1056.9 118.3 1063.6 111.5 1069.4 104.7 C1075.2 97.8 1079.8 91.0 1084.4 83.5 C1088.9 76.0 1093.2 67.3 1096.8 59.8 C1100.5 52.3 1104.7 42.2 1106.3 38.6" stroke="#fff" stroke-width="1.3" fill="none"/><g fill="#fff"><circle cx="921.8" cy="115.2" r="1.9"/><circle cx="936.3" cy="128.2" r="1.9"/><circle cx="953.2" cy="136.5" r="2.1"/><circle cx="972.6" cy="140.7" r="2.2"/><circle cx="993.2" cy="138.9" r="2.1"/><circle cx="1012.7" cy="132.7" r="1.9"/><circle cx="1030.1" cy="121.2" r="2.4"/><circle cx="1047.9" cy="110.1" r="2.0"/><circle cx="1062.0" cy="94.0" r="2.5"/><circle cx="1075.2" cy="78.3" r="2.1"/><circle cx="1085.3" cy="60.1" r="1.8"/><circle cx="906.2" cy="119.0" r="2.0"/><circle cx="918.4" cy="139.1" r="1.9"/><circle cx="935.7" cy="153.6" r="2.4"/><circle cx="957.3" cy="160.0" r="2.2"/><circle cx="980.1" cy="164.0" r="2.1"/><circle cx="1001.4" cy="159.7" r="1.8"/><circle cx="1020.9" cy="147.2" r="1.9"/><circle cx="1040.7" cy="137.2" r="2.1"/><circle cx="1057.0" cy="121.9" r="2.2"/><circle cx="1073.2" cy="106.3" r="2.0"/><circle cx="1087.0" cy="89.5" r="2.3"/><circle cx="1095.6" cy="68.7" r="2.2"/><circle cx="926.2" cy="131.5" r="2.4"/><circle cx="955.3" cy="147.4" r="2.0"/><circle cx="990.1" cy="148.4" r="1.9"/><circle cx="1020.5" cy="135.5" r="2.3"/><circle cx="1047.0" cy="117.2" r="2.1"/><circle cx="1070.5" cy="94.9" r="2.3"/><circle cx="1092.4" cy="71.0" r="2.2"/><circle cx="932.2" cy="140.7" r="2.0"/><circle cx="975.1" cy="154.9" r="2.2"/><circle cx="1017.1" cy="141.4" r="2.1"/><circle cx="1053.4" cy="112.5" r="2.5"/><circle cx="1083.1" cy="77.0" r="2.3"/></g><clipPath id="loopclip2"><path d="M907.5 62.5 Q935 47 962 38.6 Q972 35.5 981 38.5 Q993 43 993.5 54 Q992 66 992.5 76 Q996 92 1003.5 101 Q990 94 964 91.5 Q935 88 907.5 91 Z"/></clipPath><path d="M907.5 62.5 Q935 47 962 38.6 Q972 35.5 981 38.5 Q993 43 993.5 54 Q992 66 992.5 76 Q996 92 1003.5 101 Q990 94 964 91.5 Q935 88 907.5 91 Z" fill="#2a1c06"/><g clip-path="url(#loopclip2)"><g filter="url(#blur05)"><ellipse cx="911.9" cy="82.3" rx="1.8" ry="1.4" fill="#ffcf50"/><ellipse cx="943.8" cy="80.1" rx="0.9" ry="0.8" fill="#ffcf50"/><ellipse cx="965.9" cy="68.6" rx="1.2" ry="0.8" fill="#fff3c4"/><ellipse cx="930.3" cy="61.8" rx="2.1" ry="1.5" fill="#f2c040"/><ellipse cx="945.4" cy="54.3" rx="1.1" ry="1.2" fill="#d9a020"/><ellipse cx="933.3" cy="63.4" rx="1.4" ry="1.6" fill="#d9a020"/><ellipse cx="920.8" cy="47.6" rx="1.2" ry="0.7" fill="#e0b030"/><ellipse cx="987.4" cy="48.0" rx="1.3" ry="1.1" fill="#ffe9a0"/><ellipse cx="942.2" cy="73.4" rx="2.2" ry="2.0" fill="#ffd75a"/><ellipse cx="991.4" cy="98.8" rx="1.9" ry="1.6" fill="#d9a020"/><ellipse cx="944.6" cy="67.8" rx="1.5" ry="0.9" fill="#e0b030"/><ellipse cx="926.5" cy="46.7" rx="1.4" ry="0.9" fill="#ffd75a"/><ellipse cx="961.5" cy="71.4" rx="2.2" ry="1.4" fill="#ffd75a"/><ellipse cx="926.4" cy="60.8" rx="1.8" ry="1.7" fill="#ffe080"/><ellipse cx="952.5" cy="43.6" rx="1.6" ry="1.4" fill="#ffcf50"/><ellipse cx="936.6" cy="45.5" rx="1.9" ry="1.7" fill="#fff3c4"/><ellipse cx="973.8" cy="70.1" rx="1.2" ry="0.8" fill="#ffe080"/><ellipse cx="959.2" cy="37.8" rx="1.6" ry="1.7" fill="#f2c040"/><ellipse cx="931.6" cy="60.2" rx="1.1" ry="1.0" fill="#e0b030"/><ellipse cx="982.3" cy="57.8" rx="1.2" ry="1.3" fill="#e0b030"/><ellipse cx="986.2" cy="84.8" rx="1.2" ry="1.0" fill="#ffcf50"/><ellipse cx="908.8" cy="37.8" rx="1.3" ry="0.9" fill="#fff3c4"/><ellipse cx="965.3" cy="58.7" rx="2.0" ry="2.4" fill="#ffe080"/><ellipse cx="941.7" cy="50.6" rx="1.2" ry="1.0" fill="#e0b030"/><ellipse cx="953.3" cy="101.0" rx="1.8" ry="1.6" fill="#ffd75a"/><ellipse cx="970.0" cy="88.8" rx="1.0" ry="1.2" fill="#f2c040"/><ellipse cx="982.7" cy="85.5" rx="1.6" ry="1.4" fill="#ffe9a0"/><ellipse cx="968.3" cy="41.7" rx="2.2" ry="2.0" fill="#d9a020"/><ellipse cx="978.8" cy="41.6" rx="1.1" ry="0.7" fill="#ffe9a0"/><ellipse cx="963.9" cy="66.7" rx="1.8" ry="1.8" fill="#ffcf50"/><ellipse cx="940.3" cy="72.2" rx="1.1" ry="1.2" fill="#ffd75a"/><ellipse cx="977.2" cy="42.8" rx="1.9" ry="1.7" fill="#ffe9a0"/><ellipse cx="991.4" cy="90.5" rx="1.2" ry="0.9" fill="#fff3c4"/><ellipse cx="955.1" cy="86.4" rx="1.4" ry="1.5" fill="#d9a020"/><ellipse cx="912.0" cy="84.8" rx="2.2" ry="2.4" fill="#d9a020"/><ellipse cx="992.1" cy="44.6" rx="1.1" ry="1.3" fill="#ffd75a"/><ellipse cx="982.1" cy="76.2" rx="2.0" ry="1.4" fill="#ffe9a0"/><ellipse cx="952.4" cy="83.9" rx="1.7" ry="1.7" fill="#ffe080"/><ellipse cx="958.0" cy="67.8" rx="2.0" ry="1.5" fill="#ffd75a"/><ellipse cx="933.1" cy="87.0" rx="1.6" ry="1.7" fill="#ffd75a"/><ellipse cx="995.4" cy="65.3" rx="1.8" ry="1.8" fill="#e0b030"/><ellipse cx="950.3" cy="71.2" rx="1.6" ry="1.6" fill="#e0b030"/><ellipse cx="991.9" cy="98.2" rx="1.3" ry="1.4" fill="#e0b030"/><ellipse cx="919.4" cy="44.0" rx="1.5" ry="1.5" fill="#f2c040"/><ellipse cx="948.0" cy="50.0" rx="1.3" ry="1.5" fill="#f2c040"/><ellipse cx="921.1" cy="83.3" rx="1.8" ry="1.4" fill="#ffe9a0"/><ellipse cx="919.5" cy="66.9" rx="1.9" ry="1.6" fill="#f2c040"/><ellipse cx="953.8" cy="101.3" rx="2.1" ry="2.1" fill="#ffe9a0"/><ellipse cx="1003.4" cy="62.7" rx="1.5" ry="1.2" fill="#ffe080"/><ellipse cx="976.8" cy="37.3" rx="1.7" ry="1.7" fill="#ffcf50"/><ellipse cx="943.7" cy="70.2" rx="1.3" ry="0.9" fill="#f2c040"/><ellipse cx="996.0" cy="51.1" rx="2.1" ry="1.6" fill="#f2c040"/><ellipse cx="909.9" cy="87.4" rx="1.3" ry="1.4" fill="#ffe9a0"/><ellipse cx="989.3" cy="80.6" rx="2.2" ry="1.5" fill="#d9a020"/><ellipse cx="996.1" cy="73.7" rx="1.9" ry="1.4" fill="#f2c040"/><ellipse cx="984.4" cy="48.1" rx="2.2" ry="2.5" fill="#fff3c4"/><ellipse cx="968.2" cy="88.9" rx="1.0" ry="0.7" fill="#e0b030"/><ellipse cx="990.6" cy="65.9" rx="1.4" ry="1.6" fill="#d9a020"/><ellipse cx="932.3" cy="44.5" rx="1.6" ry="1.9" fill="#e0b030"/><ellipse cx="1001.0" cy="53.3" rx="1.2" ry="1.1" fill="#fff3c4"/><ellipse cx="958.0" cy="49.6" rx="1.5" ry="1.2" fill="#ffe9a0"/><ellipse cx="984.8" cy="101.6" rx="1.0" ry="1.0" fill="#ffd75a"/><ellipse cx="960.0" cy="48.5" rx="1.6" ry="1.0" fill="#ffcf50"/><ellipse cx="986.3" cy="64.5" rx="1.6" ry="1.9" fill="#d9a020"/><ellipse cx="936.2" cy="50.2" rx="1.2" ry="1.3" fill="#e0b030"/><ellipse cx="975.3" cy="78.0" rx="1.5" ry="1.7" fill="#ffe080"/><ellipse cx="988.0" cy="36.9" rx="1.8" ry="1.5" fill="#fff3c4"/><ellipse cx="911.4" cy="79.9" rx="1.4" ry="1.4" fill="#fff3c4"/><ellipse cx="973.9" cy="39.0" rx="1.2" ry="1.0" fill="#fff3c4"/><ellipse cx="931.8" cy="99.5" rx="2.3" ry="1.7" fill="#ffe080"/><ellipse cx="1000.6" cy="56.4" rx="1.4" ry="1.1" fill="#ffd75a"/><ellipse cx="914.2" cy="54.4" rx="1.8" ry="1.6" fill="#e0b030"/><ellipse cx="906.5" cy="53.4" rx="1.0" ry="1.0" fill="#d9a020"/><ellipse cx="944.6" cy="55.8" rx="1.8" ry="1.7" fill="#f2c040"/><ellipse cx="957.9" cy="85.5" rx="1.8" ry="1.9" fill="#d9a020"/><ellipse cx="976.6" cy="68.6" rx="1.3" ry="0.8" fill="#ffe9a0"/><ellipse cx="987.9" cy="94.9" rx="1.8" ry="2.0" fill="#ffe9a0"/><ellipse cx="979.8" cy="73.5" rx="2.0" ry="2.2" fill="#ffd75a"/><ellipse cx="963.2" cy="94.9" rx="1.9" ry="1.2" fill="#e0b030"/><ellipse cx="910.1" cy="78.0" rx="2.2" ry="2.5" fill="#d9a020"/><ellipse cx="960.7" cy="77.4" rx="1.8" ry="1.6" fill="#e0b030"/><ellipse cx="906.3" cy="88.6" rx="1.9" ry="1.9" fill="#f2c040"/><ellipse cx="912.5" cy="84.6" rx="1.3" ry="1.4" fill="#f2c040"/><ellipse cx="929.0" cy="85.9" rx="1.2" ry="1.1" fill="#ffcf50"/><ellipse cx="943.5" cy="67.6" rx="1.9" ry="1.8" fill="#ffd75a"/><ellipse cx="969.0" cy="41.1" rx="1.1" ry="1.1" fill="#fff3c4"/><ellipse cx="973.9" cy="77.0" rx="1.1" ry="0.7" fill="#ffcf50"/><ellipse cx="932.3" cy="80.4" rx="1.9" ry="1.4" fill="#ffcf50"/><ellipse cx="956.6" cy="66.7" rx="1.6" ry="1.9" fill="#f2c040"/><ellipse cx="959.8" cy="56.6" rx="1.0" ry="0.6" fill="#ffcf50"/><ellipse cx="951.0" cy="90.1" rx="2.3" ry="2.7" fill="#ffcf50"/><ellipse cx="943.9" cy="96.5" rx="2.2" ry="2.1" fill="#f2c040"/><ellipse cx="919.9" cy="70.6" rx="2.2" ry="2.1" fill="#ffe9a0"/><ellipse cx="967.9" cy="54.5" rx="1.1" ry="0.8" fill="#ffe080"/><ellipse cx="994.0" cy="68.1" rx="0.9" ry="1.1" fill="#ffd75a"/><ellipse cx="972.8" cy="62.8" rx="1.9" ry="1.5" fill="#d9a020"/><ellipse cx="937.0" cy="91.5" rx="0.9" ry="1.0" fill="#ffe080"/><ellipse cx="917.8" cy="97.1" rx="1.9" ry="1.4" fill="#fff3c4"/><ellipse cx="912.4" cy="61.8" rx="2.1" ry="1.7" fill="#f2c040"/><ellipse cx="947.9" cy="54.2" rx="1.0" ry="0.6" fill="#f2c040"/><ellipse cx="970.9" cy="77.9" rx="1.1" ry="1.0" fill="#fff3c4"/><ellipse cx="936.9" cy="87.0" rx="2.0" ry="2.3" fill="#d9a020"/><ellipse cx="985.6" cy="77.6" rx="2.2" ry="2.2" fill="#e0b030"/><ellipse cx="910.8" cy="84.3" rx="1.5" ry="1.5" fill="#ffe9a0"/><ellipse cx="934.0" cy="39.2" rx="2.2" ry="1.5" fill="#ffe9a0"/><ellipse cx="946.7" cy="54.6" rx="1.3" ry="1.1" fill="#fff3c4"/><ellipse cx="929.4" cy="67.9" rx="1.8" ry="1.3" fill="#f2c040"/><ellipse cx="921.8" cy="49.7" rx="2.2" ry="2.0" fill="#ffcf50"/><ellipse cx="950.4" cy="58.0" rx="2.0" ry="1.3" fill="#d9a020"/><ellipse cx="924.9" cy="42.0" rx="1.4" ry="1.1" fill="#f2c040"/><ellipse cx="942.1" cy="89.4" rx="1.2" ry="1.2" fill="#ffd75a"/><ellipse cx="946.5" cy="63.3" rx="1.6" ry="1.2" fill="#d9a020"/><ellipse cx="979.7" cy="68.9" rx="1.7" ry="1.2" fill="#ffe080"/><ellipse cx="955.3" cy="77.6" rx="2.1" ry="1.4" fill="#e0b030"/><ellipse cx="993.9" cy="61.4" rx="1.8" ry="2.1" fill="#d9a020"/><ellipse cx="989.2" cy="93.6" rx="0.9" ry="0.8" fill="#ffd75a"/><ellipse cx="980.8" cy="89.1" rx="2.3" ry="1.4" fill="#ffcf50"/><ellipse cx="944.4" cy="97.2" rx="2.1" ry="2.4" fill="#ffcf50"/><ellipse cx="930.3" cy="43.2" rx="1.1" ry="1.3" fill="#f2c040"/><ellipse cx="976.7" cy="78.7" rx="2.0" ry="1.3" fill="#ffcf50"/><ellipse cx="982.1" cy="36.1" rx="1.1" ry="1.1" fill="#ffd75a"/><ellipse cx="935.8" cy="44.4" rx="1.3" ry="1.3" fill="#d9a020"/><ellipse cx="917.0" cy="40.6" rx="1.6" ry="1.4" fill="#e0b030"/><ellipse cx="927.9" cy="75.7" rx="0.9" ry="1.1" fill="#fff3c4"/><ellipse cx="933.3" cy="56.9" rx="2.1" ry="1.8" fill="#e0b030"/><ellipse cx="929.0" cy="52.3" rx="2.2" ry="1.4" fill="#fff3c4"/><ellipse cx="925.0" cy="94.4" rx="1.8" ry="1.4" fill="#f2c040"/><ellipse cx="971.4" cy="97.1" rx="1.2" ry="1.2" fill="#ffd75a"/><ellipse cx="976.4" cy="59.9" rx="1.5" ry="1.6" fill="#ffd75a"/><ellipse cx="978.4" cy="69.3" rx="1.2" ry="0.9" fill="#e0b030"/><ellipse cx="986.4" cy="51.2" rx="1.2" ry="0.8" fill="#fff3c4"/><ellipse cx="967.1" cy="76.3" rx="2.2" ry="1.8" fill="#ffcf50"/><ellipse cx="971.2" cy="98.6" rx="1.1" ry="0.7" fill="#d9a020"/><ellipse cx="908.3" cy="75.3" rx="1.5" ry="1.1" fill="#ffd75a"/><ellipse cx="950.1" cy="83.0" rx="1.3" ry="1.6" fill="#f2c040"/><ellipse cx="997.3" cy="57.7" rx="1.2" ry="0.7" fill="#ffcf50"/><ellipse cx="971.1" cy="61.0" rx="1.4" ry="1.2" fill="#ffe080"/><ellipse cx="916.7" cy="41.2" rx="1.0" ry="1.2" fill="#d9a020"/><ellipse cx="918.1" cy="99.6" rx="1.2" ry="1.3" fill="#ffe080"/><ellipse cx="936.3" cy="89.1" rx="1.0" ry="0.7" fill="#ffcf50"/><ellipse cx="959.1" cy="65.5" rx="1.4" ry="0.8" fill="#ffcf50"/><ellipse cx="946.3" cy="89.6" rx="2.0" ry="1.6" fill="#ffd75a"/><ellipse cx="951.5" cy="89.0" rx="1.0" ry="1.0" fill="#e0b030"/><ellipse cx="994.1" cy="58.4" rx="1.3" ry="1.0" fill="#ffd75a"/><ellipse cx="976.2" cy="56.9" rx="1.3" ry="1.3" fill="#ffd75a"/><ellipse cx="964.4" cy="89.2" rx="2.2" ry="1.4" fill="#f2c040"/><ellipse cx="928.9" cy="67.4" rx="2.2" ry="2.4" fill="#d9a020"/><ellipse cx="995.5" cy="89.8" rx="1.1" ry="0.8" fill="#ffcf50"/><ellipse cx="984.7" cy="84.7" rx="2.1" ry="2.0" fill="#ffe9a0"/><ellipse cx="938.1" cy="57.1" rx="1.4" ry="1.3" fill="#f2c040"/><ellipse cx="944.4" cy="46.6" rx="1.5" ry="1.3" fill="#ffd75a"/><ellipse cx="959.4" cy="46.6" rx="1.5" ry="1.8" fill="#f2c040"/><ellipse cx="932.0" cy="41.5" rx="1.0" ry="1.2" fill="#ffcf50"/><ellipse cx="1001.3" cy="47.4" rx="1.1" ry="1.1" fill="#ffcf50"/><ellipse cx="972.1" cy="85.4" rx="2.1" ry="2.2" fill="#f2c040"/><ellipse cx="934.8" cy="54.4" rx="1.3" ry="1.3" fill="#fff3c4"/><ellipse cx="925.5" cy="52.3" rx="1.2" ry="1.0" fill="#ffe9a0"/><ellipse cx="994.9" cy="48.4" rx="1.0" ry="1.2" fill="#fff3c4"/><ellipse cx="955.7" cy="51.3" rx="2.0" ry="2.4" fill="#ffcf50"/><ellipse cx="916.0" cy="67.3" rx="2.0" ry="2.4" fill="#ffcf50"/><ellipse cx="910.0" cy="55.4" rx="1.1" ry="1.0" fill="#e0b030"/><ellipse cx="987.1" cy="48.8" rx="1.0" ry="0.9" fill="#ffe9a0"/><ellipse cx="931.5" cy="87.3" rx="2.2" ry="2.2" fill="#f2c040"/><ellipse cx="975.6" cy="59.1" rx="1.0" ry="0.7" fill="#ffe080"/><ellipse cx="926.0" cy="52.8" rx="1.7" ry="1.9" fill="#e0b030"/><ellipse cx="986.2" cy="63.0" rx="1.4" ry="0.9" fill="#fff3c4"/><ellipse cx="909.1" cy="68.7" rx="1.6" ry="1.0" fill="#d9a020"/><ellipse cx="944.7" cy="72.3" rx="1.8" ry="1.8" fill="#f2c040"/><ellipse cx="945.0" cy="53.9" rx="2.3" ry="1.9" fill="#fff3c4"/><ellipse cx="911.0" cy="85.2" rx="2.1" ry="1.8" fill="#d9a020"/><ellipse cx="990.7" cy="101.8" rx="1.4" ry="1.2" fill="#e0b030"/><ellipse cx="945.7" cy="98.2" rx="1.5" ry="1.3" fill="#ffe9a0"/><ellipse cx="986.4" cy="62.8" rx="2.1" ry="2.3" fill="#ffcf50"/><ellipse cx="918.7" cy="39.4" rx="1.1" ry="0.7" fill="#d9a020"/><ellipse cx="967.0" cy="60.5" rx="1.6" ry="1.3" fill="#ffe9a0"/><ellipse cx="921.9" cy="47.3" rx="1.0" ry="0.9" fill="#d9a020"/><ellipse cx="984.9" cy="99.8" rx="1.2" ry="1.3" fill="#ffe9a0"/><ellipse cx="910.3" cy="96.2" rx="1.3" ry="0.9" fill="#d9a020"/><ellipse cx="975.8" cy="81.4" rx="2.1" ry="2.1" fill="#e0b030"/><ellipse cx="966.2" cy="48.9" rx="1.6" ry="1.0" fill="#e0b030"/><ellipse cx="998.0" cy="46.3" rx="1.4" ry="1.0" fill="#ffe9a0"/><ellipse cx="977.0" cy="95.2" rx="1.0" ry="1.0" fill="#ffd75a"/><ellipse cx="937.8" cy="61.7" rx="1.5" ry="1.5" fill="#fff3c4"/><ellipse cx="936.2" cy="52.5" rx="1.4" ry="1.3" fill="#ffe080"/><ellipse cx="949.0" cy="37.5" rx="1.8" ry="1.6" fill="#ffcf50"/><ellipse cx="949.8" cy="76.8" rx="2.0" ry="2.2" fill="#ffe9a0"/><ellipse cx="945.2" cy="40.4" rx="1.4" ry="0.9" fill="#ffe080"/><ellipse cx="949.3" cy="69.7" rx="1.0" ry="0.6" fill="#ffe9a0"/><ellipse cx="977.9" cy="87.3" rx="1.6" ry="1.7" fill="#ffd75a"/><ellipse cx="993.7" cy="79.1" rx="2.0" ry="2.2" fill="#ffd75a"/><ellipse cx="1003.6" cy="84.3" rx="2.0" ry="1.4" fill="#e0b030"/><ellipse cx="992.8" cy="55.0" rx="2.0" ry="2.1" fill="#ffe9a0"/><ellipse cx="976.7" cy="50.6" rx="2.1" ry="1.4" fill="#fff3c4"/><ellipse cx="993.9" cy="54.1" rx="2.0" ry="1.5" fill="#ffe9a0"/><ellipse cx="1000.5" cy="67.7" rx="1.7" ry="1.4" fill="#e0b030"/><ellipse cx="909.6" cy="48.0" rx="1.1" ry="1.1" fill="#fff3c4"/><ellipse cx="993.8" cy="47.1" rx="2.0" ry="2.1" fill="#f2c040"/><ellipse cx="910.8" cy="92.6" rx="2.3" ry="2.1" fill="#ffcf50"/><ellipse cx="962.8" cy="94.2" rx="1.0" ry="1.1" fill="#d9a020"/><ellipse cx="942.4" cy="60.8" rx="1.4" ry="1.2" fill="#ffe9a0"/><ellipse cx="980.9" cy="65.2" rx="1.1" ry="0.9" fill="#ffd75a"/><ellipse cx="956.6" cy="56.5" rx="2.3" ry="2.3" fill="#ffe080"/><ellipse cx="979.2" cy="50.6" rx="1.3" ry="1.1" fill="#d9a020"/><ellipse cx="941.7" cy="39.2" rx="1.6" ry="1.0" fill="#ffd75a"/><ellipse cx="906.3" cy="59.4" rx="1.0" ry="1.0" fill="#ffe080"/><ellipse cx="946.5" cy="55.9" rx="1.1" ry="1.1" fill="#ffe080"/><ellipse cx="952.5" cy="44.9" rx="2.2" ry="2.3" fill="#e0b030"/><ellipse cx="950.2" cy="40.2" rx="1.1" ry="0.9" fill="#fff3c4"/><ellipse cx="931.9" cy="36.8" rx="1.8" ry="1.7" fill="#ffe080"/><ellipse cx="962.7" cy="75.7" rx="1.6" ry="1.2" fill="#ffcf50"/><ellipse cx="994.5" cy="38.9" rx="1.6" ry="1.2" fill="#d9a020"/><ellipse cx="921.6" cy="96.2" rx="1.0" ry="0.7" fill="#e0b030"/><ellipse cx="925.6" cy="76.1" rx="1.6" ry="1.8" fill="#d9a020"/><ellipse cx="923.1" cy="56.4" rx="1.3" ry="1.6" fill="#ffd75a"/><ellipse cx="977.0" cy="67.5" rx="1.7" ry="1.8" fill="#d9a020"/><ellipse cx="979.0" cy="66.7" rx="1.9" ry="1.4" fill="#ffcf50"/><ellipse cx="1003.7" cy="53.3" rx="1.8" ry="1.4" fill="#f2c040"/><ellipse cx="979.5" cy="81.9" rx="2.1" ry="1.6" fill="#ffd75a"/><ellipse cx="960.3" cy="64.8" rx="2.0" ry="1.6" fill="#fff3c4"/><ellipse cx="997.0" cy="95.0" rx="1.0" ry="0.7" fill="#ffd75a"/><ellipse cx="994.7" cy="91.6" rx="1.2" ry="1.2" fill="#ffe9a0"/><ellipse cx="938.0" cy="94.1" rx="1.4" ry="1.1" fill="#e0b030"/><ellipse cx="989.5" cy="96.8" rx="2.3" ry="2.0" fill="#ffcf50"/><ellipse cx="958.0" cy="36.4" rx="0.9" ry="0.9" fill="#e0b030"/><ellipse cx="936.2" cy="50.0" rx="1.8" ry="1.7" fill="#f2c040"/><ellipse cx="922.8" cy="38.2" rx="1.1" ry="0.9" fill="#ffe9a0"/><ellipse cx="919.9" cy="37.9" rx="1.0" ry="1.0" fill="#ffd75a"/><ellipse cx="978.2" cy="40.3" rx="1.7" ry="1.2" fill="#ffe080"/><ellipse cx="999.5" cy="71.2" rx="1.8" ry="1.2" fill="#d9a020"/><ellipse cx="926.2" cy="43.4" rx="0.9" ry="1.0" fill="#f2c040"/></g></g><path d="M907.5 62.5 Q935 47 962 38.6 Q972 35.5 981 38.5 Q993 43 993.5 54 Q992 66 992.5 76 Q996 92 1003.5 101 Q990 94 964 91.5 Q935 88 907.5 91 Z" fill="none" stroke="#d9a632" stroke-width="4.6" stroke-linejoin="round" opacity="0.85" filter="url(#blur05)"/><path d="M907.5 62.5 Q935 47 962 38.6 Q972 35.5 981 38.5 Q993 43 993.5 54 Q992 66 992.5 76 Q996 92 1003.5 101 Q990 94 964 91.5 Q935 88 907.5 91 Z" fill="none" stroke="#fff0b4" stroke-width="2.6" stroke-dasharray="0.1 3.3" stroke-linecap="round"/><path d="M907.5 91.5 Q935 96 956 107 Q975 117 992 117.5 Q1003 116 1004 104 Q990 95 964 92" fill="none" stroke="#fffbe8" stroke-width="3" stroke-dasharray="2.6 1.1" /><path d="M952 48 L962 48 M957 43 L957 53" stroke="#fff" stroke-width="0.8" opacity="0.9"/><circle cx="957" cy="48" r="1.3" fill="#fff"/><path d="M989 111 L1001 111 M995 105 L995 117" stroke="#fff" stroke-width="0.8" opacity="0.9"/><circle cx="995" cy="111" r="1.3" fill="#fff"/><path d="M922 105 L930 105 M926 101 L926 109" stroke="#fff" stroke-width="0.8" opacity="0.9"/><circle cx="926" cy="105" r="1.3" fill="#fff"/><path d="M977 118 L987 118 M982 113 L982 123" stroke="#fff" stroke-width="0.8" opacity="0.9"/><circle cx="982" cy="118" r="1.3" fill="#fff"/></g><path d="M663 18 L1106.3 18 M663.3 18 L663.3 40 M803.6 18 L803.6 37 M976.4 18 L976.4 37 M1106 18 L1106 39" stroke="#b9b9b9" stroke-width="1.1" fill="none"/><path d="M873 38 L897 38" stroke="#555" stroke-width="0.8" fill="none"/><g fill="none" stroke="#fff" stroke-width="1.25"><rect x="890.2" y="75.6" width="17" height="3.4" rx="1.2" transform="rotate(0 885.2 77.3)"/><rect x="890.2" y="75.6" width="17" height="3.4" rx="1.2" transform="rotate(30 885.2 77.3)"/><rect x="890.2" y="75.6" width="17" height="3.4" rx="1.2" transform="rotate(60 885.2 77.3)"/><rect x="890.2" y="75.6" width="17" height="3.4" rx="1.2" transform="rotate(90 885.2 77.3)"/><rect x="890.2" y="75.6" width="17" height="3.4" rx="1.2" transform="rotate(120 885.2 77.3)"/><rect x="890.2" y="75.6" width="17" height="3.4" rx="1.2" transform="rotate(150 885.2 77.3)"/><rect x="890.2" y="75.6" width="17" height="3.4" rx="1.2" transform="rotate(180 885.2 77.3)"/><rect x="890.2" y="75.6" width="17" height="3.4" rx="1.2" transform="rotate(210 885.2 77.3)"/><rect x="890.2" y="75.6" width="17" height="3.4" rx="1.2" transform="rotate(240 885.2 77.3)"/><rect x="890.2" y="75.6" width="17" height="3.4" rx="1.2" transform="rotate(270 885.2 77.3)"/><rect x="890.2" y="75.6" width="17" height="3.4" rx="1.2" transform="rotate(300 885.2 77.3)"/><rect x="890.2" y="75.6" width="17" height="3.4" rx="1.2" transform="rotate(330 885.2 77.3)"/></g><circle cx="885.2" cy="77.3" r="3.4" fill="#000" stroke="#fff" stroke-width="1.2"/><polygon points="156.3,420.5 295.1,369.6 296.8,374.2 308.3,362.0 291.6,360.1 293.3,364.7 154.5,415.7" fill="#ee1010" /><polygon points="183.3,458.0 323.8,495.9 322.6,500.6 339.0,497.3 326.5,486.2 325.2,490.9 184.7,453.0" fill="#ee1010" /><polygon points="490.5,468.0 646.0,468.0 646.0,475.0 660.7,464.5 646.0,454.0 646.0,461.0 490.5,461.0" fill="#ee1010" /><polygon points="464.8,583.1 591.0,584.3 590.9,589.0 605.0,582.6 591.1,576.0 591.0,580.7 464.8,579.5" fill="#ee1010" /><polygon points="1042.0,410.0 1274.2,410.0 1274.2,416.0 1288.2,406.5 1274.2,397.0 1274.2,403.0 1042.0,403.0" fill="#ee1010" /><polygon points="130.8,564.9 83.1,590.6 80.9,586.6 71.7,599.0 87.1,598.1 85.0,594.1 132.6,568.5" fill="#ef8440" /><polygon points="190.2,557.1 222.4,592.0 219.0,595.1 233.3,601.0 228.6,586.3 225.3,589.3 193.2,554.3" fill="#ef8440" /><rect x="9.0" y="691.0" width="344.0" height="45.0" rx="9" fill="#f47c2c" /><ellipse cx="0" cy="0" rx="1" ry="1" fill="url(#g41)" transform="translate(40 26) scale(34 24)"/><rect x="75" y="19" width="172" height="19" fill="#060606" filter="url(#blur2)"/><ellipse cx="248" cy="25.5" rx="3" ry="2" fill="#bbb" filter="url(#blur2)" opacity="0.8"/>
</svg>
<div class="t" style="left:250.46px;top:21.70px;font-size:19px;line-height:19px;font-weight:bold;font-style:italic;color:#fff;transform:scaleX(0.9771);">ING</div>
<div class="t" style="left:18.71px;top:77.80px;font-size:70px;line-height:70px;font-weight:normal;font-style:normal;color:#fff;-webkit-text-stroke:0.5px #fff;transform:scaleX(1.0537);">Installation</div>
<div class="t" style="left:18.66px;top:137.00px;font-size:70px;line-height:70px;font-weight:normal;font-style:normal;color:#fff;-webkit-text-stroke:0.5px #fff;transform:scaleX(1.0624);">Instruction</div>
<div class="t" style="left:21.52px;top:608.50px;font-size:27px;line-height:27px;font-weight:normal;font-style:normal;color:#fff;-webkit-text-stroke:0.3px #fff;transform:scaleX(1.0746);">light pole</div>
<div class="t" style="left:221.58px;top:608.50px;font-size:27px;line-height:27px;font-weight:normal;font-style:normal;color:#fff;-webkit-text-stroke:0.3px #fff;transform:scaleX(1.0998);">motif light</div>
<div class="t" style="left:222.46px;top:645.40px;font-size:27px;line-height:27px;font-weight:normal;font-style:normal;color:#fff;-webkit-text-stroke:0.3px #fff;transform:scaleX(1.0386);">aluminum frame</div>
<div class="t" style="left:20.93px;top:694.00px;font-size:36px;line-height:36px;font-weight:normal;font-style:normal;color:#fff3e6;-webkit-text-stroke:0.7px #fff3e6;transform:scaleX(1.0478);">Contact Us Details</div>
<div class="t" style="left:444.26px;top:271.30px;font-size:27px;line-height:27px;font-weight:normal;font-style:normal;color:#fff;-webkit-text-stroke:0.3px #fff;transform:scaleX(1.0837);">steel ring</div>
<div class="t" style="left:515.45px;top:392.50px;font-size:24.5px;line-height:24.5px;font-weight:normal;font-style:normal;color:#fff;-webkit-text-stroke:0.3px #fff;transform:scaleX(1.1088);">stack</div>
<div class="t" style="left:514.13px;top:419.10px;font-size:24.5px;line-height:24.5px;font-weight:normal;font-style:normal;color:#fff;-webkit-text-stroke:0.3px #fff;transform:scaleX(1.2439);">mounting</div>
<div class="t" style="left:427.44px;top:600.40px;font-size:27px;line-height:27px;font-weight:normal;font-style:normal;color:#fff;-webkit-text-stroke:0.3px #fff;transform:scaleX(1.1472);">“U”</div>
<div class="t" style="left:485.38px;top:600.40px;font-size:27px;line-height:27px;font-weight:normal;font-style:normal;color:#fff;-webkit-text-stroke:0.3px #fff;transform:scaleX(1.0436);">steel</div>
<div class="t" style="left:699.26px;top:668.80px;font-size:25.5px;line-height:25.5px;font-weight:normal;font-style:normal;color:#fff;-webkit-text-stroke:0.3px #fff;transform:scaleX(1.0818);">The "U" steel and motif light are factory</div>
<div class="t" style="left:700.07px;top:694.80px;font-size:25.5px;line-height:25.5px;font-weight:normal;font-style:normal;color:#fff;-webkit-text-stroke:0.3px #fff;transform:scaleX(1.0830);">welded and do not require installation.</div>
<div class="t" style="left:1043.80px;top:278.30px;font-size:25px;line-height:25px;font-weight:normal;font-style:normal;color:#fff;-webkit-text-stroke:0.55px #fff;transform:scaleX(1.1668);">Just tighten the</div>
<div class="t" style="left:1043.23px;top:315.70px;font-size:25px;line-height:25px;font-weight:normal;font-style:normal;color:#fff;-webkit-text-stroke:0.55px #fff;transform:scaleX(1.1311);">screws on the steel</div>
<div class="t" style="left:1042.28px;top:351.90px;font-size:25px;line-height:25px;font-weight:normal;font-style:normal;color:#fff;-webkit-text-stroke:0.55px #fff;transform:scaleX(1.2135);">ring to install it.</div>
<div class="t" style="left:1016.33px;top:427.00px;font-size:25px;line-height:25px;font-weight:normal;font-style:normal;color:#fff;-webkit-text-stroke:0.55px #fff;transform:scaleX(1.1733);">Customized in different</div>
<div class="t" style="left:1016.95px;top:451.50px;font-size:25px;line-height:25px;font-weight:normal;font-style:normal;color:#fff;-webkit-text-stroke:0.55px #fff;transform:scaleX(1.0909);">steel sizes</div>
<div class="t" style="left:793.84px;top:207.80px;font-size:19.5px;line-height:19.5px;font-weight:normal;font-style:normal;color:#f4f4f4;letter-spacing:1.6px;-webkit-text-stroke:0.4px #f4f4f4;transform:scaleX(1.0535);">size:500x118cm</div>
</div>
</body></html>
